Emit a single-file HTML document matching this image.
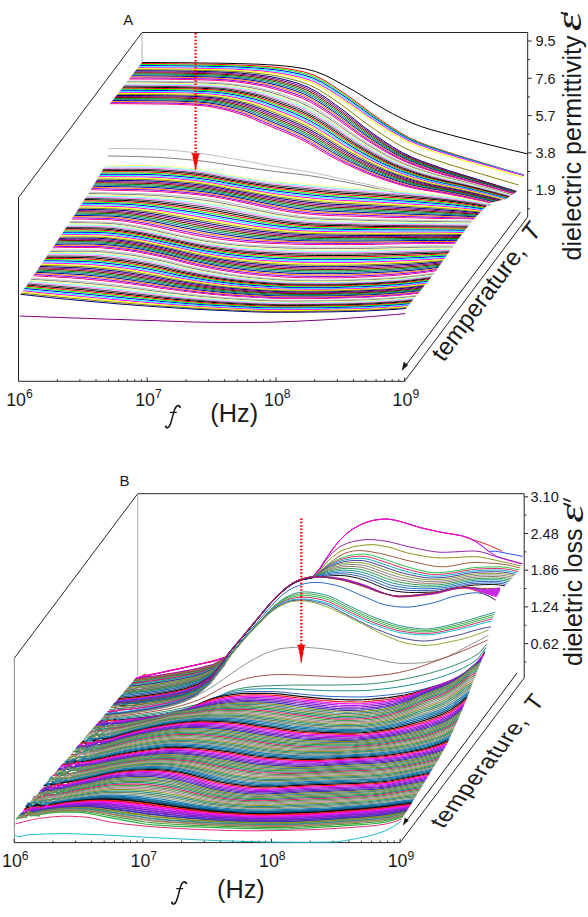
<!DOCTYPE html>
<html><head><meta charset="utf-8"><title>fig</title>
<style>
html,body{margin:0;padding:0;background:#fff;}
body{width:588px;height:917px;overflow:hidden;font-family:"Liberation Sans", sans-serif;}
svg{display:block;}
text{font-family:"Liberation Sans", sans-serif;fill:#1a1a1a;}
.se{font-family:"Liberation Serif", serif;font-style:italic;}
</style></head><body>
<svg width="588" height="917" viewBox="0 0 588 917">
<rect width="588" height="917" fill="#fff"/>
<path d="M142,32.5 L527.7,32.5" stroke="#262626" stroke-width="1" fill="none"/>
<path d="M142,32.5 L18.5,197.5" stroke="#262626" stroke-width="1" fill="none"/>
<path d="M18.5,197.5 L18.5,381.3" stroke="#222" stroke-width="1" fill="none"/>
<path d="M18.5,381.3 L404.5,381.3" stroke="#262626" stroke-width="1" fill="none"/>
<path d="M404.5,381.3 L527.7,217" stroke="#262626" stroke-width="1" fill="none"/>
<path d="M527.7,32.5 L527.7,217" stroke="#262626" stroke-width="1" fill="none"/>
<path d="M527.7,41h4M527.7,78.3h4M527.7,115.6h4M527.7,152.9h4M527.7,190.2h4M527.7,59.6h2.2M527.7,96.9h2.2M527.7,134.2h2.2M527.7,171.5h2.2M527.7,208.8h2.2" stroke="#262626" stroke-width="1" fill="none"/>
<path d="M18.5,381.3v-3.8M57.3,381.3v-2M79.9,381.3v-2M96,381.3v-2M108.5,381.3v-2M118.7,381.3v-2M127.3,381.3v-2M134.8,381.3v-2M141.3,381.3v-2M147.2,381.3v-3.8M186,381.3v-2M208.6,381.3v-2M224.7,381.3v-2M237.2,381.3v-2M247.4,381.3v-2M256,381.3v-2M263.5,381.3v-2M270.1,381.3v-2M276,381.3v-3.8M314.7,381.3v-2M337.4,381.3v-2M353.5,381.3v-2M365.9,381.3v-2M376.1,381.3v-2M384.7,381.3v-2M392.2,381.3v-2M398.8,381.3v-2M404.7,381.3v-3.8" stroke="#262626" stroke-width="1" fill="none"/>
<path d="M142,32.5V62" stroke="#999" stroke-width="0.8"/>
<path d="M137.7,493.7 L524.2,493.7" stroke="#262626" stroke-width="1" fill="none"/>
<path d="M137.7,493.7 L14.3,658.2" stroke="#262626" stroke-width="1" fill="none"/>
<path d="M14.3,658.2 L14.3,842.6" stroke="#888" stroke-width="1" fill="none"/>
<path d="M14.3,842.6 L400,842.6" stroke="#262626" stroke-width="1" fill="none"/>
<path d="M400,842.6 L524.2,678" stroke="#262626" stroke-width="1" fill="none"/>
<path d="M524.2,493.7 L524.2,678" stroke="#262626" stroke-width="1" fill="none"/>
<path d="M524.2,496.8h4M524.2,533.5h4M524.2,570.2h4M524.2,606.9h4M524.2,643.6h4M524.2,515.1h2.2M524.2,551.9h2.2M524.2,588.5h2.2M524.2,625.2h2.2M524.2,662h2.2" stroke="#262626" stroke-width="1" fill="none"/>
<path d="M14.3,842.6v-3.8M53,842.6v-2M75.7,842.6v-2M91.7,842.6v-2M104.2,842.6v-2M114.4,842.6v-2M123,842.6v-2M130.4,842.6v-2M137,842.6v-2M142.9,842.6v-3.8M181.6,842.6v-2M204.3,842.6v-2M220.3,842.6v-2M232.8,842.6v-2M243,842.6v-2M251.6,842.6v-2M259,842.6v-2M265.6,842.6v-2M271.5,842.6v-3.8M310.2,842.6v-2M332.9,842.6v-2M348.9,842.6v-2M361.4,842.6v-2M371.6,842.6v-2M380.2,842.6v-2M387.6,842.6v-2M394.2,842.6v-2M400.1,842.6v-3.8" stroke="#262626" stroke-width="1" fill="none"/>
<path d="M137.7,493.7V676" stroke="#999" stroke-width="0.8"/>
<g fill="none" stroke-width="1" stroke-linejoin="round">
<path d="M142,62.5l9.6,0 9.7,0.1 9.6,0.1 9.7,0 9.6,0.1 9.6,0.2 9.7,0.1 9.6,0.1 9.7,0.2 9.6,0.2 9.6,0.3 9.7,0.3 9.6,0.5 9.7,0.6 9.6,0.9 9.6,1.2 9.7,1.6 9.6,2.5 9.7,3.8 9.6,4.9 9.6,5.3 9.7,5.3 9.6,6 9.7,6 9.6,5.6 9.6,5.3 9.7,5 9.6,4.4 9.7,3.6 9.6,3 9.6,2.6 9.7,2.6 9.6,2.6 9.7,2.4 9.6,2.4 9.6,2.4 9.7,2.3 9.6,2.4 9.7,2.2 9.6,2.3" stroke="#000000"/>
<path d="M141.2,63.5l9.6,0.1 9.5,0 9.6,0.1 9.6,0.1 9.6,0.2 9.5,0.1 9.6,0.1 9.6,0.2 9.5,0.3 9.6,0.3 9.6,0.3 9.5,0.5 9.6,0.6 9.6,0.8 9.6,1.1 9.5,1.6 9.6,2 9.6,3 9.5,4.7 9.6,5.9 9.6,6.5 9.5,6.5 9.6,7.2 9.6,7.3 9.6,6.8 9.5,6.4 9.6,6.1 9.6,5.4 9.5,4.3 9.6,3.6 9.6,3.3 9.5,3.1 9.6,3.1 9.6,2.9 9.6,2.9 9.5,2.9 9.6,2.8 9.6,2.9 9.5,2.8 9.6,2.7" stroke="#ff0000"/>
<path d="M140.4,64.6l9.6,0 9.6,0.1 9.6,0 9.6,0.2 9.5,0.1 9.6,0.1 9.6,0.2 9.6,0.2 9.6,0.2 9.6,0.3 9.6,0.4 9.6,0.5 9.5,0.7 9.6,0.8 9.6,1.2 9.6,1.6 9.6,2.1 9.6,3.1 9.6,4.5 9.6,5.9 9.6,6.4 9.5,6.5 9.6,7.1 9.6,7.2 9.6,6.7 9.6,6.3 9.6,6 9.6,5.3 9.6,4.3 9.5,3.5 9.6,3.2 9.6,3.2 9.6,3 9.6,2.9 9.6,2.8 9.6,2.8 9.6,2.8 9.5,2.8 9.6,2.8 9.6,2.7" stroke="#00ff00"/>
<path d="M139.6,65.6l9.6,0 9.6,0.1 9.6,0.1 9.6,0.1 9.6,0.1 9.6,0.1 9.6,0.2 9.7,0.2 9.6,0.2 9.6,0.3 9.6,0.5 9.6,0.5 9.6,0.7 9.6,0.9 9.6,1.3 9.6,1.7 9.6,2.1 9.6,3.1 9.6,4.5 9.6,5.8 9.6,6.3 9.6,6.4 9.6,7 9.7,7.2 9.6,6.5 9.6,6.2 9.6,6 9.6,5.2 9.6,4.2 9.6,3.6 9.6,3.1 9.6,3.1 9.6,3 9.6,2.8 9.6,2.8 9.6,2.8 9.6,2.7 9.6,2.8 9.6,2.7 9.6,2.7" stroke="#0000ff"/>
<path d="M138.8,66.6l9.6,0.1 9.7,0 9.6,0.1 9.6,0.1 9.6,0.1 9.7,0.2 9.6,0.1 9.6,0.2 9.6,0.3 9.6,0.3 9.7,0.4 9.6,0.6 9.6,0.8 9.6,1 9.7,1.3 9.6,1.7 9.6,2.2 9.6,3 9.7,4.5 9.6,5.8 9.6,6.2 9.6,6.3 9.7,7 9.6,7 9.6,6.5 9.6,6.1 9.7,5.8 9.6,5.2 9.6,4.2 9.6,3.5 9.7,3.1 9.6,3.1 9.6,2.9 9.6,2.7 9.7,2.8 9.6,2.7 9.6,2.7 9.6,2.7 9.7,2.7 9.6,2.7" stroke="#00ffff"/>
<path d="M138,67.7l9.7,0.1 9.6,0 9.6,0.1 9.7,0.1 9.6,0.1 9.7,0.2 9.6,0.1 9.6,0.2 9.7,0.3 9.6,0.3 9.7,0.5 9.6,0.6 9.7,0.8 9.6,1.1 9.6,1.3 9.7,1.9 9.6,2.2 9.7,3 9.6,4.5 9.7,5.6 9.6,6.2 9.6,6.3 9.7,6.8 9.6,7 9.7,6.3 9.6,6.1 9.7,5.7 9.6,5.1 9.6,4.1 9.7,3.5 9.6,3.1 9.7,3 9.6,2.9 9.6,2.7 9.7,2.7 9.6,2.6 9.7,2.7 9.6,2.7 9.7,2.7 9.6,2.6" stroke="#ff00ff"/>
<path d="M137.2,68.7l9.6,0 9.7,0.1 9.6,0.1 9.6,0.1 9.7,0.1 9.6,0.1 9.6,0.2 9.7,0.2 9.6,0.3 9.6,0.3 9.7,0.5 9.6,0.7 9.6,0.8 9.7,1.1 9.6,1.5 9.6,1.9 9.7,2.3 9.6,3.1 9.6,4.5 9.7,5.6 9.6,6.1 9.6,6.3 9.7,6.9 9.6,6.9 9.6,6.4 9.6,6 9.7,5.8 9.6,5 9.6,4.2 9.7,3.4 9.6,3.2 9.6,3 9.7,2.8 9.6,2.7 9.6,2.7 9.7,2.6 9.6,2.7 9.6,2.7 9.7,2.7 9.6,2.6" stroke="#ffff00"/>
<path d="M136.4,69.7l9.6,0 9.5,0.1 9.6,0.1 9.5,0.1 9.6,0.1 9.5,0.2 9.6,0.1 9.6,0.3 9.5,0.3 9.6,0.4 9.5,0.5 9.6,0.8 9.5,1 9.6,1.2 9.5,1.6 9.6,2.2 9.5,2.5 9.6,3.3 9.6,4.7 9.5,6 9.6,6.5 9.5,6.8 9.6,7.3 9.5,7.3 9.6,6.7 9.5,6.4 9.6,6.1 9.5,5.3 9.6,4.4 9.6,3.7 9.5,3.4 9.6,3.1 9.5,3 9.6,2.9 9.5,2.8 9.6,2.8 9.5,2.8 9.6,2.9 9.5,2.8 9.6,2.8" stroke="#808000"/>
<path d="M135.6,70.7l9.5,0.1 9.6,0 9.5,0.1 9.5,0.1 9.5,0.2 9.5,0.1 9.6,0.2 9.5,0.2 9.5,0.4 9.5,0.4 9.6,0.6 9.5,0.9 9.5,1.1 9.5,1.3 9.5,1.8 9.6,2.3 9.5,2.7 9.5,3.5 9.5,5 9.6,6.2 9.5,6.8 9.5,7 9.5,7.7 9.5,7.6 9.6,7 9.5,6.6 9.5,6.3 9.5,5.6 9.6,4.6 9.5,3.9 9.5,3.4 9.5,3.3 9.5,3.2 9.6,2.9 9.5,2.9 9.5,2.9 9.5,3 9.6,2.9 9.5,3 9.5,2.9" stroke="#000080"/>
<path d="M134.8,71.8l9.5,0 9.6,0.1 9.5,0.1 9.5,0.1 9.6,0.1 9.5,0.1 9.5,0.2 9.6,0.3 9.5,0.3 9.5,0.4 9.6,0.7 9.5,0.9 9.5,1.1 9.6,1.5 9.5,1.8 9.5,2.4 9.6,2.8 9.5,3.5 9.5,4.9 9.5,6.1 9.6,6.8 9.5,7 9.5,7.5 9.6,7.5 9.5,6.9 9.5,6.6 9.6,6.3 9.5,5.5 9.5,4.5 9.6,3.8 9.5,3.5 9.5,3.3 9.6,3 9.5,2.9 9.5,2.8 9.6,2.9 9.5,2.9 9.5,3 9.5,2.9 9.6,2.9" stroke="#800080"/>
<path d="M134,72.8l9.6,0 9.5,0.1 9.5,0.1 9.6,0.1 9.5,0.1 9.6,0.2 9.5,0.1 9.5,0.3 9.6,0.4 9.5,0.4 9.6,0.7 9.5,0.9 9.6,1.2 9.5,1.5 9.5,1.9 9.6,2.5 9.5,2.8 9.6,3.5 9.5,4.9 9.5,6.1 9.6,6.7 9.5,6.9 9.6,7.5 9.5,7.4 9.5,6.8 9.6,6.5 9.5,6.2 9.6,5.4 9.5,4.5 9.5,3.8 9.6,3.4 9.5,3.3 9.6,3 9.5,2.8 9.6,2.8 9.5,2.8 9.5,2.9 9.6,2.9 9.5,2.9 9.6,2.9" stroke="#800000"/>
<path d="M133.2,73.8l9.6,0.1 9.5,0 9.6,0.1 9.5,0.1 9.6,0.1 9.5,0.2 9.6,0.2 9.5,0.2 9.6,0.4 9.5,0.4 9.6,0.7 9.5,1.1 9.6,1.2 9.5,1.5 9.6,2 9.5,2.6 9.6,2.8 9.5,3.6 9.6,4.8 9.5,6 9.6,6.6 9.5,6.9 9.6,7.4 9.5,7.3 9.6,6.8 9.5,6.4 9.6,6.1 9.5,5.4 9.6,4.4 9.5,3.8 9.6,3.4 9.5,3.2 9.6,3 9.5,2.7 9.6,2.8 9.5,2.8 9.6,2.8 9.5,2.9 9.6,2.8 9.5,2.9" stroke="#008000"/>
<path d="M132.4,74.9l9.6,0 9.5,0 9.6,0.1 9.6,0.1 9.5,0.2 9.6,0.1 9.5,0.2 9.6,0.3 9.6,0.3 9.5,0.5 9.6,0.7 9.5,1.1 9.6,1.3 9.6,1.5 9.5,2.1 9.6,2.6 9.5,2.9 9.6,3.6 9.6,4.8 9.5,5.9 9.6,6.6 9.5,6.8 9.6,7.3 9.6,7.3 9.5,6.7 9.6,6.3 9.5,6 9.6,5.3 9.6,4.4 9.5,3.8 9.6,3.3 9.5,3.2 9.6,2.9 9.6,2.8 9.5,2.6 9.6,2.8 9.5,2.8 9.6,2.8 9.6,2.9 9.5,2.8" stroke="#008080"/>
<path d="M131.6,75.9l9.6,0 9.6,0.1 9.5,0.1 9.6,0.1 9.6,0.1 9.5,0.1 9.6,0.2 9.6,0.3 9.6,0.4 9.5,0.4 9.6,0.8 9.6,1.1 9.5,1.3 9.6,1.7 9.6,2.1 9.5,2.7 9.6,2.9 9.6,3.6 9.5,4.8 9.6,5.8 9.6,6.5 9.6,6.8 9.5,7.3 9.6,7.1 9.6,6.6 9.5,6.3 9.6,5.9 9.6,5.2 9.5,4.4 9.6,3.7 9.6,3.4 9.5,3.1 9.6,2.9 9.6,2.7 9.6,2.6 9.5,2.7 9.6,2.8 9.6,2.8 9.5,2.8 9.6,2.8" stroke="#0000a0"/>
<path d="M130.8,76.9l9.6,0 9.6,0.1 9.6,0.1 9.5,0.1 9.6,0.1 9.6,0.2 9.6,0.1 9.6,0.3 9.5,0.4 9.6,0.5 9.6,0.8 9.6,1.1 9.6,1.4 9.5,1.7 9.6,2.2 9.6,2.7 9.6,3 9.5,3.6 9.6,4.8 9.6,5.8 9.6,6.4 9.6,6.7 9.5,7.2 9.6,7.1 9.6,6.5 9.6,6.2 9.6,5.8 9.5,5.2 9.6,4.3 9.6,3.7 9.6,3.3 9.5,3.1 9.6,2.9 9.6,2.6 9.6,2.6 9.6,2.6 9.5,2.7 9.6,2.8 9.6,2.8 9.6,2.8" stroke="#ff8000"/>
<path d="M130,78l9.6,0 9.6,0 9.6,0.1 9.6,0.1 9.6,0.1 9.6,0.2 9.5,0.2 9.6,0.2 9.6,0.4 9.6,0.5 9.6,0.9 9.6,1.1 9.6,1.5 9.6,1.7 9.6,2.3 9.5,2.8 9.6,3 9.6,3.6 9.6,4.7 9.6,5.8 9.6,6.3 9.6,6.7 9.6,7.1 9.5,7 9.6,6.4 9.6,6.1 9.6,5.8 9.6,5.1 9.6,4.3 9.6,3.7 9.6,3.3 9.6,3 9.5,2.8 9.6,2.6 9.6,2.5 9.6,2.6 9.6,2.7 9.6,2.8 9.6,2.7 9.6,2.8" stroke="#8000ff"/>
<path d="M129.2,79l9.6,0 9.6,0.1 9.6,0 9.6,0.1 9.6,0.2 9.6,0.1 9.6,0.2 9.6,0.3 9.6,0.4 9.6,0.5 9.6,0.8 9.6,1.2 9.6,1.5 9.6,1.8 9.6,2.4 9.6,2.8 9.6,3.1 9.6,3.6 9.6,4.7 9.6,5.7 9.6,6.3 9.6,6.6 9.6,7 9.6,7 9.6,6.3 9.6,6 9.6,5.7 9.6,5 9.6,4.3 9.6,3.6 9.6,3.3 9.6,3 9.6,2.8 9.6,2.5 9.6,2.5 9.5,2.5 9.6,2.7 9.6,2.7 9.6,2.7 9.6,2.8" stroke="#ff0080"/>
<path d="M127.6,81l9.7,0.1 9.6,0 9.6,0.1 9.6,0.1 9.6,0.1 9.6,0.1 9.7,0.2 9.6,0.3 9.6,0.4 9.6,0.6 9.6,0.9 9.6,1.3 9.7,1.6 9.6,1.9 9.6,2.5 9.6,2.9 9.6,3.2 9.6,3.6 9.7,4.6 9.6,5.6 9.6,6.1 9.6,6.5 9.6,7 9.6,6.7 9.7,6.2 9.6,5.8 9.6,5.6 9.6,4.9 9.6,4.1 9.6,3.7 9.7,3.2 9.6,2.9 9.6,2.7 9.6,2.4 9.6,2.4 9.6,2.5 9.7,2.6 9.6,2.6 9.6,2.7 9.6,2.7" stroke="#c0c0c0"/>
<path d="M126.8,82.1l9.7,0 9.6,0 9.6,0.1 9.6,0.1 9.6,0.1 9.7,0.2 9.6,0.2 9.6,0.3 9.6,0.4 9.7,0.5 9.6,1 9.6,1.3 9.6,1.6 9.6,2 9.7,2.5 9.6,3.1 9.6,3.2 9.6,3.6 9.6,4.6 9.7,5.5 9.6,6.1 9.6,6.5 9.6,6.8 9.7,6.7 9.6,6.1 9.6,5.8 9.6,5.5 9.6,4.8 9.7,4.1 9.6,3.6 9.6,3.2 9.6,2.9 9.6,2.6 9.7,2.4 9.6,2.4 9.6,2.4 9.6,2.6 9.7,2.6 9.6,2.6 9.6,2.7" stroke="#808080"/>
<path d="M126,83.1l9.7,0 9.6,0.1 9.6,0.1 9.6,0.1 9.7,0.1 9.6,0.1 9.6,0.2 9.7,0.3 9.6,0.4 9.6,0.6 9.6,0.9 9.7,1.4 9.6,1.7 9.6,2 9.6,2.6 9.7,3.1 9.6,3.3 9.6,3.6 9.6,4.6 9.7,5.4 9.6,6.1 9.6,6.4 9.6,6.8 9.7,6.6 9.6,6 9.6,5.7 9.7,5.4 9.6,4.8 9.6,4.1 9.6,3.6 9.7,3.1 9.6,2.9 9.6,2.6 9.6,2.3 9.7,2.3 9.6,2.4 9.6,2.6 9.6,2.6 9.7,2.6 9.6,2.7" stroke="#ffff80"/>
<path d="M125.2,84.1l9.7,0.1 9.6,0 9.6,0.1 9.7,0.1 9.6,0.1 9.6,0.1 9.7,0.2 9.6,0.3 9.6,0.5 9.7,0.5 9.6,1 9.6,1.4 9.7,1.8 9.6,2 9.6,2.7 9.6,3.2 9.7,3.3 9.6,3.6 9.6,4.6 9.7,5.3 9.6,6 9.6,6.4 9.7,6.7 9.6,6.6 9.6,5.9 9.7,5.7 9.6,5.3 9.6,4.7 9.7,4.1 9.6,3.5 9.6,3.2 9.6,2.8 9.7,2.6 9.6,2.2 9.6,2.3 9.7,2.4 9.6,2.5 9.6,2.5 9.7,2.6 9.6,2.7" stroke="#80ffff"/>
<path d="M124.4,85.2l9.7,0 9.6,0 9.7,0.1 9.6,0.1 9.6,0.1 9.7,0.1 9.6,0.2 9.6,0.4 9.7,0.4 9.6,0.6 9.6,1 9.7,1.4 9.6,1.8 9.7,2.1 9.6,2.8 9.6,3.2 9.7,3.4 9.6,3.6 9.6,4.5 9.7,5.3 9.6,6 9.6,6.3 9.7,6.7 9.6,6.4 9.7,5.9 9.6,5.6 9.6,5.3 9.7,4.6 9.6,4 9.6,3.6 9.7,3.1 9.6,2.8 9.6,2.5 9.7,2.3 9.6,2.2 9.7,2.3 9.6,2.5 9.6,2.5 9.7,2.6 9.6,2.6" stroke="#ff80ff"/>
<path d="M123.6,86.2l9.7,0 9.6,0.1 9.7,0 9.6,0.1 9.7,0.1 9.6,0.2 9.6,0.2 9.7,0.3 9.6,0.4 9.7,0.6 9.6,1 9.6,1.6 9.7,1.8 9.6,2.1 9.7,2.8 9.6,3.3 9.6,3.4 9.7,3.7 9.6,4.5 9.7,5.2 9.6,5.9 9.7,6.3 9.6,6.6 9.6,6.4 9.7,5.8 9.6,5.5 9.7,5.2 9.6,4.6 9.6,4 9.7,3.5 9.6,3.1 9.7,2.8 9.6,2.5 9.7,2.2 9.6,2.1 9.6,2.3 9.7,2.5 9.6,2.5 9.7,2.5 9.6,2.7" stroke="#404040"/>
<path d="M122.8,87.2l9.7,0 9.6,0.1 9.7,0.1 9.6,0.1 9.7,0.1 9.6,0.1 9.7,0.2 9.6,0.3 9.7,0.5 9.6,0.5 9.7,1.1 9.6,1.6 9.6,1.8 9.7,2.2 9.6,2.9 9.7,3.4 9.6,3.4 9.7,3.7 9.6,4.4 9.7,5.2 9.6,5.8 9.7,6.3 9.6,6.6 9.7,6.3 9.6,5.7 9.7,5.5 9.6,5.1 9.6,4.5 9.7,4 9.6,3.5 9.7,3.1 9.6,2.7 9.7,2.4 9.6,2.2 9.7,2.1 9.6,2.3 9.7,2.4 9.6,2.4 9.7,2.6 9.6,2.6" stroke="#000000"/>
<path d="M122,88.2l9.7,0.1 9.7,0 9.6,0.1 9.7,0.1 9.6,0.1 9.7,0.1 9.6,0.2 9.7,0.3 9.6,0.5 9.7,0.6 9.6,1.1 9.7,1.6 9.6,1.9 9.7,2.2 9.6,3 9.7,3.4 9.6,3.5 9.7,3.7 9.6,4.4 9.7,5.1 9.6,5.8 9.7,6.2 9.6,6.5 9.7,6.2 9.6,5.7 9.7,5.4 9.6,5 9.7,4.6 9.6,3.8 9.7,3.5 9.6,3.1 9.7,2.7 9.6,2.4 9.7,2.1 9.6,2.1 9.7,2.2 9.6,2.4 9.7,2.4 9.6,2.5 9.7,2.6" stroke="#ff0000"/>
<path d="M121.3,89.3l9.6,0 9.7,0 9.6,0.1 9.7,0.1 9.6,0.1 9.7,0.1 9.6,0.2 9.7,0.4 9.7,0.4 9.6,0.6 9.7,1.2 9.6,1.6 9.7,1.9 9.6,2.3 9.7,3 9.7,3.5 9.6,3.5 9.7,3.8 9.6,4.3 9.7,5.1 9.6,5.7 9.7,6.2 9.6,6.4 9.7,6.2 9.7,5.6 9.6,5.3 9.7,5 9.6,4.5 9.7,3.8 9.6,3.4 9.7,3.1 9.7,2.7 9.6,2.3 9.7,2.1 9.6,2 9.7,2.2 9.6,2.4 9.7,2.4 9.6,2.5 9.7,2.5" stroke="#00ff00"/>
<path d="M120.5,90.3l9.6,0 9.7,0.1 9.6,0 9.7,0.1 9.7,0.1 9.6,0.2 9.7,0.2 9.6,0.3 9.7,0.5 9.7,0.6 9.6,1.1 9.7,1.7 9.6,2 9.7,2.3 9.7,3.1 9.6,3.5 9.7,3.6 9.7,3.7 9.6,4.4 9.7,5 9.6,5.6 9.7,6.2 9.7,6.4 9.6,6 9.7,5.6 9.6,5.2 9.7,5 9.7,4.3 9.6,3.9 9.7,3.4 9.6,3 9.7,2.7 9.7,2.3 9.6,2 9.7,2 9.7,2.1 9.6,2.4 9.7,2.4 9.6,2.4 9.7,2.6" stroke="#0000ff"/>
<path d="M119.7,91.3l9.6,0.1 9.7,0 9.7,0.1 9.6,0.1 9.7,0.1 9.7,0.1 9.6,0.2 9.7,0.3 9.7,0.5 9.6,0.6 9.7,1.2 9.6,1.7 9.7,2 9.7,2.4 9.6,3.1 9.7,3.6 9.7,3.7 9.6,3.7 9.7,4.3 9.7,4.9 9.6,5.7 9.7,6.1 9.7,6.3 9.6,6 9.7,5.4 9.7,5.2 9.6,4.9 9.7,4.3 9.7,3.8 9.6,3.4 9.7,3 9.7,2.7 9.6,2.2 9.7,2 9.7,2 9.6,2.1 9.7,2.3 9.7,2.3 9.6,2.5 9.7,2.5" stroke="#00ffff"/>
<path d="M118.9,92.4l9.6,0 9.7,0 9.6,0.1 9.7,0.1 9.6,0.1 9.7,0.1 9.6,0.2 9.7,0.4 9.6,0.4 9.7,0.7 9.6,1.2 9.7,1.7 9.6,2.1 9.7,2.4 9.6,3.2 9.7,3.6 9.6,3.7 9.7,3.7 9.6,4.3 9.7,4.9 9.6,5.6 9.7,6 9.6,6.3 9.7,5.9 9.6,5.4 9.7,5.1 9.6,4.8 9.7,4.3 9.6,3.7 9.7,3.4 9.6,3 9.7,2.6 9.6,2.2 9.7,2 9.6,1.9 9.7,2 9.6,2.3 9.7,2.3 9.6,2.5 9.7,2.5" stroke="#ff00ff"/>
<path d="M118.1,93.4l9.6,0 9.6,0.1 9.7,0 9.6,0.1 9.6,0.1 9.7,0.1 9.6,0.2 9.6,0.4 9.7,0.5 9.6,0.6 9.6,1.2 9.7,1.8 9.6,2.1 9.7,2.5 9.6,3.2 9.6,3.7 9.7,3.7 9.6,3.8 9.6,4.2 9.7,4.8 9.6,5.5 9.6,6 9.7,6.2 9.6,5.9 9.6,5.3 9.7,5.1 9.6,4.7 9.6,4.2 9.7,3.7 9.6,3.4 9.7,2.9 9.6,2.6 9.6,2.2 9.7,1.9 9.6,1.9 9.6,2 9.7,2.2 9.6,2.3 9.6,2.4 9.7,2.5" stroke="#ffff00"/>
<path d="M117.3,94.4l9.6,0 9.6,0.1 9.6,0.1 9.6,0 9.7,0.1 9.6,0.2 9.6,0.2 9.6,0.3 9.6,0.5 9.7,0.7 9.6,1.2 9.6,1.8 9.6,2.2 9.6,2.5 9.7,3.3 9.6,3.7 9.6,3.7 9.6,3.8 9.6,4.2 9.7,4.8 9.6,5.4 9.6,6 9.6,6.1 9.6,5.8 9.7,5.2 9.6,5 9.6,4.7 9.6,4.2 9.6,3.6 9.7,3.3 9.6,3 9.6,2.5 9.6,2.2 9.6,1.8 9.7,1.9 9.6,2 9.6,2.1 9.6,2.3 9.6,2.4 9.6,2.5" stroke="#808000"/>
<path d="M116.5,95.5l9.6,0 9.6,0 9.6,0.1 9.6,0.1 9.6,0.1 9.6,0.1 9.6,0.2 9.6,0.3 9.6,0.5 9.6,0.7 9.6,1.3 9.6,1.8 9.6,2.2 9.6,2.6 9.6,3.3 9.6,3.8 9.6,3.8 9.6,3.7 9.6,4.2 9.6,4.7 9.7,5.4 9.6,5.9 9.6,6.1 9.6,5.7 9.6,5.2 9.6,4.9 9.6,4.6 9.6,4.1 9.6,3.6 9.6,3.3 9.6,2.9 9.6,2.6 9.6,2.1 9.6,1.8 9.6,1.8 9.6,1.9 9.6,2.2 9.6,2.2 9.6,2.4 9.6,2.4" stroke="#000080"/>
<path d="M115.7,96.5l9.6,0 9.5,0 9.6,0.1 9.6,0.1 9.6,0.1 9.6,0.1 9.6,0.2 9.6,0.4 9.6,0.5 9.6,0.6 9.5,1.3 9.6,1.9 9.6,2.2 9.6,2.6 9.6,3.4 9.6,3.9 9.6,3.8 9.6,3.8 9.6,4.1 9.5,4.6 9.6,5.4 9.6,5.8 9.6,6.1 9.6,5.6 9.6,5.1 9.6,4.8 9.6,4.6 9.6,4 9.5,3.6 9.6,3.3 9.6,2.9 9.6,2.5 9.6,2 9.6,1.8 9.6,1.8 9.6,1.9 9.6,2.1 9.5,2.2 9.6,2.4 9.6,2.4" stroke="#800080"/>
<path d="M114.9,97.5l9.5,0 9.6,0.1 9.6,0 9.6,0.1 9.5,0.1 9.6,0.1 9.6,0.2 9.6,0.4 9.5,0.5 9.6,0.7 9.6,1.3 9.5,1.9 9.6,2.3 9.6,2.6 9.6,3.5 9.5,3.8 9.6,3.9 9.6,3.8 9.6,4.1 9.5,4.5 9.6,5.3 9.6,5.9 9.6,5.9 9.5,5.6 9.6,5 9.6,4.8 9.5,4.5 9.6,4 9.6,3.5 9.6,3.3 9.5,2.8 9.6,2.5 9.6,2 9.6,1.7 9.5,1.7 9.6,1.9 9.6,2.1 9.6,2.2 9.5,2.3 9.6,2.4" stroke="#800000"/>
<path d="M114.1,98.6l9.5,0 9.6,0 9.5,0.1 9.6,0 9.6,0.1 9.5,0.2 9.6,0.2 9.5,0.3 9.6,0.5 9.5,0.7 9.6,1.4 9.6,1.9 9.5,2.3 9.6,2.7 9.5,3.5 9.6,3.9 9.6,3.9 9.5,3.8 9.6,4 9.5,4.6 9.6,5.2 9.5,5.8 9.6,5.9 9.6,5.5 9.5,4.9 9.6,4.7 9.5,4.4 9.6,4 9.5,3.5 9.6,3.2 9.6,2.9 9.5,2.4 9.6,2 9.5,1.7 9.6,1.6 9.6,1.9 9.5,2.1 9.6,2.1 9.5,2.3 9.6,2.4" stroke="#008000"/>
<path d="M113.3,99.6l9.5,0 9.6,0 9.5,0.1 9.5,0.1 9.6,0.1 9.5,0.1 9.6,0.2 9.5,0.3 9.6,0.6 9.5,0.7 9.5,1.3 9.6,2 9.5,2.3 9.6,2.7 9.5,3.6 9.5,4 9.6,3.9 9.5,3.8 9.6,4 9.5,4.5 9.6,5.2 9.5,5.7 9.5,5.8 9.6,5.4 9.5,4.9 9.6,4.7 9.5,4.3 9.6,3.9 9.5,3.5 9.5,3.2 9.6,2.8 9.5,2.4 9.6,2 9.5,1.6 9.6,1.6 9.5,1.9 9.5,2 9.6,2.1 9.5,2.3 9.6,2.4" stroke="#008080"/>
<path d="M112.5,100.6l9.5,0 9.5,0.1 9.6,0 9.5,0.1 9.5,0.1 9.5,0.1 9.6,0.2 9.5,0.4 9.5,0.5 9.5,0.7 9.6,1.4 9.5,2 9.5,2.3 9.6,2.8 9.5,3.6 9.5,4 9.5,4 9.6,3.8 9.5,4 9.5,4.4 9.5,5.1 9.6,5.7 9.5,5.8 9.5,5.3 9.5,4.8 9.6,4.6 9.5,4.3 9.5,3.8 9.6,3.5 9.5,3.2 9.5,2.8 9.5,2.3 9.6,1.9 9.5,1.6 9.5,1.6 9.5,1.8 9.6,2 9.5,2.1 9.5,2.3 9.6,2.3" stroke="#0000a0"/>
<path d="M111.7,101.6l9.5,0.1 9.5,0 9.5,0 9.5,0.1 9.5,0.1 9.5,0.1 9.6,0.2 9.5,0.4 9.5,0.5 9.5,0.7 9.5,1.4 9.5,2.1 9.5,2.4 9.5,2.8 9.5,3.6 9.6,4.1 9.5,4 9.5,3.8 9.5,3.9 9.5,4.4 9.5,5.1 9.5,5.6 9.5,5.7 9.6,5.3 9.5,4.7 9.5,4.6 9.5,4.2 9.5,3.8 9.5,3.4 9.5,3.1 9.5,2.8 9.5,2.3 9.6,1.9 9.5,1.6 9.5,1.5 9.5,1.8 9.5,1.9 9.5,2.1 9.5,2.3 9.5,2.3" stroke="#ff8000"/>
<path d="M110.9,102.7l9.5,0 9.5,0 9.5,0.1 9.5,0.1 9.5,0 9.5,0.2 9.4,0.2 9.5,0.3 9.5,0.6 9.5,0.7 9.5,1.4 9.5,2.1 9.5,2.4 9.5,2.8 9.5,3.7 9.5,4.1 9.5,4 9.5,3.8 9.5,4 9.5,4.3 9.5,5 9.5,5.6 9.5,5.7 9.5,5.1 9.5,4.7 9.5,4.5 9.5,4.1 9.5,3.8 9.5,3.3 9.5,3.2 9.5,2.7 9.4,2.3 9.5,1.9 9.5,1.5 9.5,1.5 9.5,1.7 9.5,2 9.5,2 9.5,2.2 9.5,2.3" stroke="#8000ff"/>
<path d="M110.1,103.7l9.5,0 9.4,0 9.5,0.1 9.5,0.1 9.5,0.1 9.5,0.1 9.4,0.2 9.5,0.4 9.5,0.5 9.5,0.7 9.5,1.5 9.4,2 9.5,2.5 9.5,2.9 9.5,3.7 9.5,4.2 9.4,4 9.5,3.8 9.5,3.9 9.5,4.3 9.5,4.9 9.5,5.6 9.4,5.6 9.5,5.1 9.5,4.6 9.5,4.4 9.5,4.1 9.4,3.7 9.5,3.3 9.5,3.1 9.5,2.8 9.5,2.3 9.4,1.7 9.5,1.5 9.5,1.5 9.5,1.7 9.5,1.9 9.4,2 9.5,2.2 9.5,2.3" stroke="#ff0080"/>
<path d="M108.5,148.5l9.6,0 9.5,0.1 9.6,0.2 9.6,0.1 9.5,0.3 9.6,0.6 9.5,0.8 9.6,1 9.6,1.1 9.5,1.2 9.6,1.4 9.5,1.7 9.6,1.7 9.6,1.7 9.5,1.8 9.6,1.8 9.6,1.8 9.5,1.6 9.6,1.5 9.6,1.4 9.5,1.6 9.6,1.9 9.5,2.1 9.6,2.2 9.6,2 9.5,2.1 9.6,2 9.5,2.1 9.6,2.1 9.6,2.2 9.5,2.1 9.6,1.7 9.6,1.5 9.5,1.4 9.6,1.3 9.6,1.3 9.5,1.2 9.6,1.2 9.5,1.1 9.6,1.1" stroke="#c0c0c0"/>
<path d="M107.7,156l9.6,0.1 9.5,0.2 9.6,0.2 9.6,0.4 9.5,0.3 9.6,0.6 9.5,0.7 9.6,0.8 9.6,0.9 9.5,1 9.6,1.3 9.5,1.5 9.6,1.5 9.6,1.4 9.5,1.4 9.6,1.3 9.6,1.3 9.5,1.2 9.6,1.1 9.6,1.1 9.5,1.2 9.6,1.5 9.5,1.7 9.6,1.8 9.6,1.8 9.5,1.9 9.6,1.9 9.5,2 9.6,2 9.6,2.1 9.5,1.9 9.6,1.7 9.6,1.4 9.5,1.2 9.6,1.2 9.6,1.1 9.5,1.2 9.6,1.1 9.5,1.1 9.6,1.1" stroke="#808080"/>
<path d="M105,166l9.6,-0.2 9.6,-0.1 9.6,-0.1 9.6,0 9.6,0.1 9.6,0.4 9.6,0.7 9.6,0.8 9.6,1 9.6,1 9.6,1.5 9.6,1.9 9.6,2 9.6,1.7 9.6,1.5 9.6,1.4 9.6,1.2 9.6,1.1 9.6,0.8 9.6,0.8 9.6,0.7 9.6,0.9 9.6,0.9 9.6,0.8 9.6,0.7 9.6,0.7 9.6,0.6 9.6,0.6 9.6,0.7 9.6,0.7 9.6,0.7 9.6,0.8 9.6,0.9 9.6,1 9.6,1.2 9.6,1.2 9.6,1.4 9.6,1.6 9.6,1.8 9.6,2.1" stroke="#ffff80"/>
<path d="M104.3,167.2l9.6,-0.2 9.6,-0.1 9.6,0 9.6,0 9.6,0.1 9.6,0.4 9.6,0.6 9.6,0.8 9.6,1 9.6,1 9.6,1.4 9.6,1.9 9.6,2 9.6,1.7 9.6,1.5 9.6,1.4 9.6,1.3 9.6,1.1 9.6,0.9 9.6,0.8 9.6,0.8 9.6,0.9 9.6,0.9 9.6,0.8 9.5,0.7 9.6,0.7 9.6,0.5 9.6,0.7 9.6,0.6 9.6,0.7 9.6,0.7 9.6,0.8 9.6,0.9 9.6,0.9 9.6,1.1 9.6,1.2 9.6,1.3 9.6,1.6 9.6,1.7 9.6,2" stroke="#80ffff"/>
<path d="M103.6,168.4l9.6,-0.2 9.6,-0.1 9.6,0 9.6,0 9.6,0.1 9.6,0.4 9.6,0.6 9.6,0.9 9.6,0.9 9.5,1 9.6,1.4 9.6,1.9 9.6,1.9 9.6,1.7 9.6,1.5 9.6,1.5 9.6,1.3 9.6,1.2 9.6,0.9 9.6,0.9 9.6,0.8 9.6,0.9 9.6,0.9 9.6,0.9 9.6,0.6 9.6,0.6 9.6,0.6 9.6,0.6 9.6,0.7 9.6,0.6 9.6,0.7 9.6,0.7 9.6,0.9 9.6,0.9 9.6,1 9.6,1.2 9.6,1.3 9.6,1.4 9.6,1.7 9.5,1.9" stroke="#ff80ff"/>
<path d="M102.9,169.6l9.6,-0.2 9.6,0 9.6,-0.1 9.6,0.1 9.5,0.1 9.6,0.4 9.6,0.6 9.6,0.8 9.6,0.9 9.6,1 9.6,1.4 9.6,1.8 9.6,1.9 9.6,1.7 9.6,1.5 9.6,1.5 9.6,1.4 9.6,1.2 9.6,1 9.6,0.9 9.6,0.9 9.6,0.9 9.6,0.9 9.6,0.9 9.5,0.7 9.6,0.5 9.6,0.6 9.6,0.6 9.6,0.6 9.6,0.6 9.6,0.7 9.6,0.7 9.6,0.8 9.6,0.9 9.6,1 9.6,1.1 9.6,1.2 9.6,1.4 9.6,1.6 9.6,1.8" stroke="#404040"/>
<path d="M102.2,170.8l9.6,-0.2 9.5,0 9.6,0 9.6,0 9.6,0.1 9.6,0.4 9.6,0.6 9.6,0.8 9.6,0.9 9.6,1 9.6,1.4 9.6,1.7 9.6,1.9 9.6,1.7 9.6,1.6 9.6,1.5 9.5,1.4 9.6,1.3 9.6,1 9.6,1 9.6,0.9 9.6,0.9 9.6,1 9.6,0.8 9.6,0.7 9.6,0.5 9.6,0.5 9.6,0.6 9.6,0.6 9.6,0.6 9.6,0.7 9.5,0.7 9.6,0.7 9.6,0.9 9.6,0.9 9.6,1.1 9.6,1.1 9.6,1.4 9.6,1.4 9.6,1.7" stroke="#000000"/>
<path d="M101.5,172l9.5,-0.2 9.6,0 9.6,0 9.6,0.1 9.6,0.1 9.6,0.4 9.6,0.6 9.6,0.8 9.6,0.8 9.6,1 9.6,1.4 9.6,1.7 9.5,1.8 9.6,1.7 9.6,1.6 9.6,1.5 9.6,1.5 9.6,1.3 9.6,1.1 9.6,1 9.6,1 9.6,1 9.6,0.9 9.6,0.8 9.5,0.7 9.6,0.5 9.6,0.5 9.6,0.6 9.6,0.6 9.6,0.6 9.6,0.6 9.6,0.6 9.6,0.8 9.6,0.8 9.6,0.9 9.6,0.9 9.5,1.2 9.6,1.2 9.6,1.4 9.6,1.6" stroke="#ff0000"/>
<path d="M100.7,173.1l9.6,0 9.6,-0.1 9.6,0.1 9.6,0 9.6,0.2 9.6,0.3 9.6,0.6 9.6,0.8 9.6,0.9 9.5,0.9 9.6,1.3 9.6,1.7 9.6,1.8 9.6,1.7 9.6,1.6 9.6,1.6 9.6,1.5 9.6,1.4 9.6,1.1 9.5,1.1 9.6,1 9.6,1 9.6,0.9 9.6,0.8 9.6,0.7 9.6,0.5 9.6,0.5 9.6,0.5 9.6,0.6 9.5,0.6 9.6,0.6 9.6,0.6 9.6,0.7 9.6,0.8 9.6,0.8 9.6,0.9 9.6,1.1 9.6,1.2 9.6,1.3 9.5,1.5" stroke="#00ff00"/>
<path d="M100,174.3l9.6,0 9.6,0 9.6,0 9.6,0.1 9.6,0.1 9.6,0.4 9.6,0.6 9.5,0.7 9.6,0.9 9.6,0.9 9.6,1.3 9.6,1.6 9.6,1.8 9.6,1.7 9.6,1.7 9.5,1.6 9.6,1.5 9.6,1.4 9.6,1.2 9.6,1.2 9.6,1 9.6,1 9.6,0.9 9.6,0.8 9.5,0.7 9.6,0.5 9.6,0.4 9.6,0.6 9.6,0.5 9.6,0.6 9.6,0.6 9.6,0.6 9.5,0.6 9.6,0.8 9.6,0.8 9.6,0.8 9.6,1 9.6,1.1 9.6,1.3 9.6,1.4" stroke="#0000ff"/>
<path d="M99.3,175.5l9.6,0 9.6,0 9.6,0.1 9.6,0 9.6,0.2 9.5,0.3 9.6,0.6 9.6,0.8 9.6,0.8 9.6,0.9 9.6,1.3 9.6,1.6 9.6,1.7 9.5,1.7 9.6,1.7 9.6,1.6 9.6,1.6 9.6,1.4 9.6,1.3 9.6,1.2 9.5,1.1 9.6,1 9.6,1 9.6,0.7 9.6,0.7 9.6,0.4 9.6,0.5 9.6,0.5 9.5,0.6 9.6,0.5 9.6,0.6 9.6,0.5 9.6,0.7 9.6,0.7 9.6,0.7 9.5,0.8 9.6,0.9 9.6,1.1 9.6,1.2 9.6,1.3" stroke="#00ffff"/>
<path d="M98.6,176.7l9.6,0 9.6,0 9.6,0.1 9.6,0.1 9.5,0.1 9.6,0.4 9.6,0.5 9.6,0.8 9.6,0.8 9.6,0.9 9.5,1.3 9.6,1.5 9.6,1.7 9.6,1.8 9.6,1.6 9.6,1.7 9.6,1.6 9.5,1.5 9.6,1.4 9.6,1.2 9.6,1.1 9.6,1 9.6,1 9.6,0.8 9.5,0.6 9.6,0.4 9.6,0.5 9.6,0.5 9.6,0.5 9.6,0.5 9.5,0.5 9.6,0.6 9.6,0.6 9.6,0.6 9.6,0.8 9.6,0.7 9.6,0.9 9.5,1 9.6,1 9.6,1.3" stroke="#ff00ff"/>
<path d="M97.9,177.9l9.6,0 9.6,0.1 9.6,0.1 9.5,0.1 9.6,0.1 9.6,0.3 9.6,0.6 9.6,0.7 9.6,0.8 9.5,0.9 9.6,1.3 9.6,1.5 9.6,1.6 9.6,1.8 9.6,1.6 9.5,1.7 9.6,1.7 9.6,1.5 9.6,1.5 9.6,1.2 9.6,1.2 9.5,1 9.6,1 9.6,0.8 9.6,0.6 9.6,0.4 9.6,0.4 9.5,0.5 9.6,0.5 9.6,0.5 9.6,0.5 9.6,0.6 9.6,0.5 9.5,0.6 9.6,0.7 9.6,0.7 9.6,0.8 9.6,0.9 9.6,1 9.5,1.2" stroke="#ffff00"/>
<path d="M97.2,179.1l9.6,0 9.6,0.1 9.5,0.1 9.6,0.1 9.6,0.2 9.6,0.3 9.6,0.5 9.5,0.7 9.6,0.9 9.6,0.8 9.6,1.2 9.6,1.5 9.6,1.6 9.5,1.8 9.6,1.7 9.6,1.7 9.6,1.7 9.6,1.6 9.5,1.5 9.6,1.3 9.6,1.2 9.6,1.1 9.6,0.9 9.6,0.8 9.5,0.6 9.6,0.4 9.6,0.4 9.6,0.5 9.6,0.5 9.5,0.5 9.6,0.4 9.6,0.5 9.6,0.6 9.6,0.5 9.6,0.6 9.5,0.7 9.6,0.7 9.6,0.9 9.6,0.9 9.6,1" stroke="#808000"/>
<path d="M96.5,180.3l9.6,0 9.5,0.1 9.6,0.1 9.6,0.2 9.6,0.1 9.6,0.3 9.5,0.6 9.6,0.7 9.6,0.8 9.6,0.9 9.6,1.1 9.5,1.4 9.6,1.6 9.6,1.8 9.6,1.7 9.6,1.7 9.5,1.8 9.6,1.6 9.6,1.6 9.6,1.3 9.6,1.3 9.5,1.1 9.6,0.9 9.6,0.8 9.6,0.6 9.6,0.4 9.5,0.4 9.6,0.4 9.6,0.5 9.6,0.5 9.6,0.4 9.5,0.5 9.6,0.5 9.6,0.5 9.6,0.6 9.6,0.6 9.5,0.7 9.6,0.7 9.6,0.9 9.6,0.9" stroke="#000080"/>
<path d="M95.8,181.5l9.6,0 9.5,0.2 9.6,0.1 9.6,0.1 9.6,0.2 9.5,0.3 9.6,0.5 9.6,0.7 9.6,0.8 9.6,0.9 9.5,1.1 9.6,1.4 9.6,1.6 9.6,1.7 9.6,1.7 9.5,1.8 9.6,1.8 9.6,1.7 9.6,1.6 9.5,1.4 9.6,1.3 9.6,1.1 9.6,1 9.6,0.7 9.5,0.6 9.6,0.4 9.6,0.3 9.6,0.5 9.5,0.4 9.6,0.5 9.6,0.4 9.6,0.5 9.6,0.4 9.5,0.5 9.6,0.5 9.6,0.6 9.6,0.6 9.6,0.7 9.5,0.8 9.6,0.8" stroke="#800080"/>
<path d="M95.1,182.7l9.5,0.1 9.6,0.1 9.6,0.1 9.6,0.2 9.6,0.1 9.5,0.3 9.6,0.5 9.6,0.7 9.6,0.8 9.5,0.9 9.6,1.1 9.6,1.3 9.6,1.6 9.5,1.7 9.6,1.7 9.6,1.8 9.6,1.9 9.5,1.7 9.6,1.7 9.6,1.4 9.6,1.4 9.6,1.1 9.5,1 9.6,0.7 9.6,0.6 9.6,0.4 9.5,0.3 9.6,0.4 9.6,0.5 9.6,0.4 9.5,0.4 9.6,0.4 9.6,0.4 9.6,0.5 9.5,0.5 9.6,0.5 9.6,0.5 9.6,0.7 9.6,0.6 9.5,0.8" stroke="#800000"/>
<path d="M94.4,183.9l9.5,0.1 9.6,0.1 9.6,0.2 9.6,0.1 9.5,0.2 9.6,0.3 9.6,0.5 9.6,0.7 9.5,0.7 9.6,0.9 9.6,1.1 9.6,1.3 9.5,1.5 9.6,1.7 9.6,1.8 9.6,1.8 9.5,1.9 9.6,1.8 9.6,1.7 9.6,1.5 9.5,1.4 9.6,1.1 9.6,1 9.6,0.7 9.5,0.6 9.6,0.3 9.6,0.4 9.6,0.4 9.5,0.4 9.6,0.4 9.6,0.4 9.6,0.4 9.5,0.4 9.6,0.4 9.6,0.4 9.6,0.5 9.5,0.5 9.6,0.5 9.6,0.6 9.6,0.7" stroke="#008000"/>
<path d="M93.6,185l9.6,0.2 9.6,0.1 9.6,0.2 9.5,0.2 9.6,0.2 9.6,0.3 9.6,0.4 9.5,0.7 9.6,0.7 9.6,0.9 9.6,1 9.5,1.3 9.6,1.5 9.6,1.7 9.5,1.8 9.6,1.9 9.6,1.9 9.6,1.8 9.5,1.8 9.6,1.5 9.6,1.5 9.6,1.2 9.5,0.9 9.6,0.7 9.6,0.6 9.6,0.3 9.5,0.3 9.6,0.4 9.6,0.4 9.5,0.4 9.6,0.4 9.6,0.3 9.6,0.4 9.5,0.4 9.6,0.4 9.6,0.4 9.6,0.4 9.5,0.5 9.6,0.5 9.6,0.6" stroke="#008080"/>
<path d="M92.9,186.2l9.6,0.2 9.6,0.2 9.6,0.2 9.5,0.1 9.6,0.2 9.6,0.3 9.5,0.5 9.6,0.6 9.6,0.8 9.6,0.8 9.5,1 9.6,1.2 9.6,1.5 9.5,1.7 9.6,1.8 9.6,1.9 9.6,2 9.5,1.9 9.6,1.8 9.6,1.6 9.5,1.5 9.6,1.2 9.6,1 9.6,0.7 9.5,0.5 9.6,0.3 9.6,0.3 9.5,0.4 9.6,0.4 9.6,0.4 9.6,0.3 9.5,0.3 9.6,0.3 9.6,0.4 9.5,0.3 9.6,0.4 9.6,0.3 9.6,0.4 9.5,0.5 9.6,0.5" stroke="#0000a0"/>
<path d="M92.2,187.4l9.6,0.2 9.6,0.2 9.5,0.2 9.6,0.2 9.6,0.2 9.5,0.3 9.6,0.4 9.6,0.7 9.6,0.7 9.5,0.8 9.6,1 9.6,1.2 9.5,1.4 9.6,1.7 9.6,1.8 9.5,2 9.6,1.9 9.6,2 9.6,1.9 9.5,1.7 9.6,1.5 9.6,1.2 9.5,1 9.6,0.7 9.6,0.5 9.5,0.3 9.6,0.3 9.6,0.3 9.6,0.4 9.5,0.4 9.6,0.3 9.6,0.3 9.5,0.3 9.6,0.3 9.6,0.2 9.5,0.3 9.6,0.4 9.6,0.3 9.6,0.4 9.5,0.3" stroke="#ff8000"/>
<path d="M91.5,188.6l9.6,0.2 9.6,0.2 9.5,0.3 9.6,0.2 9.6,0.1 9.5,0.3 9.6,0.4 9.6,0.7 9.5,0.7 9.6,0.8 9.6,1 9.5,1.1 9.6,1.4 9.6,1.7 9.5,1.9 9.6,1.9 9.6,2 9.5,2 9.6,2 9.6,1.7 9.6,1.6 9.5,1.2 9.6,1 9.6,0.7 9.5,0.5 9.6,0.3 9.6,0.2 9.5,0.4 9.6,0.3 9.6,0.4 9.5,0.3 9.6,0.2 9.6,0.3 9.5,0.2 9.6,0.3 9.6,0.2 9.5,0.3 9.6,0.3 9.6,0.2 9.6,0.3" stroke="#8000ff"/>
<path d="M90.8,189.8l9.6,0.2 9.5,0.3 9.6,0.2 9.6,0.2 9.5,0.2 9.6,0.3 9.6,0.4 9.5,0.6 9.6,0.7 9.6,0.8 9.5,0.9 9.6,1.2 9.6,1.3 9.5,1.7 9.6,1.9 9.6,2 9.5,2 9.6,2.1 9.6,2 9.5,1.8 9.6,1.6 9.6,1.2 9.5,1 9.6,0.7 9.6,0.5 9.5,0.3 9.6,0.2 9.6,0.3 9.5,0.4 9.6,0.3 9.6,0.3 9.5,0.2 9.6,0.2 9.6,0.2 9.5,0.2 9.6,0.2 9.6,0.2 9.5,0.2 9.6,0.2 9.6,0.2" stroke="#ff0080"/>
<path d="M90.1,191l9.6,0.3 9.5,0.2 9.6,0.2 9.6,0.3 9.5,0.2 9.6,0.2 9.6,0.4 9.5,0.7 9.6,0.6 9.6,0.8 9.5,0.9 9.6,1.1 9.5,1.3 9.6,1.7 9.6,1.9 9.5,2 9.6,2.1 9.6,2.1 9.5,2.1 9.6,1.8 9.6,1.7 9.5,1.2 9.6,1 9.6,0.7 9.5,0.5 9.6,0.2 9.6,0.3 9.5,0.3 9.6,0.3 9.6,0.3 9.5,0.3 9.6,0.2 9.5,0.2 9.6,0.1 9.6,0.2 9.5,0.1 9.6,0.2 9.6,0.1 9.5,0.1 9.6,0.1" stroke="#ffffff"/>
<path d="M89.3,192.2l9.6,0.3 9.5,0.2 9.6,0.3 9.6,0.2 9.5,0.2 9.6,0.3 9.6,0.5 9.5,0.6 9.6,0.8 9.6,0.8 9.5,1 9.6,1.1 9.6,1.3 9.5,1.7 9.6,1.9 9.6,2 9.5,2.1 9.6,2 9.5,2 9.6,1.8 9.6,1.6 9.5,1.2 9.6,1 9.6,0.6 9.5,0.5 9.6,0.2 9.6,0.2 9.5,0.3 9.6,0.4 9.6,0.3 9.5,0.2 9.6,0.2 9.6,0.1 9.5,0.2 9.6,0.1 9.6,0.2 9.5,0.1 9.6,0.1 9.6,0.1 9.5,0.1" stroke="#c0c0c0"/>
<path d="M88.5,193.4l9.6,0.3 9.5,0.2 9.6,0.3 9.6,0.2 9.5,0.2 9.6,0.4 9.6,0.5 9.5,0.7 9.6,0.8 9.6,0.9 9.5,1 9.6,1.2 9.6,1.3 9.5,1.7 9.6,1.9 9.6,2 9.5,2 9.6,2 9.6,1.9 9.5,1.7 9.6,1.6 9.6,1.2 9.5,0.9 9.6,0.6 9.6,0.5 9.5,0.2 9.6,0.2 9.6,0.3 9.5,0.3 9.6,0.3 9.5,0.2 9.6,0.2 9.6,0.1 9.5,0.2 9.6,0.1 9.6,0.1 9.5,0.1 9.6,0.2 9.6,0.1 9.5,0.1" stroke="#808080"/>
<path d="M87.7,194.7l9.6,0.2 9.5,0.2 9.6,0.3 9.6,0.2 9.5,0.3 9.6,0.4 9.6,0.5 9.5,0.8 9.6,0.8 9.6,1 9.5,1.1 9.6,1.2 9.6,1.4 9.5,1.7 9.6,1.8 9.6,1.9 9.5,2 9.6,1.9 9.6,1.9 9.5,1.7 9.6,1.5 9.6,1.1 9.5,0.9 9.6,0.6 9.6,0.5 9.5,0.2 9.6,0.2 9.6,0.3 9.5,0.3 9.6,0.2 9.6,0.2 9.5,0.2 9.6,0.1 9.6,0.2 9.5,0.1 9.6,0.1 9.6,0.1 9.5,0.1 9.6,0.1 9.6,0.1" stroke="#ffff80"/>
<path d="M86.9,195.9l9.6,0.2 9.5,0.2 9.6,0.3 9.6,0.2 9.6,0.3 9.5,0.5 9.6,0.6 9.5,0.8 9.6,0.9 9.6,1 9.6,1.1 9.5,1.3 9.6,1.4 9.5,1.7 9.6,1.8 9.6,1.9 9.6,1.9 9.5,1.9 9.6,1.8 9.5,1.6 9.6,1.5 9.6,1.1 9.6,0.9 9.5,0.5 9.6,0.5 9.6,0.2 9.5,0.2 9.6,0.2 9.6,0.3 9.5,0.3 9.6,0.1 9.6,0.2 9.5,0.1 9.6,0.1 9.6,0.1 9.5,0.1 9.6,0.1 9.5,0.1 9.6,0.1 9.6,0.1" stroke="#80ffff"/>
<path d="M86.1,197.1l9.6,0.2 9.6,0.2 9.5,0.3 9.6,0.2 9.6,0.4 9.5,0.4 9.6,0.7 9.6,0.8 9.5,1 9.6,1.1 9.6,1.2 9.5,1.3 9.6,1.4 9.6,1.7 9.5,1.8 9.6,1.9 9.6,1.8 9.5,1.9 9.6,1.7 9.6,1.6 9.5,1.4 9.6,1.1 9.6,0.8 9.5,0.6 9.6,0.3 9.6,0.3 9.5,0.2 9.6,0.2 9.6,0.3 9.5,0.2 9.6,0.2 9.6,0.1 9.5,0.1 9.6,0.1 9.6,0.1 9.5,0.1 9.6,0.1 9.6,0.1 9.5,0.1 9.6,0.1" stroke="#ff80ff"/>
<path d="M85.3,198.3l9.6,0.2 9.6,0.3 9.5,0.2 9.6,0.2 9.6,0.4 9.5,0.5 9.6,0.7 9.6,0.9 9.5,1.1 9.6,1.1 9.6,1.2 9.5,1.3 9.6,1.5 9.6,1.7 9.5,1.8 9.6,1.8 9.6,1.9 9.5,1.7 9.6,1.7 9.6,1.5 9.5,1.4 9.6,1 9.6,0.8 9.5,0.6 9.6,0.3 9.6,0.3 9.5,0.1 9.6,0.3 9.6,0.2 9.5,0.2 9.6,0.2 9.6,0.1 9.6,0.1 9.5,0.1 9.6,0.1 9.6,0 9.5,0.1 9.6,0.1 9.6,0.1 9.5,0.1" stroke="#404040"/>
<path d="M84.5,199.5l9.6,0.2 9.6,0.3 9.5,0.2 9.6,0.2 9.6,0.4 9.5,0.6 9.6,0.8 9.6,0.9 9.5,1.1 9.6,1.2 9.6,1.3 9.5,1.3 9.6,1.5 9.6,1.7 9.5,1.8 9.6,1.8 9.6,1.8 9.6,1.7 9.5,1.6 9.6,1.5 9.6,1.3 9.5,1 9.6,0.8 9.6,0.5 9.5,0.3 9.6,0.3 9.6,0.1 9.5,0.2 9.6,0.3 9.6,0.2 9.5,0.1 9.6,0.1 9.6,0.1 9.5,0.1 9.6,0 9.6,0.1 9.5,0 9.6,0.1 9.6,0.1 9.5,0.1" stroke="#000000"/>
<path d="M83.7,200.8l9.6,0.2 9.6,0.2 9.5,0.2 9.6,0.3 9.6,0.4 9.5,0.6 9.6,0.8 9.6,1 9.5,1.1 9.6,1.3 9.6,1.3 9.6,1.4 9.5,1.5 9.6,1.8 9.6,1.7 9.5,1.8 9.6,1.7 9.6,1.7 9.5,1.6 9.6,1.4 9.6,1.2 9.5,0.9 9.6,0.8 9.6,0.5 9.5,0.3 9.6,0.2 9.6,0.2 9.5,0.2 9.6,0.2 9.6,0.2 9.6,0.1 9.5,0.1 9.6,0.1 9.6,0 9.5,0.1 9.6,0 9.6,0.1 9.5,0.1 9.6,0.1 9.6,0.1" stroke="#ff0000"/>
<path d="M82.9,202l9.6,0.2 9.6,0.2 9.5,0.2 9.6,0.3 9.6,0.4 9.6,0.7 9.5,0.8 9.6,1.1 9.6,1.2 9.5,1.3 9.6,1.4 9.6,1.4 9.5,1.6 9.6,1.7 9.6,1.7 9.5,1.7 9.6,1.7 9.6,1.6 9.5,1.6 9.6,1.3 9.6,1.2 9.6,0.9 9.5,0.7 9.6,0.5 9.6,0.3 9.5,0.2 9.6,0.2 9.6,0.2 9.5,0.2 9.6,0.1 9.6,0.2 9.5,0 9.6,0.1 9.6,0 9.5,0 9.6,0.1 9.6,0 9.6,0.1 9.5,0.1 9.6,0.1" stroke="#00ff00"/>
<path d="M82.1,203.2l9.6,0.2 9.6,0.2 9.5,0.2 9.6,0.3 9.6,0.4 9.6,0.8 9.5,0.9 9.6,1 9.6,1.3 9.5,1.4 9.6,1.4 9.6,1.5 9.5,1.6 9.6,1.7 9.6,1.7 9.5,1.7 9.6,1.6 9.6,1.6 9.6,1.5 9.5,1.3 9.6,1.1 9.6,0.9 9.5,0.7 9.6,0.4 9.6,0.3 9.5,0.2 9.6,0.2 9.6,0.1 9.5,0.2 9.6,0.2 9.6,0.1 9.6,0 9.5,0.1 9.6,0 9.6,0 9.5,0 9.6,0.1 9.6,0 9.5,0.1 9.6,0.1" stroke="#0000ff"/>
<path d="M81.3,204.4l9.6,0.2 9.6,0.2 9.6,0.2 9.5,0.3 9.6,0.5 9.6,0.7 9.5,1 9.6,1.1 9.6,1.4 9.5,1.4 9.6,1.5 9.6,1.5 9.6,1.6 9.5,1.7 9.6,1.7 9.6,1.7 9.5,1.6 9.6,1.5 9.6,1.4 9.5,1.2 9.6,1.1 9.6,0.8 9.5,0.7 9.6,0.4 9.6,0.3 9.6,0.2 9.5,0.1 9.6,0.2 9.6,0.2 9.5,0.1 9.6,0.1 9.6,0 9.5,0.1 9.6,0 9.6,0 9.6,0 9.5,0 9.6,0.1 9.6,0.1 9.5,0.1" stroke="#00ffff"/>
<path d="M80.5,205.7l9.5,0.2 9.6,0.2 9.6,0.2 9.5,0.3 9.6,0.5 9.6,0.8 9.5,1 9.6,1.2 9.6,1.4 9.5,1.5 9.6,1.5 9.6,1.6 9.6,1.6 9.5,1.7 9.6,1.7 9.6,1.6 9.5,1.6 9.6,1.5 9.6,1.3 9.6,1.2 9.5,1 9.6,0.8 9.6,0.6 9.5,0.4 9.6,0.3 9.6,0.2 9.5,0.1 9.6,0.2 9.6,0.1 9.6,0.1 9.5,0.1 9.6,0.1 9.6,-0.1 9.5,0 9.6,0 9.6,0 9.5,0 9.6,0.1 9.6,0.1 9.6,0.1" stroke="#ff00ff"/>
<path d="M79.8,206.9l9.5,0.1 9.6,0.2 9.6,0.3 9.5,0.2 9.6,0.6 9.6,0.8 9.5,1.1 9.6,1.2 9.6,1.4 9.6,1.6 9.5,1.6 9.6,1.6 9.6,1.6 9.5,1.7 9.6,1.7 9.6,1.6 9.6,1.5 9.5,1.4 9.6,1.3 9.6,1.1 9.5,1 9.6,0.8 9.6,0.5 9.5,0.4 9.6,0.3 9.6,0.2 9.6,0.1 9.5,0.1 9.6,0.2 9.6,0.1 9.5,0 9.6,0.1 9.6,-0.1 9.5,0 9.6,0 9.6,0 9.6,0 9.5,0 9.6,0.1 9.6,0.1" stroke="#ffff00"/>
<path d="M79,208.1l9.5,0.1 9.6,0.2 9.6,0.3 9.5,0.2 9.6,0.6 9.6,0.9 9.6,1.1 9.5,1.2 9.6,1.6 9.6,1.6 9.5,1.6 9.6,1.7 9.6,1.6 9.6,1.8 9.5,1.6 9.6,1.5 9.6,1.5 9.5,1.4 9.6,1.2 9.6,1.1 9.5,0.9 9.6,0.7 9.6,0.6 9.6,0.3 9.5,0.3 9.6,0.2 9.6,0.1 9.5,0.1 9.6,0.1 9.6,0.1 9.6,0.1 9.5,0 9.6,-0.1 9.6,0 9.5,0 9.6,-0.1 9.6,0 9.6,0.1 9.5,0 9.6,0.2" stroke="#808000"/>
<path d="M78.2,209.3l9.5,0.1 9.6,0.2 9.6,0.3 9.5,0.2 9.6,0.6 9.6,1 9.6,1.1 9.5,1.3 9.6,1.6 9.6,1.7 9.5,1.7 9.6,1.6 9.6,1.7 9.6,1.8 9.5,1.6 9.6,1.5 9.6,1.5 9.5,1.3 9.6,1.1 9.6,1 9.6,0.9 9.5,0.7 9.6,0.5 9.6,0.4 9.5,0.2 9.6,0.2 9.6,0.1 9.6,0.1 9.5,0.1 9.6,0 9.6,0.1 9.5,0 9.6,-0.1 9.6,0 9.6,-0.1 9.5,0 9.6,0 9.6,0 9.5,0.1 9.6,0.1" stroke="#000080"/>
<path d="M77.4,210.5l9.5,0.2 9.6,0.1 9.6,0.3 9.6,0.3 9.5,0.6 9.6,1 9.6,1.2 9.5,1.3 9.6,1.6 9.6,1.8 9.6,1.8 9.5,1.6 9.6,1.8 9.6,1.7 9.5,1.6 9.6,1.5 9.6,1.4 9.6,1.2 9.5,1.1 9.6,1 9.6,0.8 9.5,0.6 9.6,0.5 9.6,0.4 9.6,0.2 9.5,0.1 9.6,0.2 9.6,0 9.5,0.1 9.6,0.1 9.6,0 9.6,0 9.5,-0.1 9.6,-0.1 9.6,0 9.5,-0.1 9.6,0 9.6,0 9.6,0.1 9.5,0.1" stroke="#800080"/>
<path d="M76.6,211.8l9.5,0.1 9.6,0.1 9.6,0.3 9.6,0.3 9.5,0.6 9.6,1 9.6,1.3 9.5,1.4 9.6,1.7 9.6,1.8 9.6,1.8 9.5,1.7 9.6,1.8 9.6,1.7 9.6,1.6 9.5,1.4 9.6,1.4 9.6,1.2 9.5,1.1 9.6,0.9 9.6,0.7 9.6,0.6 9.5,0.5 9.6,0.3 9.6,0.2 9.5,0.1 9.6,0.1 9.6,0.1 9.6,0.1 9.5,0 9.6,0 9.6,0 9.5,-0.1 9.6,-0.1 9.6,0 9.6,-0.1 9.5,-0.1 9.6,0.1 9.6,0 9.6,0.2" stroke="#800000"/>
<path d="M75.8,213l9.5,0.1 9.6,0.2 9.6,0.2 9.6,0.3 9.5,0.6 9.6,1.1 9.6,1.3 9.6,1.5 9.5,1.7 9.6,1.9 9.6,1.9 9.5,1.7 9.6,1.8 9.6,1.7 9.6,1.6 9.5,1.4 9.6,1.3 9.6,1.2 9.6,1 9.5,0.8 9.6,0.7 9.6,0.6 9.5,0.4 9.6,0.3 9.6,0.2 9.6,0.1 9.5,0.1 9.6,0.1 9.6,0 9.5,0.1 9.6,0 9.6,-0.1 9.6,-0.1 9.5,-0.1 9.6,-0.1 9.6,-0.1 9.6,0 9.5,0 9.6,0.1 9.6,0.1" stroke="#008000"/>
<path d="M75,214.2l9.6,0.1 9.5,0.2 9.6,0.2 9.6,0.3 9.5,0.7 9.6,1.1 9.6,1.4 9.6,1.4 9.5,1.9 9.6,1.9 9.6,1.9 9.6,1.8 9.5,1.8 9.6,1.7 9.6,1.6 9.5,1.4 9.6,1.2 9.6,1.1 9.6,1 9.5,0.8 9.6,0.6 9.6,0.5 9.6,0.4 9.5,0.3 9.6,0.2 9.6,0.1 9.5,0.1 9.6,0 9.6,0.1 9.6,0 9.5,0 9.6,-0.1 9.6,-0.1 9.6,-0.1 9.5,-0.1 9.6,-0.1 9.6,-0.1 9.6,0 9.5,0.1 9.6,0.1" stroke="#008080"/>
<path d="M74.2,215.4l9.6,0.1 9.5,0.2 9.6,0.2 9.6,0.3 9.5,0.7 9.6,1.2 9.6,1.4 9.6,1.5 9.5,1.9 9.6,2 9.6,2 9.6,1.8 9.5,1.8 9.6,1.8 9.6,1.5 9.6,1.3 9.5,1.3 9.6,1 9.6,0.9 9.5,0.7 9.6,0.6 9.6,0.5 9.6,0.4 9.5,0.2 9.6,0.2 9.6,0.1 9.6,0.1 9.5,0 9.6,0 9.6,0 9.6,0 9.5,-0.1 9.6,-0.1 9.6,-0.1 9.5,-0.2 9.6,-0.1 9.6,0 9.6,0 9.5,0 9.6,0.2" stroke="#0000a0"/>
<path d="M73.4,216.6l9.6,0.1 9.5,0.2 9.6,0.2 9.6,0.3 9.6,0.8 9.5,1.2 9.6,1.4 9.6,1.6 9.6,1.9 9.5,2.1 9.6,2 9.6,1.9 9.5,1.8 9.6,1.8 9.6,1.5 9.6,1.3 9.5,1.2 9.6,1 9.6,0.8 9.6,0.7 9.5,0.5 9.6,0.4 9.6,0.4 9.6,0.2 9.5,0.2 9.6,0.1 9.6,0.1 9.6,0 9.5,0 9.6,0 9.6,-0.1 9.5,-0.1 9.6,-0.1 9.6,-0.2 9.6,-0.1 9.5,-0.1 9.6,-0.1 9.6,0 9.6,0.1 9.5,0.1" stroke="#ff8000"/>
<path d="M72.6,217.9l9.6,0 9.5,0.2 9.6,0.2 9.6,0.3 9.6,0.8 9.5,1.3 9.6,1.5 9.6,1.6 9.6,2 9.5,2.1 9.6,2.1 9.6,1.9 9.6,1.9 9.5,1.7 9.6,1.5 9.6,1.3 9.6,1.1 9.5,0.9 9.6,0.8 9.6,0.6 9.5,0.5 9.6,0.4 9.6,0.3 9.6,0.2 9.5,0.2 9.6,0.1 9.6,0 9.6,0.1 9.5,-0.1 9.6,0 9.6,-0.1 9.6,-0.1 9.5,-0.1 9.6,-0.2 9.6,-0.1 9.6,-0.2 9.5,-0.1 9.6,0 9.6,0.1 9.6,0.1" stroke="#8000ff"/>
<path d="M71.8,219.1l9.6,0 9.5,0.2 9.6,0.2 9.6,0.3 9.6,0.8 9.5,1.3 9.6,1.6 9.6,1.7 9.6,2 9.5,2.2 9.6,2.1 9.6,2 9.6,1.9 9.5,1.7 9.6,1.5 9.6,1.2 9.6,1.1 9.5,0.9 9.6,0.7 9.6,0.6 9.6,0.4 9.5,0.4 9.6,0.3 9.6,0.1 9.6,0.2 9.5,0.1 9.6,0 9.6,0 9.6,0 9.5,-0.1 9.6,0 9.6,-0.2 9.6,-0.1 9.5,-0.2 9.6,-0.2 9.6,-0.1 9.6,-0.1 9.5,0 9.6,0 9.6,0.2" stroke="#ff0080"/>
<path d="M71,220.3l9.6,0.1 9.6,0.1 9.5,0.2 9.6,0.4 9.6,0.8 9.6,1.3 9.5,1.6 9.6,1.7 9.6,2.1 9.6,2.3 9.5,2.2 9.6,2 9.6,1.9 9.5,1.7 9.6,1.5 9.6,1.2 9.6,1 9.6,0.9 9.5,0.6 9.6,0.5 9.6,0.4 9.5,0.3 9.6,0.3 9.6,0.1 9.6,0.2 9.6,0.1 9.5,0 9.6,0 9.6,-0.1 9.5,0 9.6,-0.1 9.6,-0.2 9.6,-0.2 9.6,-0.1 9.5,-0.2 9.6,-0.2 9.6,-0.1 9.5,0 9.6,0.1 9.6,0.1" stroke="#ffffff"/>
<path d="M70.2,221.5l9.6,0 9.6,0.2 9.5,0.2 9.6,0.3 9.6,0.8 9.6,1.3 9.5,1.6 9.6,1.7 9.6,2.1 9.6,2.2 9.5,2.2 9.6,2 9.6,1.9 9.6,1.8 9.5,1.5 9.6,1.2 9.6,1.1 9.6,0.9 9.5,0.7 9.6,0.5 9.6,0.4 9.6,0.4 9.5,0.2 9.6,0.2 9.6,0.1 9.6,0.1 9.5,0.1 9.6,0 9.6,-0.1 9.6,0 9.5,-0.1 9.6,-0.2 9.6,-0.2 9.6,-0.2 9.5,-0.2 9.6,-0.1 9.6,-0.2 9.6,0 9.5,0 9.6,0" stroke="#c0c0c0"/>
<path d="M69.4,222.7l9.6,0 9.6,0.2 9.5,0.2 9.6,0.3 9.6,0.7 9.6,1.3 9.5,1.6 9.6,1.6 9.6,2.1 9.6,2.3 9.5,2.1 9.6,2 9.6,2 9.6,1.8 9.5,1.5 9.6,1.3 9.6,1.1 9.6,0.9 9.5,0.7 9.6,0.6 9.6,0.4 9.6,0.4 9.5,0.3 9.6,0.2 9.6,0.1 9.6,0.1 9.6,0.1 9.5,0 9.6,-0.1 9.6,0 9.6,-0.1 9.5,-0.2 9.6,-0.2 9.6,-0.2 9.6,-0.2 9.5,-0.2 9.6,-0.2 9.6,-0.1 9.6,0 9.5,0" stroke="#808080"/>
<path d="M68.6,223.9l9.6,0 9.6,0.1 9.5,0.2 9.6,0.3 9.6,0.8 9.6,1.2 9.5,1.6 9.6,1.6 9.6,2 9.6,2.3 9.5,2.1 9.6,2 9.6,2 9.6,1.8 9.5,1.6 9.6,1.3 9.6,1.1 9.6,1 9.6,0.7 9.5,0.6 9.6,0.5 9.6,0.4 9.6,0.3 9.5,0.2 9.6,0.2 9.6,0.1 9.6,0.1 9.5,0 9.6,-0.1 9.6,0 9.6,-0.1 9.5,-0.2 9.6,-0.2 9.6,-0.3 9.6,-0.2 9.6,-0.2 9.5,-0.2 9.6,-0.1 9.6,-0.1 9.6,-0.1" stroke="#ffff80"/>
<path d="M67.8,225.1l9.6,0 9.6,0.1 9.5,0.2 9.6,0.3 9.6,0.7 9.6,1.2 9.5,1.6 9.6,1.6 9.6,2 9.6,2.2 9.5,2.1 9.6,2 9.6,2 9.6,1.9 9.6,1.6 9.5,1.3 9.6,1.2 9.6,1 9.6,0.8 9.5,0.6 9.6,0.5 9.6,0.4 9.6,0.4 9.6,0.2 9.5,0.2 9.6,0.1 9.6,0.1 9.6,0 9.5,-0.1 9.6,0 9.6,-0.2 9.6,-0.1 9.5,-0.3 9.6,-0.2 9.6,-0.2 9.6,-0.3 9.6,-0.2 9.5,-0.2 9.6,-0.1 9.6,-0.2" stroke="#80ffff"/>
<path d="M67,226.3l9.6,0 9.6,0.1 9.5,0.2 9.6,0.2 9.6,0.7 9.6,1.3 9.5,1.4 9.6,1.6 9.6,2 9.6,2.2 9.6,2.1 9.5,2 9.6,2.1 9.6,1.9 9.6,1.6 9.5,1.3 9.6,1.3 9.6,1 9.6,0.8 9.6,0.7 9.5,0.5 9.6,0.5 9.6,0.3 9.6,0.3 9.5,0.2 9.6,0.1 9.6,0.1 9.6,0 9.6,-0.1 9.5,0 9.6,-0.2 9.6,-0.2 9.6,-0.2 9.5,-0.2 9.6,-0.3 9.6,-0.2 9.6,-0.3 9.5,-0.2 9.6,-0.2 9.6,-0.2" stroke="#ff80ff"/>
<path d="M66.2,227.5l9.6,0 9.6,0.1 9.5,0.1 9.6,0.3 9.6,0.6 9.6,1.3 9.5,1.4 9.6,1.6 9.6,1.9 9.6,2.2 9.6,2.1 9.5,2 9.6,2.1 9.6,1.9 9.6,1.7 9.5,1.4 9.6,1.2 9.6,1.1 9.6,0.9 9.6,0.7 9.5,0.5 9.6,0.5 9.6,0.3 9.6,0.3 9.6,0.2 9.5,0.2 9.6,0 9.6,0.1 9.6,-0.1 9.5,0 9.6,-0.2 9.6,-0.2 9.6,-0.2 9.6,-0.3 9.5,-0.2 9.6,-0.3 9.6,-0.3 9.6,-0.3 9.5,-0.2 9.6,-0.3" stroke="#404040"/>
<path d="M65.4,228.7l9.6,0 9.6,0.1 9.5,0.1 9.6,0.2 9.6,0.7 9.6,1.2 9.6,1.4 9.5,1.5 9.6,2 9.6,2.1 9.6,2.1 9.5,2 9.6,2.1 9.6,2 9.6,1.7 9.6,1.4 9.5,1.3 9.6,1.1 9.6,0.9 9.6,0.7 9.6,0.6 9.5,0.5 9.6,0.4 9.6,0.3 9.6,0.2 9.5,0.2 9.6,0 9.6,0 9.6,0 9.6,0 9.5,-0.2 9.6,-0.2 9.6,-0.2 9.6,-0.3 9.6,-0.3 9.5,-0.3 9.6,-0.3 9.6,-0.3 9.6,-0.3 9.5,-0.4" stroke="#000000"/>
<path d="M64.6,229.9l9.6,0 9.6,0 9.5,0.2 9.6,0.2 9.6,0.6 9.6,1.2 9.6,1.4 9.5,1.5 9.6,1.9 9.6,2.1 9.6,2.1 9.6,2 9.5,2.2 9.6,2 9.6,1.7 9.6,1.4 9.5,1.4 9.6,1.1 9.6,0.9 9.6,0.8 9.6,0.6 9.5,0.5 9.6,0.4 9.6,0.4 9.6,0.2 9.6,0.1 9.5,0.1 9.6,0 9.6,0 9.6,0 9.6,-0.2 9.5,-0.2 9.6,-0.3 9.6,-0.2 9.6,-0.3 9.5,-0.4 9.6,-0.3 9.6,-0.4 9.6,-0.4 9.6,-0.3" stroke="#ff0000"/>
<path d="M63.8,231.1l9.6,0 9.6,0 9.5,0.1 9.6,0.2 9.6,0.6 9.6,1.2 9.6,1.4 9.5,1.5 9.6,1.8 9.6,2.1 9.6,2.1 9.6,2.1 9.5,2.1 9.6,2 9.6,1.8 9.6,1.5 9.6,1.3 9.5,1.2 9.6,1 9.6,0.8 9.6,0.6 9.6,0.5 9.5,0.5 9.6,0.3 9.6,0.3 9.6,0.1 9.6,0.1 9.5,0 9.6,0 9.6,0 9.6,-0.2 9.6,-0.2 9.5,-0.3 9.6,-0.3 9.6,-0.3 9.6,-0.3 9.5,-0.4 9.6,-0.4 9.6,-0.5 9.6,-0.4" stroke="#00ff00"/>
<path d="M63,232.3l9.6,0 9.6,0 9.5,0.1 9.6,0.2 9.6,0.6 9.6,1.1 9.6,1.4 9.5,1.4 9.6,1.9 9.6,2 9.6,2.1 9.6,2.1 9.5,2.2 9.6,2 9.6,1.8 9.6,1.5 9.6,1.4 9.5,1.2 9.6,1 9.6,0.8 9.6,0.7 9.6,0.6 9.5,0.4 9.6,0.4 9.6,0.3 9.6,0.1 9.6,0.1 9.5,0 9.6,0 9.6,0 9.6,-0.2 9.6,-0.2 9.5,-0.3 9.6,-0.3 9.6,-0.3 9.6,-0.4 9.6,-0.4 9.5,-0.5 9.6,-0.5 9.6,-0.5" stroke="#0000ff"/>
<path d="M62.2,233.5l9.6,-0.1 9.6,0.1 9.5,0.1 9.6,0.1 9.6,0.6 9.6,1.1 9.6,1.3 9.5,1.5 9.6,1.8 9.6,2.1 9.6,2 9.6,2.1 9.5,2.2 9.6,2.1 9.6,1.8 9.6,1.5 9.6,1.5 9.6,1.2 9.5,1.1 9.6,0.8 9.6,0.7 9.6,0.6 9.6,0.5 9.5,0.4 9.6,0.3 9.6,0.1 9.6,0.1 9.6,0 9.5,0 9.6,-0.1 9.6,-0.1 9.6,-0.3 9.6,-0.2 9.5,-0.4 9.6,-0.3 9.6,-0.4 9.6,-0.4 9.6,-0.5 9.5,-0.6 9.6,-0.5" stroke="#00ffff"/>
<path d="M61.4,234.8l9.6,-0.2 9.6,0 9.5,0.1 9.6,0.2 9.6,0.5 9.6,1.1 9.6,1.3 9.5,1.4 9.6,1.8 9.6,2.1 9.6,2 9.6,2.1 9.6,2.2 9.5,2.2 9.6,1.8 9.6,1.6 9.6,1.4 9.6,1.3 9.5,1.1 9.6,0.9 9.6,0.7 9.6,0.6 9.6,0.5 9.6,0.4 9.5,0.3 9.6,0.2 9.6,0.1 9.6,0 9.6,0 9.5,-0.1 9.6,-0.1 9.6,-0.3 9.6,-0.3 9.6,-0.3 9.5,-0.3 9.6,-0.5 9.6,-0.4 9.6,-0.6 9.6,-0.6 9.5,-0.6" stroke="#ff00ff"/>
<path d="M60.6,236l9.6,-0.2 9.6,0 9.5,0.1 9.6,0.1 9.6,0.5 9.6,1.1 9.6,1.3 9.6,1.4 9.5,1.8 9.6,2 9.6,2 9.6,2.1 9.6,2.3 9.5,2.1 9.6,1.9 9.6,1.6 9.6,1.5 9.6,1.3 9.6,1.1 9.5,1 9.6,0.7 9.6,0.6 9.6,0.6 9.6,0.4 9.5,0.3 9.6,0.2 9.6,0.1 9.6,0 9.6,0 9.6,-0.1 9.5,-0.1 9.6,-0.3 9.6,-0.3 9.6,-0.3 9.6,-0.4 9.5,-0.4 9.6,-0.5 9.6,-0.6 9.6,-0.7 9.6,-0.7" stroke="#ffff00"/>
<path d="M59.8,237.2l9.6,-0.2 9.6,0 9.5,0.1 9.6,0.1 9.6,0.5 9.6,1 9.6,1.3 9.6,1.3 9.5,1.8 9.6,2 9.6,2 9.6,2.1 9.6,2.3 9.6,2.2 9.5,1.9 9.6,1.6 9.6,1.6 9.6,1.3 9.6,1.2 9.5,0.9 9.6,0.8 9.6,0.7 9.6,0.5 9.6,0.5 9.6,0.3 9.5,0.2 9.6,0.1 9.6,0 9.6,0 9.6,-0.1 9.6,-0.1 9.5,-0.3 9.6,-0.3 9.6,-0.4 9.6,-0.4 9.6,-0.4 9.5,-0.5 9.6,-0.7 9.6,-0.7 9.6,-0.7" stroke="#808000"/>
<path d="M59,238.4l9.6,-0.2 9.6,0 9.5,0 9.6,0.1 9.6,0.5 9.6,1 9.6,1.3 9.6,1.3 9.5,1.7 9.6,2 9.6,2 9.6,2.1 9.6,2.3 9.6,2.3 9.5,1.9 9.6,1.7 9.6,1.5 9.6,1.4 9.6,1.2 9.6,1 9.5,0.8 9.6,0.7 9.6,0.5 9.6,0.5 9.6,0.4 9.6,0.2 9.5,0.1 9.6,0 9.6,0 9.6,-0.1 9.6,-0.2 9.6,-0.2 9.5,-0.4 9.6,-0.3 9.6,-0.4 9.6,-0.5 9.6,-0.5 9.5,-0.7 9.6,-0.8 9.6,-0.8" stroke="#000080"/>
<path d="M58.2,239.6l9.6,-0.2 9.6,-0.1 9.6,0.1 9.5,0.1 9.6,0.4 9.6,1 9.6,1.2 9.6,1.4 9.5,1.6 9.6,2 9.6,2 9.6,2.1 9.6,2.4 9.6,2.2 9.6,2 9.5,1.7 9.6,1.6 9.6,1.4 9.6,1.3 9.6,1 9.5,0.8 9.6,0.7 9.6,0.6 9.6,0.5 9.6,0.4 9.6,0.1 9.6,0.1 9.5,0.1 9.6,0 9.6,-0.1 9.6,-0.2 9.6,-0.3 9.5,-0.3 9.6,-0.3 9.6,-0.5 9.6,-0.5 9.6,-0.5 9.6,-0.8 9.6,-0.8 9.5,-0.9" stroke="#800080"/>
<path d="M57.4,240.8l9.6,-0.2 9.6,-0.1 9.6,0.1 9.5,0 9.6,0.5 9.6,0.9 9.6,1.2 9.6,1.3 9.6,1.7 9.5,1.9 9.6,2 9.6,2.1 9.6,2.4 9.6,2.3 9.6,2 9.5,1.7 9.6,1.7 9.6,1.4 9.6,1.3 9.6,1 9.6,0.9 9.5,0.7 9.6,0.6 9.6,0.6 9.6,0.3 9.6,0.2 9.6,0.1 9.5,0.1 9.6,0 9.6,-0.1 9.6,-0.2 9.6,-0.3 9.6,-0.3 9.6,-0.4 9.5,-0.4 9.6,-0.5 9.6,-0.7 9.6,-0.7 9.6,-0.9 9.6,-0.9" stroke="#800000"/>
<path d="M56.6,242l9.6,-0.2 9.6,-0.1 9.6,0 9.5,0.1 9.6,0.4 9.6,0.9 9.6,1.2 9.6,1.3 9.6,1.6 9.5,1.9 9.6,2 9.6,2.2 9.6,2.3 9.6,2.4 9.6,2 9.6,1.7 9.5,1.7 9.6,1.5 9.6,1.3 9.6,1.1 9.6,0.9 9.6,0.8 9.5,0.6 9.6,0.5 9.6,0.4 9.6,0.2 9.6,0.1 9.6,0.1 9.5,0 9.6,-0.1 9.6,-0.2 9.6,-0.3 9.6,-0.3 9.6,-0.4 9.6,-0.5 9.5,-0.5 9.6,-0.7 9.6,-0.7 9.6,-1 9.6,-1" stroke="#008000"/>
<path d="M55.8,243.2l9.6,-0.2 9.6,-0.1 9.6,0 9.5,0 9.6,0.4 9.6,0.9 9.6,1.2 9.6,1.2 9.6,1.6 9.5,1.9 9.6,2 9.6,2.2 9.6,2.4 9.6,2.3 9.6,2.1 9.6,1.8 9.5,1.7 9.6,1.5 9.6,1.4 9.6,1.1 9.6,0.9 9.6,0.8 9.6,0.6 9.5,0.6 9.6,0.4 9.6,0.2 9.6,0.1 9.6,0.1 9.6,0 9.5,-0.1 9.6,-0.2 9.6,-0.3 9.6,-0.4 9.6,-0.4 9.6,-0.4 9.6,-0.6 9.5,-0.7 9.6,-0.8 9.6,-1 9.6,-1.1" stroke="#008080"/>
<path d="M55,244.4l9.6,-0.2 9.6,-0.1 9.6,-0.1 9.5,0.1 9.6,0.4 9.6,0.8 9.6,1.2 9.6,1.2 9.6,1.6 9.6,1.8 9.5,2 9.6,2.2 9.6,2.4 9.6,2.4 9.6,2.1 9.6,1.8 9.6,1.8 9.5,1.5 9.6,1.4 9.6,1.2 9.6,0.9 9.6,0.8 9.6,0.7 9.5,0.6 9.6,0.4 9.6,0.2 9.6,0.1 9.6,0.1 9.6,0 9.6,-0.1 9.5,-0.2 9.6,-0.3 9.6,-0.4 9.6,-0.4 9.6,-0.5 9.6,-0.6 9.6,-0.7 9.5,-0.8 9.6,-1.1 9.6,-1.1" stroke="#0000a0"/>
<path d="M54.2,245.6l9.6,-0.3 9.6,-0.1 9.6,0 9.5,0 9.6,0.4 9.6,0.8 9.6,1.2 9.6,1.2 9.6,1.5 9.6,1.9 9.5,1.9 9.6,2.2 9.6,2.4 9.6,2.5 9.6,2.1 9.6,1.8 9.6,1.8 9.5,1.6 9.6,1.5 9.6,1.1 9.6,1 9.6,0.8 9.6,0.7 9.6,0.6 9.5,0.5 9.6,0.2 9.6,0.1 9.6,0.1 9.6,0 9.6,-0.1 9.6,-0.2 9.6,-0.3 9.5,-0.4 9.6,-0.4 9.6,-0.5 9.6,-0.6 9.6,-0.8 9.6,-0.9 9.6,-1.1 9.5,-1.2" stroke="#ff8000"/>
<path d="M53.4,246.8l9.6,-0.3 9.6,-0.1 9.6,0 9.5,0 9.6,0.3 9.6,0.8 9.6,1.1 9.6,1.2 9.6,1.5 9.6,1.9 9.6,1.9 9.5,2.2 9.6,2.5 9.6,2.4 9.6,2.2 9.6,1.9 9.6,1.8 9.6,1.6 9.5,1.5 9.6,1.2 9.6,1 9.6,0.9 9.6,0.7 9.6,0.6 9.6,0.5 9.5,0.2 9.6,0.1 9.6,0.1 9.6,0 9.6,-0.1 9.6,-0.2 9.6,-0.4 9.6,-0.3 9.5,-0.5 9.6,-0.5 9.6,-0.6 9.6,-0.8 9.6,-0.9 9.6,-1.2 9.6,-1.3" stroke="#8000ff"/>
<path d="M52.6,248l9.6,-0.3 9.6,-0.1 9.6,-0.1 9.5,0 9.6,0.3 9.6,0.8 9.6,1.1 9.6,1.2 9.6,1.5 9.6,1.8 9.6,1.9 9.5,2.2 9.6,2.5 9.6,2.5 9.6,2.2 9.6,1.9 9.6,1.9 9.6,1.6 9.6,1.5 9.5,1.3 9.6,1 9.6,0.9 9.6,0.7 9.6,0.7 9.6,0.4 9.6,0.3 9.5,0.1 9.6,0.1 9.6,0 9.6,-0.1 9.6,-0.2 9.6,-0.4 9.6,-0.4 9.6,-0.4 9.5,-0.5 9.6,-0.7 9.6,-0.8 9.6,-1 9.6,-1.2 9.6,-1.3" stroke="#ff0080"/>
<path d="M51.8,249.2l9.6,-0.3 9.6,-0.1 9.6,-0.1 9.6,0 9.5,0.3 9.6,0.8 9.6,1 9.6,1.1 9.6,1.5 9.6,1.8 9.6,1.9 9.6,2.2 9.5,2.5 9.6,2.6 9.6,2.2 9.6,1.9 9.6,1.9 9.6,1.7 9.6,1.6 9.6,1.2 9.5,1.1 9.6,0.9 9.6,0.7 9.6,0.7 9.6,0.5 9.6,0.2 9.6,0.2 9.6,0.1 9.5,0 9.6,-0.1 9.6,-0.2 9.6,-0.4 9.6,-0.4 9.6,-0.4 9.6,-0.6 9.6,-0.7 9.5,-0.8 9.6,-1 9.6,-1.3 9.6,-1.4" stroke="#ffffff"/>
<path d="M51,250.4l9.6,-0.3 9.6,-0.1 9.6,0 9.6,0 9.5,0.3 9.6,0.7 9.6,1.1 9.6,1.1 9.6,1.5 9.6,1.7 9.6,2 9.6,2.1 9.6,2.5 9.5,2.5 9.6,2.1 9.6,1.9 9.6,1.9 9.6,1.7 9.6,1.5 9.6,1.2 9.6,1.1 9.6,0.9 9.5,0.7 9.6,0.7 9.6,0.5 9.6,0.2 9.6,0.1 9.6,0.1 9.6,0 9.6,0 9.6,-0.3 9.5,-0.3 9.6,-0.4 9.6,-0.5 9.6,-0.5 9.6,-0.7 9.6,-0.8 9.6,-1 9.6,-1.3 9.5,-1.4" stroke="#c0c0c0"/>
<path d="M50.2,251.5l9.6,-0.2 9.6,-0.1 9.6,0 9.6,0.1 9.5,0.3 9.6,0.7 9.6,1.1 9.6,1.1 9.6,1.4 9.6,1.8 9.6,1.9 9.6,2.1 9.6,2.4 9.6,2.4 9.5,2.1 9.6,2 9.6,1.8 9.6,1.6 9.6,1.5 9.6,1.2 9.6,1.1 9.6,0.8 9.6,0.8 9.6,0.6 9.5,0.5 9.6,0.3 9.6,0.1 9.6,0.1 9.6,0 9.6,-0.1 9.6,-0.2 9.6,-0.4 9.6,-0.4 9.6,-0.4 9.5,-0.5 9.6,-0.7 9.6,-0.8 9.6,-1 9.6,-1.2 9.6,-1.4" stroke="#808080"/>
<path d="M49.4,252.7l9.6,-0.2 9.6,-0.1 9.6,0.1 9.6,0 9.6,0.4 9.5,0.7 9.6,1.1 9.6,1.1 9.6,1.4 9.6,1.7 9.6,1.9 9.6,2.1 9.6,2.3 9.6,2.4 9.6,2.1 9.6,1.9 9.5,1.8 9.6,1.6 9.6,1.4 9.6,1.2 9.6,1.1 9.6,0.8 9.6,0.7 9.6,0.7 9.6,0.5 9.6,0.2 9.6,0.1 9.6,0.1 9.5,0 9.6,0 9.6,-0.3 9.6,-0.3 9.6,-0.4 9.6,-0.4 9.6,-0.6 9.6,-0.6 9.6,-0.8 9.6,-1 9.6,-1.2 9.5,-1.4" stroke="#ffff80"/>
<path d="M48.6,253.8l9.6,-0.1 9.6,0 9.6,0 9.6,0.1 9.6,0.3 9.6,0.8 9.5,1.1 9.6,1.1 9.6,1.4 9.6,1.7 9.6,1.8 9.6,2 9.6,2.4 9.6,2.3 9.6,2 9.6,1.9 9.6,1.7 9.6,1.6 9.6,1.5 9.5,1.2 9.6,1 9.6,0.8 9.6,0.7 9.6,0.7 9.6,0.4 9.6,0.3 9.6,0.1 9.6,0 9.6,0.1 9.6,-0.1 9.6,-0.2 9.6,-0.4 9.5,-0.4 9.6,-0.4 9.6,-0.5 9.6,-0.6 9.6,-0.8 9.6,-1 9.6,-1.2 9.6,-1.4" stroke="#80ffff"/>
<path d="M47.8,255l9.6,-0.1 9.6,0 9.6,0.1 9.6,0.1 9.6,0.3 9.6,0.8 9.6,1.1 9.5,1.1 9.6,1.3 9.6,1.7 9.6,1.8 9.6,2 9.6,2.3 9.6,2.3 9.6,2 9.6,1.8 9.6,1.7 9.6,1.6 9.6,1.4 9.6,1.2 9.6,0.9 9.6,0.9 9.6,0.7 9.5,0.6 9.6,0.5 9.6,0.2 9.6,0.1 9.6,0.1 9.6,0 9.6,-0.1 9.6,-0.2 9.6,-0.3 9.6,-0.4 9.6,-0.4 9.6,-0.5 9.6,-0.7 9.6,-0.7 9.6,-1 9.6,-1.2 9.5,-1.3" stroke="#ff80ff"/>
<path d="M47,256.1l9.6,0 9.6,0 9.6,0.1 9.6,0.2 9.6,0.3 9.6,0.8 9.6,1.1 9.6,1 9.6,1.4 9.5,1.7 9.6,1.7 9.6,2 9.6,2.2 9.6,2.3 9.6,1.9 9.6,1.8 9.6,1.7 9.6,1.5 9.6,1.4 9.6,1.2 9.6,0.9 9.6,0.8 9.6,0.7 9.6,0.7 9.6,0.4 9.6,0.3 9.6,0.1 9.6,0 9.5,0.1 9.6,-0.1 9.6,-0.3 9.6,-0.3 9.6,-0.3 9.6,-0.4 9.6,-0.6 9.6,-0.6 9.6,-0.7 9.6,-1 9.6,-1.2 9.6,-1.3" stroke="#404040"/>
<path d="M46.2,257.3l9.6,0 9.6,0 9.6,0.2 9.6,0.1 9.6,0.4 9.6,0.8 9.6,1 9.6,1.1 9.6,1.4 9.6,1.6 9.6,1.7 9.6,2 9.5,2.2 9.6,2.2 9.6,1.9 9.6,1.7 9.6,1.7 9.6,1.5 9.6,1.3 9.6,1.2 9.6,0.9 9.6,0.8 9.6,0.7 9.6,0.6 9.6,0.5 9.6,0.2 9.6,0.1 9.6,0.1 9.6,0 9.6,-0.1 9.6,-0.2 9.6,-0.3 9.6,-0.4 9.6,-0.4 9.6,-0.5 9.6,-0.6 9.6,-0.7 9.5,-1 9.6,-1.2 9.6,-1.2" stroke="#000000"/>
<path d="M45.4,258.5l9.6,-0.1 9.6,0.1 9.6,0.2 9.6,0.2 9.6,0.4 9.6,0.8 9.6,1 9.6,1.1 9.6,1.4 9.6,1.6 9.6,1.7 9.6,1.8 9.6,2.2 9.6,2.2 9.6,1.8 9.6,1.7 9.6,1.6 9.6,1.5 9.5,1.3 9.6,1.2 9.6,0.9 9.6,0.8 9.6,0.7 9.6,0.6 9.6,0.5 9.6,0.2 9.6,0.1 9.6,0 9.6,0 9.6,0 9.6,-0.3 9.6,-0.3 9.6,-0.3 9.6,-0.4 9.6,-0.5 9.6,-0.6 9.6,-0.8 9.6,-0.9 9.6,-1.1 9.6,-1.3" stroke="#ff0000"/>
<path d="M44.6,259.6l9.6,0 9.6,0.2 9.6,0.2 9.6,0.2 9.6,0.4 9.6,0.8 9.6,1 9.6,1.1 9.6,1.3 9.6,1.6 9.6,1.7 9.6,1.8 9.6,2.1 9.6,2.1 9.6,1.9 9.6,1.6 9.6,1.6 9.6,1.5 9.6,1.3 9.6,1.1 9.6,0.9 9.6,0.8 9.6,0.6 9.6,0.6 9.6,0.5 9.6,0.2 9.6,0.1 9.6,0.1 9.6,0 9.6,-0.1 9.6,-0.2 9.6,-0.3 9.5,-0.4 9.6,-0.3 9.6,-0.5 9.6,-0.6 9.6,-0.8 9.6,-0.9 9.6,-1.1 9.6,-1.3" stroke="#00ff00"/>
<path d="M43.8,260.8l9.6,0 9.6,0.2 9.6,0.2 9.6,0.3 9.6,0.4 9.6,0.8 9.6,1 9.6,1.1 9.6,1.3 9.6,1.5 9.6,1.7 9.6,1.8 9.6,2.1 9.6,2 9.6,1.8 9.6,1.6 9.6,1.6 9.6,1.4 9.6,1.3 9.6,1.1 9.6,0.9 9.6,0.7 9.6,0.7 9.6,0.6 9.6,0.5 9.6,0.2 9.6,0.1 9.6,0 9.6,0 9.6,0 9.6,-0.3 9.6,-0.3 9.6,-0.3 9.6,-0.4 9.6,-0.5 9.6,-0.5 9.6,-0.8 9.6,-0.9 9.6,-1.1 9.6,-1.2" stroke="#0000ff"/>
<path d="M43,261.9l9.6,0.1 9.6,0.2 9.6,0.3 9.6,0.2 9.6,0.5 9.6,0.8 9.6,1 9.6,1.1 9.6,1.3 9.6,1.5 9.6,1.6 9.6,1.8 9.6,2 9.6,2 9.6,1.8 9.6,1.6 9.6,1.5 9.6,1.4 9.6,1.2 9.6,1.1 9.6,0.9 9.6,0.7 9.6,0.7 9.6,0.6 9.6,0.4 9.6,0.2 9.6,0.1 9.6,0.1 9.6,0 9.6,-0.1 9.6,-0.2 9.6,-0.3 9.6,-0.3 9.6,-0.4 9.6,-0.5 9.6,-0.6 9.6,-0.7 9.6,-0.9 9.6,-1.1 9.6,-1.2" stroke="#00ffff"/>
<path d="M42.2,263.1l9.6,0.1 9.6,0.2 9.6,0.3 9.6,0.3 9.6,0.5 9.6,0.8 9.6,1 9.6,1.1 9.6,1.2 9.6,1.5 9.6,1.6 9.6,1.8 9.6,1.9 9.6,2 9.6,1.7 9.6,1.6 9.6,1.4 9.6,1.4 9.6,1.2 9.6,1.1 9.6,0.8 9.6,0.8 9.6,0.6 9.7,0.6 9.6,0.5 9.6,0.2 9.6,0.1 9.6,0 9.6,0 9.6,-0.1 9.6,-0.2 9.6,-0.3 9.6,-0.3 9.6,-0.3 9.6,-0.5 9.6,-0.6 9.6,-0.7 9.6,-0.9 9.6,-1.1 9.6,-1.2" stroke="#ff00ff"/>
<path d="M41.4,264.2l9.6,0.2 9.6,0.3 9.6,0.3 9.6,0.3 9.6,0.5 9.6,0.8 9.6,1 9.6,1 9.6,1.3 9.6,1.5 9.6,1.5 9.6,1.7 9.6,2 9.6,1.9 9.7,1.6 9.6,1.6 9.6,1.4 9.6,1.4 9.6,1.2 9.6,1 9.6,0.8 9.6,0.8 9.6,0.6 9.6,0.6 9.6,0.4 9.6,0.2 9.6,0.1 9.6,0.1 9.6,0 9.6,-0.1 9.6,-0.2 9.6,-0.3 9.6,-0.3 9.6,-0.4 9.6,-0.4 9.6,-0.6 9.6,-0.7 9.6,-0.9 9.6,-1 9.6,-1.2" stroke="#ffff00"/>
<path d="M40.6,265.4l9.6,0.2 9.6,0.3 9.6,0.3 9.6,0.4 9.6,0.5 9.6,0.8 9.6,1 9.6,1 9.6,1.3 9.6,1.4 9.7,1.6 9.6,1.6 9.6,1.9 9.6,1.9 9.6,1.6 9.6,1.5 9.6,1.4 9.6,1.3 9.6,1.2 9.6,1 9.6,0.8 9.6,0.7 9.6,0.7 9.6,0.5 9.6,0.5 9.6,0.2 9.6,0.1 9.6,0 9.6,0 9.6,-0.1 9.6,-0.2 9.6,-0.3 9.7,-0.3 9.6,-0.3 9.6,-0.5 9.6,-0.5 9.6,-0.7 9.6,-0.9 9.6,-1 9.6,-1.2" stroke="#808000"/>
<path d="M39.8,266.5l9.6,0.3 9.6,0.3 9.6,0.4 9.6,0.3 9.6,0.6 9.6,0.8 9.6,1 9.6,1 9.7,1.3 9.6,1.4 9.6,1.5 9.6,1.6 9.6,1.8 9.6,1.8 9.6,1.6 9.6,1.5 9.6,1.4 9.6,1.3 9.6,1.1 9.6,1 9.6,0.8 9.6,0.7 9.6,0.6 9.6,0.6 9.6,0.4 9.7,0.2 9.6,0.1 9.6,0.1 9.6,0 9.6,-0.1 9.6,-0.2 9.6,-0.3 9.6,-0.3 9.6,-0.4 9.6,-0.4 9.6,-0.5 9.6,-0.7 9.6,-0.9 9.6,-1 9.6,-1.2" stroke="#000080"/>
<path d="M39,267.7l9.6,0.3 9.6,0.3 9.6,0.4 9.6,0.4 9.6,0.6 9.6,0.8 9.6,1 9.7,1 9.6,1.2 9.6,1.4 9.6,1.5 9.6,1.6 9.6,1.8 9.6,1.7 9.6,1.6 9.6,1.4 9.6,1.4 9.6,1.2 9.6,1.1 9.6,1 9.6,0.8 9.7,0.7 9.6,0.6 9.6,0.6 9.6,0.4 9.6,0.2 9.6,0.1 9.6,0 9.6,0 9.6,-0.1 9.6,-0.2 9.6,-0.3 9.6,-0.2 9.6,-0.4 9.6,-0.4 9.7,-0.6 9.6,-0.6 9.6,-0.9 9.6,-1 9.6,-1.1" stroke="#800080"/>
<path d="M38.2,268.9l9.6,0.3 9.6,0.3 9.6,0.5 9.6,0.4 9.6,0.6 9.6,0.8 9.7,1 9.6,1 9.6,1.2 9.6,1.4 9.6,1.4 9.6,1.6 9.6,1.7 9.6,1.7 9.6,1.5 9.6,1.4 9.6,1.3 9.6,1.3 9.7,1 9.6,1 9.6,0.8 9.6,0.7 9.6,0.6 9.6,0.5 9.6,0.4 9.6,0.2 9.6,0.1 9.6,0 9.6,0 9.6,0 9.7,-0.2 9.6,-0.3 9.6,-0.3 9.6,-0.3 9.6,-0.4 9.6,-0.6 9.6,-0.6 9.6,-0.9 9.6,-1 9.6,-1.1" stroke="#800000"/>
<path d="M37.4,270l9.6,0.4 9.6,0.4 9.6,0.4 9.6,0.5 9.6,0.5 9.7,0.9 9.6,1 9.6,1 9.6,1.2 9.6,1.3 9.6,1.4 9.6,1.5 9.6,1.7 9.6,1.7 9.6,1.5 9.7,1.3 9.6,1.3 9.6,1.2 9.6,1.1 9.6,0.9 9.6,0.7 9.6,0.7 9.6,0.6 9.6,0.6 9.6,0.4 9.6,0.2 9.7,0.1 9.6,0 9.6,0 9.6,-0.1 9.6,-0.2 9.6,-0.3 9.6,-0.2 9.6,-0.4 9.6,-0.4 9.6,-0.5 9.6,-0.7 9.7,-0.8 9.6,-0.9 9.6,-1.2" stroke="#008000"/>
<path d="M36.6,271.2l9.6,0.4 9.6,0.4 9.6,0.5 9.6,0.4 9.7,0.6 9.6,0.9 9.6,1 9.6,1 9.6,1.1 9.6,1.4 9.6,1.3 9.6,1.5 9.6,1.7 9.6,1.6 9.7,1.4 9.6,1.3 9.6,1.3 9.6,1.1 9.6,1.1 9.6,0.9 9.6,0.7 9.6,0.7 9.6,0.6 9.7,0.5 9.6,0.4 9.6,0.2 9.6,0.1 9.6,0 9.6,0 9.6,-0.1 9.6,-0.1 9.6,-0.3 9.7,-0.3 9.6,-0.3 9.6,-0.4 9.6,-0.5 9.6,-0.7 9.6,-0.8 9.6,-0.9 9.6,-1.1" stroke="#008080"/>
<path d="M35.8,272.3l9.6,0.4 9.6,0.5 9.6,0.5 9.6,0.5 9.7,0.6 9.6,0.9 9.6,1 9.6,0.9 9.6,1.2 9.6,1.3 9.6,1.4 9.6,1.4 9.7,1.6 9.6,1.6 9.6,1.4 9.6,1.2 9.6,1.3 9.6,1.1 9.6,1 9.6,0.9 9.6,0.7 9.7,0.7 9.6,0.6 9.6,0.5 9.6,0.4 9.6,0.2 9.6,0.1 9.6,0 9.6,0 9.7,-0.1 9.6,-0.2 9.6,-0.2 9.6,-0.3 9.6,-0.3 9.6,-0.4 9.6,-0.5 9.6,-0.7 9.7,-0.8 9.6,-0.9 9.6,-1.1" stroke="#0000a0"/>
<path d="M35,273.5l9.6,0.4 9.6,0.5 9.6,0.6 9.7,0.5 9.6,0.6 9.6,0.9 9.6,0.9 9.6,1 9.6,1.2 9.6,1.2 9.6,1.4 9.7,1.4 9.6,1.5 9.6,1.6 9.6,1.3 9.6,1.3 9.6,1.1 9.6,1.1 9.6,1 9.7,0.9 9.6,0.7 9.6,0.6 9.6,0.6 9.6,0.6 9.6,0.4 9.6,0.1 9.7,0.1 9.6,0 9.6,0 9.6,-0.1 9.6,-0.2 9.6,-0.2 9.6,-0.3 9.6,-0.3 9.7,-0.3 9.6,-0.6 9.6,-0.6 9.6,-0.8 9.6,-0.9 9.6,-1" stroke="#ff8000"/>
<path d="M34.2,274.6l9.6,0.5 9.6,0.6 9.6,0.5 9.7,0.6 9.6,0.6 9.6,0.9 9.6,0.9 9.6,1 9.6,1.1 9.6,1.3 9.7,1.3 9.6,1.4 9.6,1.5 9.6,1.4 9.6,1.3 9.6,1.3 9.6,1.1 9.7,1.1 9.6,1 9.6,0.8 9.6,0.7 9.6,0.6 9.6,0.6 9.6,0.5 9.7,0.4 9.6,0.2 9.6,0.1 9.6,0 9.6,0 9.6,-0.1 9.6,-0.2 9.7,-0.2 9.6,-0.3 9.6,-0.3 9.6,-0.4 9.6,-0.5 9.6,-0.6 9.6,-0.7 9.7,-1 9.6,-1" stroke="#8000ff"/>
<path d="M33.4,275.8l9.6,0.5 9.6,0.6 9.6,0.6 9.7,0.5 9.6,0.7 9.6,0.9 9.6,0.9 9.6,1 9.6,1.1 9.7,1.2 9.6,1.3 9.6,1.3 9.6,1.5 9.6,1.4 9.6,1.3 9.6,1.2 9.7,1.1 9.6,1 9.6,1 9.6,0.8 9.6,0.7 9.6,0.6 9.7,0.6 9.6,0.5 9.6,0.4 9.6,0.1 9.6,0.1 9.6,0 9.6,0 9.7,-0.1 9.6,-0.2 9.6,-0.2 9.6,-0.2 9.6,-0.3 9.6,-0.4 9.7,-0.5 9.6,-0.6 9.6,-0.7 9.6,-0.9 9.6,-1.1" stroke="#ff0080"/>
<path d="M32.6,277l9.6,0.5 9.6,0.6 9.7,0.6 9.6,0.6 9.6,0.7 9.6,0.9 9.6,0.9 9.6,1 9.7,1.1 9.6,1.2 9.6,1.2 9.6,1.3 9.6,1.4 9.6,1.4 9.7,1.2 9.6,1.2 9.6,1.1 9.6,1 9.6,0.9 9.6,0.8 9.7,0.7 9.6,0.6 9.6,0.5 9.6,0.5 9.6,0.4 9.6,0.2 9.7,0.1 9.6,0 9.6,-0.1 9.6,0 9.6,-0.2 9.6,-0.2 9.7,-0.3 9.6,-0.3 9.6,-0.3 9.6,-0.5 9.6,-0.6 9.6,-0.7 9.7,-0.9 9.6,-1" stroke="#ffffff"/>
<path d="M31.8,278.1l9.6,0.6 9.6,0.6 9.7,0.7 9.6,0.6 9.6,0.7 9.6,0.9 9.6,0.9 9.6,1 9.7,1.1 9.6,1.1 9.6,1.2 9.6,1.3 9.6,1.4 9.7,1.3 9.6,1.2 9.6,1.1 9.6,1.1 9.6,0.9 9.6,0.9 9.7,0.8 9.6,0.6 9.6,0.6 9.6,0.6 9.6,0.5 9.6,0.4 9.7,0.2 9.6,0 9.6,0 9.6,0 9.6,-0.1 9.7,-0.2 9.6,-0.2 9.6,-0.2 9.6,-0.3 9.6,-0.3 9.6,-0.5 9.7,-0.6 9.6,-0.7 9.6,-0.9 9.6,-1" stroke="#c0c0c0"/>
<path d="M31,279.3l9.6,0.6 9.6,0.6 9.7,0.7 9.6,0.7 9.6,0.7 9.6,0.9 9.6,0.9 9.7,1 9.6,1 9.6,1.2 9.6,1.1 9.6,1.3 9.6,1.3 9.7,1.3 9.6,1.1 9.6,1.1 9.6,1 9.6,1 9.7,0.8 9.6,0.8 9.6,0.6 9.6,0.6 9.6,0.6 9.7,0.4 9.6,0.4 9.6,0.2 9.6,0.1 9.6,0 9.7,-0.1 9.6,-0.1 9.6,-0.1 9.6,-0.2 9.6,-0.3 9.7,-0.2 9.6,-0.4 9.6,-0.4 9.6,-0.6 9.6,-0.7 9.6,-0.9 9.7,-1" stroke="#808080"/>
<path d="M30.2,280.4l9.6,0.7 9.6,0.7 9.7,0.7 9.6,0.6 9.6,0.8 9.6,0.9 9.6,0.9 9.7,1 9.6,1 9.6,1.1 9.6,1.2 9.6,1.2 9.7,1.2 9.6,1.3 9.6,1.1 9.6,1 9.6,1 9.7,0.9 9.6,0.9 9.6,0.7 9.6,0.6 9.6,0.6 9.7,0.5 9.6,0.5 9.6,0.4 9.6,0.2 9.7,0 9.6,0 9.6,0 9.6,-0.1 9.6,-0.2 9.7,-0.2 9.6,-0.2 9.6,-0.3 9.6,-0.3 9.6,-0.5 9.7,-0.5 9.6,-0.7 9.6,-0.9 9.6,-0.9" stroke="#ffff80"/>
<path d="M29.4,281.6l9.6,0.7 9.6,0.7 9.7,0.7 9.6,0.7 9.6,0.8 9.6,0.9 9.7,0.9 9.6,0.9 9.6,1.1 9.6,1.1 9.6,1.1 9.7,1.1 9.6,1.3 9.6,1.1 9.6,1.1 9.6,1 9.7,1 9.6,0.9 9.6,0.8 9.6,0.7 9.7,0.6 9.6,0.6 9.6,0.5 9.6,0.5 9.6,0.3 9.7,0.2 9.6,0.1 9.6,0 9.6,-0.1 9.6,-0.1 9.7,-0.1 9.6,-0.2 9.6,-0.2 9.6,-0.3 9.7,-0.3 9.6,-0.5 9.6,-0.5 9.6,-0.7 9.6,-0.9 9.7,-0.9" stroke="#80ffff"/>
<path d="M28.6,282.7l9.6,0.8 9.6,0.7 9.7,0.8 9.6,0.7 9.6,0.8 9.6,0.9 9.7,0.9 9.6,0.9 9.6,1 9.6,1.1 9.7,1.1 9.6,1.1 9.6,1.2 9.6,1.1 9.6,1.1 9.7,0.9 9.6,1 9.6,0.8 9.6,0.8 9.7,0.7 9.6,0.6 9.6,0.5 9.6,0.6 9.6,0.4 9.7,0.4 9.6,0.2 9.6,0 9.6,0 9.7,0 9.6,-0.1 9.6,-0.2 9.6,-0.2 9.7,-0.2 9.6,-0.2 9.6,-0.3 9.6,-0.5 9.6,-0.6 9.7,-0.6 9.6,-0.8 9.6,-1" stroke="#ff80ff"/>
<path d="M27.8,283.9l9.6,0.8 9.6,0.7 9.7,0.8 9.6,0.8 9.6,0.8 9.6,0.8 9.7,1 9.6,0.9 9.6,1 9.6,1.1 9.7,1 9.6,1.1 9.6,1.1 9.6,1.1 9.7,1 9.6,1 9.6,0.8 9.6,0.9 9.7,0.7 9.6,0.7 9.6,0.6 9.6,0.5 9.7,0.5 9.6,0.5 9.6,0.3 9.6,0.2 9.6,0.1 9.7,-0.1 9.6,0 9.6,-0.1 9.6,-0.1 9.7,-0.2 9.6,-0.2 9.6,-0.3 9.6,-0.3 9.7,-0.4 9.6,-0.6 9.6,-0.6 9.6,-0.8 9.7,-0.9" stroke="#404040"/>
<path d="M27,285l9.6,0.9 9.7,0.8 9.6,0.8 9.6,0.7 9.6,0.9 9.7,0.8 9.6,1 9.6,0.9 9.6,1 9.7,1 9.6,1 9.6,1.1 9.6,1.1 9.7,1 9.6,1 9.6,0.9 9.6,0.8 9.7,0.8 9.6,0.7 9.6,0.7 9.6,0.6 9.7,0.5 9.6,0.5 9.6,0.4 9.6,0.4 9.7,0.2 9.6,0 9.6,0 9.6,-0.1 9.7,0 9.6,-0.2 9.6,-0.2 9.6,-0.2 9.7,-0.2 9.6,-0.3 9.6,-0.4 9.6,-0.6 9.7,-0.6 9.6,-0.8 9.6,-0.9" stroke="#000000"/>
<path d="M26.2,286.2l9.6,0.8 9.7,0.9 9.6,0.8 9.6,0.8 9.6,0.9 9.7,0.8 9.6,1 9.6,0.9 9.6,0.9 9.7,1 9.6,1 9.6,1 9.6,1.1 9.7,1 9.6,0.9 9.6,0.9 9.7,0.8 9.6,0.8 9.6,0.7 9.6,0.6 9.7,0.5 9.6,0.6 9.6,0.5 9.6,0.4 9.7,0.3 9.6,0.2 9.6,0 9.6,0 9.7,0 9.6,-0.1 9.6,-0.1 9.6,-0.2 9.7,-0.2 9.6,-0.2 9.6,-0.3 9.7,-0.5 9.6,-0.5 9.6,-0.6 9.6,-0.8 9.7,-0.9" stroke="#ff0000"/>
<path d="M25.4,287.4l9.6,0.8 9.7,0.9 9.6,0.9 9.6,0.8 9.6,0.8 9.7,0.9 9.6,1 9.6,0.9 9.6,0.9 9.7,1 9.6,1 9.6,0.9 9.7,1 9.6,1 9.6,0.8 9.6,0.9 9.7,0.8 9.6,0.7 9.6,0.7 9.7,0.6 9.6,0.5 9.6,0.5 9.6,0.5 9.7,0.5 9.6,0.3 9.6,0.2 9.6,0 9.7,0 9.6,-0.1 9.6,-0.1 9.7,-0.1 9.6,-0.2 9.6,-0.2 9.6,-0.2 9.7,-0.2 9.6,-0.5 9.6,-0.5 9.7,-0.6 9.6,-0.8 9.6,-0.8" stroke="#00ff00"/>
<path d="M24.6,288.5l9.6,0.9 9.7,0.9 9.6,0.9 9.6,0.9 9.6,0.8 9.7,0.9 9.6,0.9 9.6,1 9.7,0.9 9.6,0.9 9.6,1 9.6,0.9 9.7,0.9 9.6,1 9.6,0.8 9.7,0.8 9.6,0.8 9.6,0.7 9.6,0.6 9.7,0.6 9.6,0.5 9.6,0.5 9.7,0.5 9.6,0.4 9.6,0.4 9.7,0.1 9.6,0 9.6,0 9.6,0 9.7,-0.1 9.6,-0.1 9.6,-0.2 9.7,-0.2 9.6,-0.2 9.6,-0.3 9.6,-0.4 9.7,-0.5 9.6,-0.6 9.6,-0.7 9.7,-0.9" stroke="#0000ff"/>
<path d="M23.8,289.7l9.6,0.9 9.7,0.9 9.6,1 9.6,0.9 9.7,0.8 9.6,0.9 9.6,0.9 9.6,0.9 9.7,1 9.6,0.9 9.6,0.9 9.7,0.9 9.6,0.9 9.6,0.8 9.7,0.8 9.6,0.8 9.6,0.7 9.6,0.7 9.7,0.6 9.6,0.6 9.6,0.5 9.7,0.5 9.6,0.5 9.6,0.4 9.7,0.3 9.6,0.2 9.6,0 9.6,0 9.7,-0.1 9.6,-0.1 9.6,-0.1 9.7,-0.2 9.6,-0.1 9.6,-0.2 9.7,-0.3 9.6,-0.4 9.6,-0.5 9.6,-0.6 9.7,-0.7 9.6,-0.8" stroke="#00ffff"/>
<path d="M23,290.8l9.6,1 9.7,1 9.6,0.9 9.6,0.9 9.7,0.9 9.6,0.9 9.6,0.9 9.7,0.9 9.6,0.9 9.6,0.9 9.6,0.9 9.7,0.9 9.6,0.8 9.6,0.8 9.7,0.8 9.6,0.7 9.6,0.7 9.7,0.7 9.6,0.6 9.6,0.5 9.7,0.5 9.6,0.5 9.6,0.4 9.7,0.4 9.6,0.4 9.6,0.1 9.6,0 9.7,0 9.6,0 9.6,-0.1 9.7,-0.2 9.6,-0.1 9.6,-0.2 9.7,-0.2 9.6,-0.2 9.6,-0.4 9.7,-0.5 9.6,-0.6 9.6,-0.7 9.7,-0.8" stroke="#ff00ff"/>
<path d="M22.2,292l9.6,1 9.7,1 9.6,1 9.6,0.9 9.7,0.9 9.6,0.9 9.6,0.9 9.7,0.9 9.6,0.9 9.6,0.9 9.7,0.8 9.6,0.8 9.6,0.8 9.7,0.8 9.6,0.7 9.6,0.7 9.7,0.7 9.6,0.6 9.6,0.6 9.7,0.5 9.6,0.5 9.6,0.4 9.6,0.5 9.7,0.4 9.6,0.3 9.6,0.2 9.7,0 9.6,0 9.6,-0.1 9.7,-0.1 9.6,-0.1 9.6,-0.2 9.7,-0.1 9.6,-0.2 9.6,-0.3 9.7,-0.3 9.6,-0.5 9.6,-0.6 9.7,-0.7 9.6,-0.8" stroke="#ffff00"/>
<path d="M21.4,293.1l9.6,1.1 9.7,1 9.6,1 9.6,1 9.7,0.9 9.6,0.9 9.6,0.9 9.7,0.9 9.6,0.9 9.6,0.8 9.7,0.8 9.6,0.8 9.6,0.8 9.7,0.7 9.6,0.7 9.6,0.6 9.7,0.7 9.6,0.6 9.6,0.5 9.7,0.5 9.6,0.4 9.6,0.5 9.7,0.5 9.6,0.4 9.6,0.3 9.7,0.1 9.6,0 9.6,0 9.7,0 9.6,-0.1 9.6,-0.2 9.7,-0.1 9.6,-0.2 9.6,-0.1 9.7,-0.3 9.6,-0.4 9.6,-0.4 9.7,-0.6 9.6,-0.7 9.7,-0.7" stroke="#808000"/>
<path d="M20.6,294.3l9.6,1.1 9.7,1 9.6,1.1 9.6,1 9.7,0.9 9.6,0.9 9.6,0.9 9.7,0.9 9.6,0.8 9.7,0.9 9.6,0.7 9.6,0.8 9.7,0.7 9.6,0.7 9.6,0.6 9.7,0.6 9.6,0.6 9.6,0.6 9.7,0.5 9.6,0.5 9.6,0.4 9.7,0.5 9.6,0.4 9.6,0.4 9.7,0.3 9.6,0.2 9.6,0 9.7,0 9.6,-0.1 9.6,-0.1 9.7,-0.1 9.6,-0.1 9.7,-0.2 9.6,-0.2 9.6,-0.2 9.7,-0.4 9.6,-0.5 9.6,-0.5 9.7,-0.6 9.6,-0.8" stroke="#000080"/>
<path d="M19.8,316l9.6,0.4 9.7,0.3 9.6,0.4 9.7,0.3 9.6,0.4 9.6,0.3 9.7,0.3 9.6,0.4 9.6,0.3 9.7,0.3 9.6,0.3 9.7,0.4 9.6,0.3 9.6,0.2 9.7,0.4 9.6,0.3 9.6,0.4 9.7,0.3 9.6,0.2 9.7,0.2 9.6,0 9.6,0 9.7,0 9.6,0 9.6,0 9.7,-0.2 9.6,-0.3 9.7,-0.4 9.6,-0.4 9.6,-0.5 9.7,-0.4 9.6,-0.6 9.6,-0.6 9.7,-0.7 9.6,-0.7 9.7,-0.7 9.6,-0.8 9.6,-0.8 9.7,-0.8 9.6,-0.9" stroke="#800080"/>
</g>
<path d="M195.6,33V154" stroke="#ff0000" stroke-width="2.4" stroke-dasharray="1.5 1.87" fill="none"/>
<path d="M191.2,153.3H200L198.2,156.2L198.7,157.2L197.4,160.3L197.8,161.3L196.8,164.8L196.2,170H195L194.4,164.8L193.4,161.3L193.8,160.3L192.5,157.2L193,156.2Z" fill="#ff0000" stroke="none"/>
<g fill="none" stroke-width="1.35" stroke-linejoin="round">
<path d="M136.1,678.6l2.8,-0.8 2.8,-1 2.7,-2.2 2.8,0.7 2.8,-0.6 2.8,-0.5 2.7,-0.6 2.8,-0.5 11.1,-2.4 11.2,-2.4 11.1,-2.5 11.1,-2.4 11.1,-2.4 11.1,-3.7" stroke="#f01818"/>
<path d="M135.3,678.6l2.8,-0.8 2.8,-1.3 2.8,2 2.8,-1.9 2.8,-0.3 2.8,0.1 2.8,-0.1 2.8,-0.7 11.2,-1.7 11.3,-1.9 11.2,-2.1 11.2,-2.5 11.2,-3.1 11.2,-6.7" stroke="#ff10f0"/>
<path d="M134.5,680.1l2.8,1.6 2.9,-3.8 2.8,0.3 2.8,-0.4 2.8,-1 2.9,0.4 2.8,-0.2 2.8,-0.3 11.3,-1.7 11.4,-2 11.3,-2.1 11.3,-2.5 11.3,-3.4 11.3,-7.1" stroke="#b020e0"/>
<path d="M133.7,680.5l2.9,-1.1 2.8,0.7 2.9,-2.2 2.8,1.3 2.9,0.3 2.8,-0.7 2.9,-0.4 2.8,-0.6 11.4,-1.7 11.5,-2 11.4,-2.1 11.4,-2.5 11.4,-3.7 11.4,-7.6" stroke="#8a20d0"/>
<path d="M132.9,682.1l2.9,0.8 2.9,-2 2.8,1.3 2.9,-2.2 2.9,0.1 2.9,-0.4 2.8,-0.6 2.9,-0.2 11.5,-1.7 11.6,-2 11.5,-2.1 11.5,-2.6 11.5,-3.8 11.5,-8.2" stroke="#7028c0"/>
<path d="M131.6,683.5l2.9,0.1 2.9,-0.8 2.9,-1.7 3,1.7 2.9,-1.9 2.9,0.3 2.9,-0.3 2.9,-0.5 11.7,-1.7 11.7,-2 11.7,-2.2 11.6,-2.8 11.7,-4.2 11.7,-8.9" stroke="#3838b0"/>
<path d="M130.3,684.6l2.9,-0.7 3,-0.7 2.9,0.9 3,-1 3,-0.1 2.9,-0.1 3,-0.7 2.9,-0.3 11.9,-1.7 11.8,-2 11.9,-2.3 11.8,-2.9 11.9,-4.6 11.8,-9.8" stroke="#8a8a20"/>
<path d="M128.9,686.4l3,-1 3,-0.4 3.1,0.9 3,-0.7 3,-0.8 3,-0.2 3,-0.4 3,-0.3 12,-1.8 12,-2 12,-2.4 12,-3.1 12,-4.9 12,-10.6" stroke="#3a9090"/>
<path d="M127.6,687.6l3.1,0.4 3,-1.5 3.1,-1 3,1.2 3,-0.4 3.1,-0.6 3,-0.3 3.1,-0.4 12.1,-1.8 12.2,-2 12.2,-2.4 12.2,-3.3 12.1,-5.4 12.2,-11.3" stroke="#a08060"/>
<path d="M126.3,689.2l3.1,-0.6 3.1,1 3.1,-1.6 3,-1 3.1,0.2 3.1,0.1 3.1,-0.4 3.1,-0.4 12.3,-1.8 12.4,-2 12.3,-2.5 12.3,-3.5 12.4,-5.7 12.3,-12.1" stroke="#40a040"/>
<path d="M125,690.6l3.1,1.3 3.1,-2.8 3.2,0.9 3.1,-0.4 3.1,-0.2 3.1,-0.8 3.2,-0.2 3.1,-0.4 12.5,-1.7 12.5,-2.1 12.5,-2.6 12.5,-3.7 12.5,-6 12.5,-13" stroke="#2a8888"/>
<path d="M123.7,692.5l3.1,-2 3.2,2.7 3.2,-2.6 3.1,0.8 3.2,-0.2 3.2,-1.1 3.1,-0.2 3.2,-0.3 12.7,-1.8 12.6,-2.1 12.7,-2.7 12.7,-3.8 12.6,-6.5 12.7,-13.7" stroke="#e02868"/>
<path d="M122.4,694.7l3.2,-0.2 3.2,-1.6 3.2,0 3.2,-1.5 3.2,0.4 3.2,-0.2 3.2,-0.1 3.2,-0.4 12.8,-1.8 12.9,-2.1 12.8,-2.8 12.8,-4 12.9,-6.8 12.8,-14.5" stroke="#50a050"/>
<path d="M121,695.3l3.3,2.2 3.2,-1.4 3.3,-1.6 3.2,-0.6 3.3,-0.2 3.2,-0.2 3.3,-0.5 3.2,-0.4 13,-1.8 13,-2.1 13,-2.9 13,-4.1 13,-7.3 13,-15.2" stroke="#989090"/>
<path d="M119.7,696.9l3.3,2.1 3.3,-3 3.3,1.7 3.3,-2.2 3.3,0 3.3,-0.2 3.2,-0.8 3.3,-0.4 13.2,-1.8 13.2,-2.1 13.1,-3 13.2,-4.3 13.1,-7.6 13.2,-16.1" stroke="#b09498"/>
<path d="M118.4,699.4l3.3,-4.1 3.4,2.7 3.3,0.1 3.3,-1 3.4,0.3 3.3,-0.7 3.3,-0.7 3.3,-0.3 13.4,-1.9 13.3,-2.2 13.3,-2.9 13.4,-4.5 13.3,-8 13.3,-16.9" stroke="#8a9a28"/>
<path d="M117.6,699.5l3.4,2.6 3.3,-2.1 3.4,-0.9 3.3,-0.1 3.4,-0.2 3.3,-1.1 3.4,-0.2 3.3,-0.8 13.5,-1.8 13.4,-2.2 13.4,-2.9 13.5,-4.6 13.4,-8.5 13.4,-17.9" stroke="#2a9098"/>
<path d="M116.8,700.5l3.4,-1 3.4,-0.2 3.3,2.5 3.4,-2.1 3.4,-0.9 3.4,0.1 3.4,-0.9 3.3,-0.3 13.6,-1.8 13.5,-2.2 13.5,-3 13.6,-4.7 13.5,-8.7 13.5,-18.7" stroke="#608858"/>
<path d="M116,702l3.4,-1.8 3.4,2.3 3.4,-1.5 3.4,-0.3 3.4,-0.8 3.4,-0.2 3.4,-1 3.4,-0.1 13.7,-1.8 13.6,-2.2 13.6,-3 13.7,-4.8 13.6,-9 13.6,-19.5" stroke="#909888"/>
<path d="M115.2,703.4l3.4,-1.4 3.5,-0.2 3.4,0 3.4,0.2 3.5,-0.3 3.4,-1.7 3.4,-0.1 3.4,-0.3 13.8,-1.8 13.7,-2.2 13.7,-3.1 13.8,-4.9 13.7,-9.2 13.7,-20.4" stroke="#2080b0"/>
<path d="M114.4,703.1l3.5,-1.1 3.4,0.2 3.5,1.4 3.4,-2 3.5,-0.6 3.4,0.3 3.5,-0.3 3.4,-0.5 13.9,-1.8 13.8,-2.2 13.8,-3.1 13.9,-5 13.8,-9.5 13.8,-21.1" stroke="#1878a8"/>
<path d="M113.6,703.5l3.5,0.9 3.5,-2.4 3.4,1.4 3.5,-1.2 3.5,1.5 3.5,-1.2 3.5,-0.4 3.4,-0.5 14,-1.8 13.9,-2.2 13.9,-3.1 14,-4.9 13.9,-9 13.9,-19.6" stroke="#105888"/>
<path d="M112.7,705.8l3.5,-2.4 3.5,1.7 3.5,1 3.5,-2.3 3.5,-1 3.6,0.5 3.5,-0.3 3.5,-0.4 14,-1.7 14,-2.2 14.1,-3.1 14,-4.9 14.1,-9 14,-19.7" stroke="#101010"/>
<path d="M110.9,706.9l3.6,0.7 3.5,-3.6 3.6,2.8 3.6,-0.6 3.5,-0.9 3.6,0.2 3.6,-0.5 3.5,-0.5 14.3,-1.9 14.3,-2.4 14.2,-3.3 14.3,-5.3 14.2,-9.8 14.3,-19.6" stroke="#f01818"/>
<path d="M109.1,709.6l3.6,1.4 3.6,-2.9 3.7,0.3 3.6,0 3.6,-0.7 3.6,-0.2 3.7,-0.7 3.6,-0.4 14.5,-2.1 14.4,-2.6 14.5,-3.6 14.5,-5.5 14.5,-10.7 14.5,-19.4" stroke="#ff10f0"/>
<path d="M107.3,711.6l3.7,0.1 3.7,0.5 3.6,-2.5 3.7,-0.3 3.7,-0.1 3.7,0.1 3.6,-0.9 3.7,-0.2 14.7,-2.2 14.8,-2.8 14.7,-3.9 14.7,-5.9 14.7,-11.5 14.7,-19.2" stroke="#b020e0"/>
<path d="M105.5,713.9l3.7,-0.7 3.8,-2.7 3.7,1.8 3.7,0 3.8,0 3.7,-0.4 3.7,-1.1 3.8,-0.6 14.9,-2.4 14.9,-3 15,-4.1 14.9,-6.3 15,-12.2 14.9,-19.2" stroke="#8a20d0"/>
<path d="M104.7,715.1l3.8,1.4 3.7,-2.2 3.8,-1.1 3.7,-0.4 3.8,-0.2 3.8,-0.5 3.7,-0.2 3.8,-0.6 15,-2.4 15,-3 15.1,-4.1 15,-6.4 15.1,-12.6 15,-19.3" stroke="#7028c0"/>
<path d="M103.9,716.3l3.8,-0.9 3.8,-2.2 3.8,1.3 3.7,-0.7 3.8,-0.7 3.8,0 3.8,-0.1 3.8,-0.7 15.1,-2.3 15.1,-3 15.2,-4.1 15.1,-6.5 15.2,-13 15.1,-19.4" stroke="#3838b0"/>
</g>
<g fill="none" stroke-width="0.95" stroke-linejoin="round">
<path d="M137.7,677.9l10.9,-2.4 10.9,-2.4 10.9,-2.4 11,-2.4 10.9,-2.5 10.9,-2.4 10.9,-2.4 10.9,-3.7 6.8,-7.8 6.7,-8.1 6.8,-8.1 6.8,-8.2 6.7,-8.2 6.8,-8.2 6.7,-7.8 6.8,-6.9 6.8,-6 6.7,-4.8 6.8,-3.3 6.8,-1.7 6.7,-1.6 6.8,-8 6.8,-10.6 6.7,-9.6 6.8,-8.4 6.7,-6.5 6.8,-4.9 6.8,-3.7 6.7,-2.8 6.8,-1.9 6.8,-0.9 6.7,-0.3 6.8,1 6.8,1.7 6.7,2 6.8,2.2 6.7,1.9 6.8,1.6 6.8,1.5 6.7,1.4 6.8,1.2 6.8,1 6.7,1.3 6.8,1.9 6.8,3.6 6.7,4.7 6.8,5.4 6.7,-0.2 6.8,1.3 6.8,1.3 6.7,1.2 6.8,1.5" stroke="#2040ff"/>
<path d="M136.9,677.9l11,-2.4 11,-2.4 11,-2.4 11,-2.4 11.1,-2.5 11,-2.4 11,-2.4 11,-3.7 6.8,-7.8 6.7,-8.1 6.8,-8.1 6.8,-8.2 6.7,-8.2 6.8,-8.2 6.7,-7.8 6.8,-6.9 6.8,-6 6.7,-4.8 6.8,-3.3 6.8,-1.7 6.7,-1.6 6.8,-8 6.8,-10.6 6.7,-9.6 6.8,-8.4 6.7,-6.5 6.8,-4.9 6.8,-3.7 6.7,-2.8 6.8,-1.9 6.8,-0.9 6.7,-0.3 6.8,1 6.8,1.7 6.7,2 6.8,2.2 6.7,1.9 6.8,1.6 6.8,1.5 6.7,1.4 6.8,1.2 6.8,1 6.7,1.3 6.8,2.6 6.8,2.1 6.7,2.1 6.8,2.6 6.7,3 6.8,3.1" stroke="#f01010"/>
<path d="M136.1,677.9l11.1,-2.4 11.1,-2.4 11.1,-2.4 11.2,-2.4 11.1,-2.5 11.1,-2.4 11.1,-2.4 11.1,-3.7 6.8,-7.8 6.7,-8.1 6.8,-8.1 6.8,-8.2 6.7,-8.2 6.8,-8.2 6.7,-7.8 6.8,-6.9 6.8,-6 6.7,-4.8 6.8,-3.3 6.8,-1.7 6.7,-1.6 6.8,-8 6.8,-10.6 6.7,-9.6 6.8,-8.4 6.7,-6.5 6.8,-4.9 6.8,-3.7 6.7,-2.8 6.8,-1.9 6.8,-0.9 6.7,-0.3 6.8,1 6.8,1.7 6.7,2 6.8,2.2 6.7,1.9 6.8,1.6 6.8,1.5 6.7,1.4 6.8,1.2 6.8,1 6.7,1.3 6.8,1.9 6.8,3.6 6.7,4.7 6.8,5.4 6.7,4.4 6.8,2.7 6.8,2.1 6.7,1.9 6.8,1.5" stroke="#ff00ff"/>
<path d="M135.3,678.8l11.2,-1.5 11.2,-1.7 11.2,-1.7 11.3,-1.9 11.2,-2.1 11.2,-2.5 11.2,-3.1 11.2,-6.7 6.7,-8 6.8,-8.1 6.7,-8.1 6.8,-8.1 6.7,-8.2 6.8,-8.2 6.7,-7.8 6.8,-6.9 6.7,-6 6.8,-4.8 6.7,-3.3 6.7,-1.7 6.8,-1.3 6.7,-6.8 6.8,-10.6 6.7,-7.3 6.8,-5.6 6.7,-3.3 6.8,-2.1 6.7,-1.2 6.8,-0.6 6.7,0.1 6.7,0.7 6.8,0.9 6.7,1.5 6.8,1.8 6.7,1.8 6.8,1.4 6.7,1.4 6.8,1.4 6.7,1.1 6.8,0.6 6.7,-0.1 6.7,-0.3 6.8,-0.4 6.7,-0.4 6.8,-0.1 6.7,0.9 6.8,2 6.7,2.3 6.8,1.9 6.7,1.8 6.8,1.8 6.7,1.8" stroke="#8b1a9b"/>
<path d="M134.5,679.8l11.3,-1.5 11.3,-1.6 11.3,-1.7 11.4,-2 11.3,-2.1 11.3,-2.5 11.3,-3.4 11.3,-7.1 6.7,-8.2 6.8,-8 6.7,-8.1 6.7,-8.1 6.7,-8.2 6.8,-8.1 6.7,-7.9 6.7,-6.8 6.7,-6 6.8,-4.9 6.7,-3.4 6.7,-1.6 6.8,-1.1 6.7,-5.5 6.7,-8.8 6.7,-6.3 6.8,-5.1 6.7,-2.9 6.7,-2 6.7,-1.2 6.8,-0.8 6.7,-0.3 6.7,0.8 6.8,1.3 6.7,1.6 6.7,2.3 6.7,2.2 6.8,1.4 6.7,1.3 6.7,1.1 6.7,0.9 6.8,0.5 6.7,-0.1 6.7,-0.3 6.8,-0.4 6.7,-0.4 6.7,-0.2 6.7,0.5 6.8,1.3 6.7,1.5 6.7,1.5 6.7,1.4 6.8,1.6 6.7,1.6" stroke="#8a8a10"/>
<path d="M133.7,680.7l11.4,-1.4 11.4,-1.5 11.4,-1.7 11.5,-2 11.4,-2.1 11.4,-2.5 11.4,-3.7 11.4,-7.6 6.7,-8.4 6.7,-8 6.7,-8.1 6.7,-8.1 6.7,-8 6.8,-8.2 6.7,-7.8 6.7,-6.9 6.7,-6 6.7,-4.9 6.7,-3.4 6.7,-1.7 6.7,-1 6.7,-4.2 6.7,-6.9 6.7,-5.6 6.8,-4.9 6.7,-3.3 6.7,-1.7 6.7,-0.6 6.7,0.5 6.7,1.1 6.7,1.2 6.7,1.5 6.7,1.8 6.7,1.8 6.7,1.8 6.8,1.4 6.7,1.6 6.7,1.5 6.7,1.3 6.7,0.7 6.7,0 6.7,-1 6.7,-1.3 6.7,-1.3 6.7,-0.6 6.7,0.1 6.8,0.3 6.7,0.4 6.7,0.6 6.7,1 6.7,1.4 6.7,1.7" stroke="#a0522d"/>
<path d="M132.9,681.7l11.5,-1.3 11.5,-1.5 11.5,-1.7 11.6,-2 11.5,-2.1 11.5,-2.6 11.5,-3.8 11.5,-8.2 6.7,-8.6 6.7,-8 6.7,-8 6.7,-8.1 6.7,-8 6.6,-8.2 6.7,-7.8 6.7,-6.8 6.7,-6.1 6.7,-4.9 6.7,-3.4 6.7,-1.7 6.7,-1 6.7,-4.6 6.7,-6.6 6.7,-4.3 6.6,-3.4 6.7,-2.4 6.7,-1.6 6.7,-0.8 6.7,-0.1 6.7,1.2 6.7,2.2 6.7,2.2 6.7,2.1 6.7,2.4 6.7,2.2 6.6,1.8 6.7,1.8 6.7,1.7 6.7,0.9 6.7,0 6.7,-0.5 6.7,-0.8 6.7,-1 6.7,-1.4 6.7,-1.2 6.7,-0.4 6.6,-0.3 6.7,-0.1 6.7,-0.1 6.7,0.5 6.7,1.2 6.7,1.5" stroke="#20c040"/>
<path d="M131.6,683.2l11.7,-1.3 11.6,-1.5 11.7,-1.7 11.7,-2 11.7,-2.2 11.6,-2.8 11.7,-4.2 11.7,-8.9 6.7,-8.6 6.6,-8 6.7,-8 6.6,-8 6.7,-8 6.7,-8.1 6.6,-7.8 6.7,-6.9 6.6,-6 6.7,-5 6.7,-3.5 6.6,-1.7 6.7,-1 6.7,-4.3 6.6,-6 6.7,-4 6.6,-3.2 6.7,-2.2 6.7,-1.4 6.6,-0.6 6.7,0 6.6,1.3 6.7,2.2 6.7,2.2 6.6,2.2 6.7,2.3 6.6,2.2 6.7,1.7 6.7,1.7 6.6,1.4 6.7,0.9 6.7,0 6.6,-0.5 6.7,-0.8 6.6,-1 6.7,-1.4 6.7,-1.2 6.6,-0.5 6.7,-0.3 6.6,-0.2 6.7,-0.1 6.7,0.5 6.6,1 6.7,1.6" stroke="#e02060"/>
<path d="M130.3,684.8l11.8,-1.3 11.8,-1.6 11.9,-1.7 11.8,-2 11.9,-2.3 11.8,-2.9 11.9,-4.6 11.8,-9.8 6.6,-8.6 6.7,-7.9 6.6,-7.9 6.6,-8 6.7,-8 6.6,-8.1 6.6,-7.8 6.6,-6.8 6.7,-6 6.6,-5 6.6,-3.6 6.7,-1.8 6.6,-1 6.6,-4 6.7,-5.5 6.6,-3.7 6.6,-2.9 6.7,-2 6.6,-1.2 6.6,-0.4 6.7,0.1 6.6,1.4 6.6,2.2 6.6,2.3 6.7,2.2 6.6,2.3 6.6,2 6.7,1.7 6.6,1.5 6.6,1.3 6.7,0.8 6.6,0 6.6,-0.5 6.7,-0.8 6.6,-1 6.6,-1.4 6.6,-1.2 6.7,-0.6 6.6,-0.4 6.6,-0.2 6.7,-0.1 6.6,0.4 6.6,1 6.7,1.5" stroke="#00a8c0"/>
<path d="M128.9,686.3l12.1,-1.3 12,-1.5 12,-1.8 12,-2 12,-2.4 12,-3.1 12,-4.9 12,-10.6 6.6,-8.6 6.6,-7.9 6.6,-7.9 6.6,-7.9 6.6,-8 6.6,-8 6.6,-7.8 6.6,-6.9 6.6,-6 6.6,-5 6.6,-3.6 6.6,-1.9 6.6,-1.1 6.6,-3.6 6.6,-5 6.6,-3.3 6.6,-2.6 6.6,-1.9 6.6,-1 6.6,-0.3 6.6,0.3 6.6,1.5 6.6,2.2 6.6,2.3 6.6,2.3 6.6,2.3 6.6,1.9 6.6,1.5 6.6,1.5 6.6,1.1 6.6,0.7 6.6,-0.1 6.6,-0.4 6.6,-0.7 6.6,-1.1 6.6,-1.4 6.6,-1.2 6.6,-0.7 6.6,-0.4 6.6,-0.2 6.6,-0.1 6.6,0.3 6.6,0.9 6.6,1.5" stroke="#4030a0"/>
<path d="M127.6,687.9l12.2,-1.4 12.2,-1.5 12.1,-1.8 12.2,-2 12.2,-2.4 12.2,-3.3 12.1,-5.4 12.2,-11.3 6.6,-8.7 6.5,-7.8 6.6,-7.8 6.6,-8 6.6,-7.9 6.5,-8 6.6,-7.7 6.6,-6.9 6.5,-6 6.6,-5.1 6.6,-3.6 6.6,-2 6.5,-1.1 6.6,-3.3 6.6,-4.5 6.5,-3 6.6,-2.3 6.6,-1.7 6.6,-0.8 6.5,-0.1 6.6,0.4 6.6,1.6 6.5,2.2 6.6,2.4 6.6,2.3 6.5,2.2 6.6,1.8 6.6,1.5 6.6,1.3 6.5,1 6.6,0.6 6.6,-0.1 6.5,-0.4 6.6,-0.7 6.6,-1.1 6.6,-1.4 6.5,-1.2 6.6,-0.8 6.6,-0.5 6.5,-0.2 6.6,-0.1 6.6,0.3 6.6,0.8 6.5,1.4" stroke="#809820"/>
<path d="M126.3,689.4l12.3,-1.3 12.4,-1.6 12.3,-1.8 12.4,-2 12.3,-2.5 12.3,-3.5 12.4,-5.7 12.3,-12.1 6.5,-8.7 6.6,-7.8 6.5,-7.8 6.6,-7.9 6.5,-7.9 6.5,-7.9 6.6,-7.8 6.5,-6.8 6.6,-6 6.5,-5.2 6.6,-3.6 6.5,-2.1 6.5,-1.2 6.6,-2.9 6.5,-4 6.6,-2.6 6.5,-2.1 6.5,-1.4 6.6,-0.7 6.5,0.1 6.6,0.5 6.5,1.6 6.5,2.3 6.6,2.4 6.5,2.4 6.6,2.2 6.5,1.7 6.6,1.4 6.5,1.1 6.5,0.9 6.6,0.5 6.5,-0.1 6.6,-0.4 6.5,-0.7 6.5,-1.1 6.6,-1.4 6.5,-1.3 6.6,-0.8 6.5,-0.6 6.5,-0.2 6.6,-0.1 6.5,0.2 6.6,0.8 6.5,1.4" stroke="#808080"/>
<path d="M125,691l12.5,-1.4 12.5,-1.6 12.5,-1.7 12.5,-2.1 12.5,-2.6 12.5,-3.7 12.5,-6 12.5,-13 6.5,-8.6 6.5,-7.8 6.5,-7.8 6.5,-7.8 6.6,-7.9 6.5,-7.9 6.5,-7.7 6.5,-6.9 6.5,-6 6.5,-5.1 6.5,-3.7 6.5,-2.2 6.5,-1.2 6.6,-2.6 6.5,-3.5 6.5,-2.3 6.5,-1.8 6.5,-1.2 6.5,-0.5 6.5,0.2 6.5,0.7 6.5,1.7 6.6,2.3 6.5,2.5 6.5,2.4 6.5,2.2 6.5,1.6 6.5,1.2 6.5,1.1 6.5,0.7 6.5,0.4 6.6,-0.1 6.5,-0.4 6.5,-0.7 6.5,-1.1 6.5,-1.4 6.5,-1.3 6.5,-0.9 6.5,-0.6 6.5,-0.3 6.6,-0.1 6.5,0.2 6.5,0.7 6.5,1.3" stroke="#907060"/>
<path d="M123.7,692.5l12.6,-1.3 12.7,-1.6 12.7,-1.8 12.6,-2.1 12.7,-2.7 12.7,-3.8 12.6,-6.5 12.7,-13.7 6.5,-8.7 6.5,-7.7 6.4,-7.7 6.5,-7.9 6.5,-7.8 6.5,-7.8 6.5,-7.8 6.4,-6.8 6.5,-6 6.5,-5.2 6.5,-3.7 6.5,-2.4 6.5,-1.1 6.4,-2.3 6.5,-3 6.5,-1.9 6.5,-1.5 6.5,-1.1 6.4,-0.3 6.5,0.4 6.5,0.8 6.5,1.8 6.5,2.3 6.4,2.6 6.5,2.4 6.5,2.1 6.5,1.5 6.5,1.2 6.5,0.9 6.4,0.6 6.5,0.3 6.5,-0.1 6.5,-0.3 6.5,-0.8 6.4,-1.1 6.5,-1.4 6.5,-1.3 6.5,-1 6.5,-0.7 6.4,-0.2 6.5,-0.2 6.5,0.1 6.5,0.6 6.5,1.4" stroke="#209840"/>
<path d="M122.4,694.1l12.8,-1.4 12.8,-1.6 12.8,-1.8 12.9,-2.1 12.8,-2.8 12.8,-4 12.9,-6.8 12.8,-14.5 6.5,-8.7 6.4,-7.7 6.5,-7.7 6.4,-7.8 6.5,-7.8 6.4,-7.8 6.5,-7.7 6.4,-6.8 6.5,-6 6.4,-5.3 6.5,-3.8 6.4,-2.4 6.5,-1.2 6.4,-1.9 6.5,-2.5 6.4,-1.6 6.5,-1.2 6.4,-0.9 6.5,-0.1 6.4,0.6 6.5,1 6.4,1.8 6.5,2.3 6.4,2.6 6.5,2.5 6.4,2.1 6.5,1.4 6.4,1.1 6.5,0.8 6.4,0.4 6.5,0.2 6.4,-0.1 6.5,-0.3 6.4,-0.7 6.5,-1.2 6.4,-1.4 6.5,-1.3 6.4,-1.1 6.5,-0.8 6.4,-0.2 6.5,-0.1 6.5,0 6.4,0.5 6.5,1.3" stroke="#108888"/>
<path d="M121,695.6l13,-1.4 13,-1.6 13,-1.8 13,-2.1 13,-2.9 13,-4.1 13,-7.3 13,-15.2 6.4,-8.7 6.4,-7.7 6.5,-7.7 6.4,-7.7 6.4,-7.8 6.4,-7.7 6.4,-7.7 6.5,-6.9 6.4,-6 6.4,-5.3 6.4,-3.8 6.5,-2.5 6.4,-1.2 6.4,-1.6 6.4,-2 6.4,-1.2 6.5,-1 6.4,-0.6 6.4,-0.1 6.4,0.8 6.4,1.2 6.5,1.9 6.4,2.3 6.4,2.7 6.4,2.5 6.5,2.1 6.4,1.2 6.4,1.1 6.4,0.6 6.4,0.3 6.5,0.1 6.4,-0.2 6.4,-0.2 6.4,-0.7 6.4,-1.2 6.5,-1.4 6.4,-1.3 6.4,-1.2 6.4,-0.8 6.5,-0.3 6.4,-0.1 6.4,0 6.4,0.4 6.4,1.3" stroke="#2068c0"/>
<path d="M119.7,697.2l13.2,-1.4 13.1,-1.7 13.2,-1.8 13.2,-2.1 13.1,-3 13.2,-4.3 13.1,-7.6 13.2,-16.1 6.4,-8.7 6.4,-7.6 6.4,-7.6 6.4,-7.7 6.4,-7.8 6.3,-7.7 6.4,-7.7 6.4,-6.8 6.4,-6 6.4,-5.3 6.4,-3.9 6.4,-2.6 6.4,-1.3 6.4,-1.2 6.4,-1.5 6.4,-0.9 6.4,-0.7 6.3,-0.4 6.4,0.1 6.4,1 6.4,1.3 6.4,2 6.4,2.3 6.4,2.7 6.4,2.6 6.4,2 6.4,1.2 6.4,0.9 6.3,0.6 6.4,0.1 6.4,0 6.4,-0.2 6.4,-0.2 6.4,-0.7 6.4,-1.3 6.4,-1.3 6.4,-1.3 6.4,-1.3 6.4,-0.9 6.4,-0.2 6.3,-0.2 6.4,-0.1 6.4,0.4 6.4,1.2" stroke="#2050b0"/>
<path d="M118.4,698.7l13.3,-1.4 13.3,-1.6 13.4,-1.9 13.3,-2.2 13.3,-2.9 13.4,-4.5 13.3,-8 13.3,-16.9 6.4,-8.7 6.3,-7.6 6.4,-7.6 6.3,-7.7 6.4,-7.7 6.4,-7.6 6.3,-7.7 6.4,-6.8 6.4,-6.1 6.3,-5.3 6.4,-3.9 6.3,-2.7 6.4,-1.3 6.4,-1 6.3,-0.8 6.4,-0.6 6.3,-0.5 6.4,-0.2 6.4,0.3 6.3,1.1 6.4,1.5 6.4,2.1 6.3,2.3 6.4,2.8 6.3,2.6 6.4,2 6.4,1.1 6.3,0.8 6.4,0.4 6.3,0 6.4,-0.1 6.4,-0.2 6.3,-0.2 6.4,-0.7 6.3,-1.3 6.4,-1.3 6.4,-1.3 6.3,-1.4 6.4,-0.9 6.4,-0.3 6.3,-0.2 6.4,-0.1 6.3,0.3 6.4,1.2" stroke="#000000"/>
<path d="M117.6,699.6l13.4,-1.3 13.4,-1.6 13.5,-1.8 13.4,-2.2 13.4,-2.9 13.5,-4.6 13.4,-8.5 13.4,-17.9 6.2,-8.5 6.1,-7.3 6.2,-7.4 6.1,-7.4 6.2,-7.4 6.2,-7.5 6.1,-7.5 6.2,-6.8 6.1,-6 6.2,-5.4 6.2,-4.3 6.1,-3 6.2,-1.9 6.1,-1.3 6.2,-0.1 6.1,0.2 6.2,0.3 6.2,0.4 6.1,0.7 6.2,1.4 6.1,1.8 6.2,1.9 6.2,2.1 6.1,2.6 6.2,2.8 6.1,2.4 6.2,2 6.2,1.4 6.1,-0.1 6.2,-0.4 6.1,-0.5 6.2,-0.6 6.1,-0.7 6.2,-0.8 6.2,-1.3 6.1,-1.7 6.2,-1.5 6.1,-1.1 6.2,-0.3 6.2,1.2 6.1,2.1 6.2,2.4 6.1,2.9 6.2,3.7" stroke="#f01010"/>
<path d="M116.8,700.6l13.5,-1.3 13.5,-1.6 13.6,-1.8 13.5,-2.2 13.5,-3 13.6,-4.7 13.5,-8.7 13.5,-18.7 6.2,-8.4 6.2,-7.4 6.1,-7.4 6.2,-7.4 6.2,-7.5 6.2,-7.4 6.2,-7.6 6.2,-6.8 6.1,-6 6.2,-5.4 6.2,-4.2 6.2,-3 6.2,-1.9 6.1,-1.2 6.2,-0.1 6.2,0.3 6.2,0.5 6.2,0.5 6.2,0.9 6.1,1.5 6.2,1.8 6.2,1.9 6.2,2.2 6.2,2.5 6.1,2.6 6.2,2.2 6.2,1.8 6.2,1.1 6.2,-0.1 6.2,-0.4 6.1,-0.5 6.2,-0.7 6.2,-0.7 6.2,-0.9 6.2,-1.4 6.1,-1.6 6.2,-1.4 6.2,-1 6.2,-0.2 6.2,1 6.2,1.8 6.1,1.8 6.2,2.2 6.2,2.6" stroke="#ff00ff"/>
<path d="M116,701.5l13.6,-1.4 13.6,-1.6 13.7,-1.8 13.6,-2.2 13.6,-3 13.7,-4.8 13.6,-9 13.6,-19.5 6.2,-8.3 6.2,-7.4 6.2,-7.4 6.2,-7.5 6.2,-7.5 6.2,-7.4 6.2,-7.6 6.2,-6.8 6.2,-6 6.2,-5.4 6.2,-4.2 6.3,-3 6.2,-1.8 6.2,-1.1 6.2,0 6.2,0.3 6.2,0.6 6.2,0.8 6.2,1 6.2,1.6 6.2,1.8 6.2,1.9 6.2,2.2 6.2,2.6 6.2,2.4 6.2,2 6.2,1.5 6.2,0.9 6.2,-0.2 6.2,-0.4 6.2,-0.6 6.2,-0.7 6.3,-0.8 6.2,-0.9 6.2,-1.4 6.2,-1.6 6.2,-1.4 6.2,-0.8 6.2,-0.1 6.2,0.9 6.2,1.3 6.2,1.3 6.2,1.4 6.2,1.7" stroke="#3030e0"/>
<path d="M115.2,702.5l13.7,-1.3 13.7,-1.6 13.8,-1.8 13.7,-2.2 13.7,-3.1 13.8,-4.9 13.7,-9.2 13.7,-20.4 6.2,-8.1 6.3,-7.4 6.2,-7.5 6.2,-7.5 6.2,-7.5 6.3,-7.5 6.2,-7.6 6.2,-6.8 6.2,-6.1 6.3,-5.3 6.2,-4.2 6.2,-2.9 6.3,-1.8 6.2,-1 6.2,0 6.2,0.4 6.3,0.8 6.2,0.9 6.2,1.2 6.2,1.6 6.3,1.9 6.2,2 6.2,2.2 6.3,2.5 6.2,2.3 6.2,1.7 6.2,1.4 6.3,0.5 6.2,-0.2 6.2,-0.5 6.2,-0.6 6.3,-0.7 6.2,-0.8 6.2,-1 6.3,-1.4 6.2,-1.6 6.2,-1.3 6.2,-0.7 6.3,0 6.2,0.7 6.2,1 6.2,0.7 6.3,0.6 6.2,0.7" stroke="#8020c0"/>
<path d="M114.4,703.5l13.8,-1.3 13.8,-1.7 13.9,-1.8 13.8,-2.2 13.8,-3.1 13.9,-5 13.8,-9.5 13.8,-21.1 6.2,-8.1 6.3,-7.4 6.3,-7.5 6.2,-7.5 6.2,-7.6 6.3,-7.5 6.3,-7.6 6.2,-6.8 6.2,-6.1 6.3,-5.3 6.3,-4.1 6.2,-2.9 6.2,-1.8 6.3,-0.9 6.3,0 6.2,0.6 6.2,0.9 6.3,1.1 6.3,1.3 6.2,1.7 6.2,1.9 6.3,2 6.3,2.2 6.2,2.5 6.2,2.1 6.3,1.5 6.3,1.2 6.2,0.3 6.2,-0.3 6.3,-0.5 6.3,-0.7 6.2,-0.8 6.2,-0.7 6.3,-1.1 6.3,-1.5 6.2,-1.5 6.2,-1.2 6.3,-0.7 6.3,0.2 6.2,0.6 6.2,0.6 6.3,0.1 6.3,-0.1 6.2,-0.4" stroke="#a03030"/>
<path d="M113.6,704.4l13.9,-1.3 13.9,-1.5 14,-1.8 13.9,-2.2 13.9,-3.1 14,-4.9 13.9,-9 13.9,-19.6 6.1,-7.9 6.2,-7.5 6.1,-7.4 6.1,-7.2 6.2,-7 6.1,-6.9 6.1,-7.4 6.2,-6.8 6.1,-6.2 6.1,-4.8 6.1,-3.7 6.2,-2.6 6.1,-2 6.1,-1 6.2,-0.2 6.1,0.4 6.1,1.1 6.2,1.3 6.1,1.7 6.1,2.5 6.2,2.7 6.1,2.8 6.1,2.5 6.2,2.7 6.1,2.6 6.1,2 6.2,1.1 6.1,0.9 6.1,0.4 6.2,0 6.1,-0.7 6.1,-1 6.2,-1.3 6.1,-1.3 6.1,-1.8 6.1,-2.2 6.2,-2 6.1,-1.4 6.1,-1.2 6.2,-1 6.1,-0.5 6.1,0.8 6.2,2.5 6.1,3.5" stroke="#2060b8"/>
<path d="M112.7,705.4l14,-1.2 14.1,-1.6 14,-1.7 14,-2.2 14.1,-3.1 14,-4.9 14.1,-9 14,-19.7 6.1,-7.9 6.2,-7.6 6.1,-7.3 6.2,-6.8 6.1,-6.7 6.2,-6.6 6.1,-6.8 6.1,-6.2 6.2,-5.3 6.1,-3.9 6.2,-2.7 6.1,-1.8 6.2,-0.5 6.1,0.3 6.1,0.9 6.2,1.2 6.1,1.8 6.2,2.8 6.1,3.3 6.2,3.1 6.1,2.9 6.2,2.9 6.1,2.9 6.1,2.6 6.2,2.3 6.1,2.2 6.2,2.1 6.1,1.8 6.2,1.4 6.1,1 6.1,0.8 6.2,0.6 6.1,0.1 6.2,-0.6 6.1,-1.1 6.2,-1.4 6.1,-1.5 6.1,-1.5 6.2,-1.6 6.1,-1.8 6.2,-1.9 6.1,-1.8 6.2,-1.7 6.1,-1.7" stroke="#209090"/>
<path d="M110.9,707.5l14.3,-1.3 14.2,-1.7 14.3,-1.9 14.3,-2.4 14.2,-3.3 14.3,-5.3 14.2,-9.8 14.3,-19.6 6.1,-7.9 6.1,-7.6 6.2,-7.2 6.1,-6.9 6.1,-6.6 6.1,-6.5 6.2,-6.7 6.1,-5.9 6.1,-5.2 6.1,-3.7 6.1,-2.4 6.2,-1.5 6.1,-0.4 6.1,0.3 6.1,0.9 6.2,1.3 6.1,1.8 6.1,2.7 6.1,3.2 6.1,3.1 6.2,2.9 6.1,2.9 6.1,2.9 6.1,2.6 6.2,2.2 6.1,2.2 6.1,2.1 6.1,1.8 6.1,1.4 6.2,0.9 6.1,0.8 6.1,0.6 6.1,0.1 6.2,-0.5 6.1,-1 6.1,-1.3 6.1,-1.5 6.1,-1.4 6.2,-1.6 6.1,-1.7 6.1,-1.8 6.1,-1.8 6.2,-1.7 6.1,-1.6" stroke="#40a030"/>
<path d="M109.1,709.6l14.5,-1.4 14.5,-1.8 14.5,-2.1 14.4,-2.6 14.5,-3.6 14.5,-5.5 14.5,-10.7 14.5,-19.4 6.1,-8 6.1,-7.6 6.1,-7.2 6.1,-6.8 6.1,-6.6 6.1,-6.4 6.1,-6.5 6.1,-5.8 6.1,-4.9 6.1,-3.5 6.1,-2.2 6.1,-1.2 6.1,-0.3 6.1,0.3 6.1,0.9 6.1,1.3 6.1,1.8 6.1,2.7 6.1,3.2 6.1,3.1 6.1,2.8 6.1,2.9 6.1,2.8 6.1,2.6 6.1,2.3 6.1,2.2 6.1,2 6.1,1.8 6.1,1.4 6.1,0.9 6.1,0.8 6.1,0.5 6.1,0.1 6.1,-0.4 6.1,-0.9 6.1,-1.3 6.1,-1.4 6.1,-1.4 6.1,-1.4 6.1,-1.7 6.1,-1.8 6.1,-1.7 6.1,-1.6 6.1,-1.7" stroke="#20b848"/>
<path d="M107.3,711.8l14.7,-1.6 14.7,-1.9 14.7,-2.2 14.8,-2.8 14.7,-3.9 14.7,-5.9 14.7,-11.5 14.7,-19.2 6.1,-8.1 6.1,-7.6 6,-7.1 6.1,-6.9 6.1,-6.5 6.1,-6.4 6.1,-6.3 6,-5.5 6.1,-4.8 6.1,-3.2 6.1,-2 6.1,-0.9 6,-0.3 6.1,0.4 6.1,1 6.1,1.3 6.1,1.8 6,2.6 6.1,3.1 6.1,3.1 6.1,2.8 6.1,2.8 6,2.9 6.1,2.6 6.1,2.3 6.1,2.1 6.1,2 6,1.8 6.1,1.4 6.1,0.9 6.1,0.7 6.1,0.5 6,0.2 6.1,-0.4 6.1,-0.8 6.1,-1.2 6.1,-1.4 6,-1.3 6.1,-1.4 6.1,-1.6 6.1,-1.7 6.1,-1.7 6,-1.6 6.1,-1.6" stroke="#e02060"/>
<path d="M105.5,713.9l14.9,-1.6 15,-2.1 14.9,-2.4 14.9,-3 15,-4.1 14.9,-6.3 15,-12.2 14.9,-19.2 6.1,-8.1 6,-7.6 6.1,-7.1 6,-6.8 6.1,-6.5 6.1,-6.3 6,-6.1 6.1,-5.4 6,-4.6 6.1,-3 6,-1.7 6.1,-0.6 6.1,-0.2 6,0.4 6.1,1 6,1.4 6.1,1.7 6.1,2.6 6,3 6.1,3.1 6,2.8 6.1,2.8 6.1,2.9 6,2.6 6.1,2.2 6,2.1 6.1,2 6.1,1.8 6,1.4 6.1,0.8 6,0.7 6.1,0.5 6.1,0.2 6,-0.3 6.1,-0.8 6,-1.1 6.1,-1.3 6,-1.2 6.1,-1.4 6.1,-1.5 6,-1.6 6.1,-1.7 6,-1.5 6.1,-1.6" stroke="#00b8d0"/>
<path d="M104.7,714.8l15,-1.5 15.1,-2 15,-2.4 15,-3 15.1,-4.1 15,-6.4 15.1,-12.6 15,-19.3 6,-8.4 6.1,-7.6 6,-7 6.1,-6.8 6,-6.5 6.1,-6.2 6,-6 6.1,-5.2 6,-4.2 6.1,-3 6,-1.9 6,-0.5 6.1,-0.2 6,0.5 6.1,1.2 6,1.5 6.1,1.9 6,2.8 6.1,3.2 6,3.3 6.1,3 6,3.1 6,3 6.1,2.9 6,2.6 6.1,2.4 6,2.4 6.1,2.1 6,1.8 6.1,1.3 6,1 6.1,0.8 6,0.2 6,-0.4 6.1,-0.9 6,-1.2 6.1,-1.3 6,-1.3 6.1,-1.4 6,-1.8 6.1,-1.8 6,-1.6 6.1,-1.4 6,-1.1" stroke="#404098"/>
<path d="M103.9,715.8l15.1,-1.5 15.2,-2 15.1,-2.3 15.1,-3 15.2,-4.1 15.1,-6.5 15.2,-13 15.1,-19.4 6,-8.8 6,-7.4 6,-7 5.9,-6.8 6,-6.4 6,-6 6,-5.9 6,-5 6,-3.9 6,-3 5.9,-2.2 6,-0.6 6,-0.2 6,0.6 6,1.5 6,1.8 6,2.1 6,2.6 5.9,2.6 6,2.9 6,3.1 6,3.1 6,3 6,3.1 6,3.1 5.9,3.1 6,2.7 6,2.5 6,2.4 6,1.8 6,1.2 6,1 6,0.5 5.9,-0.2 6,-0.6 6,-1 6,-1.2 6,-1.3 6,-1.2 6,-1.5 5.9,-1.8 6,-2 6,-2.2 6,-2.5" stroke="#88a828"/>
<path d="M103,717l2.9,-0.3 2.9,-0.4 2.2,-0.2 0.7,-0.1 2.9,-0.4 2.9,-0.3 1.6,-0.3 1.2,-0.1 2.9,-0.4 2.9,-0.4 1,-0.2 1.9,-0.2 2.9,-0.5 2.9,-0.4 0.3,0 2.6,-0.4 5.4,-0.9 8.1,-1.3 8,-1.5 8,-1.7 8.1,-2.2 8,-2.7 8,-3.6 8.1,-4.2 8,-4.5 8,-5 8,-5.5 8.1,-5.8 8,-5.5 8,-5.1 8.1,-4.6 8,-4.2 8,-3 8,-2.3 8.1,-1 8,-0.5 8,-0.1 8.1,0.5 8,0.8 8,1 8,1.3 8.1,1.4 8,1.5 8,1.6 8.1,1.8 8,2 8,1.7 8,1.6 8.1,1 8,0 8,-0.2 8.1,-0.6 8,-1.4 8,-2 8.1,-2.8 8,-4 8,-4.4 8,-4.2 8.1,-4.2 8,-4.3" stroke="#8c8c8c"/>
<path d="M102.2,718l2.9,-0.3 2.9,-0.3 2.2,-0.2 0.7,-0.1 2.9,-0.3 2.9,-0.3 1.6,-0.2 1.2,-0.1 2.9,-0.4 2.9,-0.3 1,-0.2 1.9,-0.2 2.9,-0.4 2.9,-0.4 0.3,0 2.6,-0.4 5.4,-0.7 8.1,-1.2 8,-1.3 8,-1.5 8.1,-1.7 8,-2.2 8,-2.5 8.1,-3 8,-3.5 8,-4.4 8,-4.6 8.1,-3.5 8,-2.9 8,-2.4 8.1,-1.8 8,-1.1 8,-0.7 8,-0.4 8.1,0.1 8,0.2 8,0.4 8.1,0.4 8,0.4 8,0.3 8,0.4 8.1,0.4 8,0.2 8,-0.1 8.1,-0.6 8,-0.8 8,-0.8 8,-1.1 8.1,-1.4 8,-1.9 8,-2.2 8.1,-2.7 8,-3 8,-2.9 8.1,-3 8,-3 8,-3.2 8,-3.4 8.1,-3.5 8,-3.7" stroke="#9a4a3a"/>
<path d="M101.4,719l2.9,-0.2 2.9,-0.3 2.2,-0.2 0.7,0 2.9,-0.3 2.9,-0.3 1.6,-0.1 1.2,-0.2 2.9,-0.3 2.9,-0.3 1,-0.1 1.9,-0.2 2.9,-0.3 2.9,-0.4 0.3,0 2.6,-0.3 5.4,-0.7 8.1,-1.1 8,-1.1 8,-1.3 8.1,-1.5 8,-1.6 8,-1.9 8.1,-2 8,-2.5 8,-2.9 8,-3.9 8.1,-3.8 8,-2.2 8,-1.5 8.1,-0.9 8,-0.5 8,-0.3 8,-0.3 8.1,-0.3 8,-0.2 8,0 8.1,0 8,0 8,0 8,0 8.1,-0.1 8,-0.2 8,-0.2 8.1,-0.4 8,-0.6 8,-0.9 8,-1.1 8.1,-1.3 8,-1.5 8,-1.7 8.1,-1.9 8,-2.1 8,-2.4 8.1,-2.5 8,-2.9 8,-3.2 8,-3.6 8.1,-5 8,-9.4" stroke="#2e8b57"/>
<path d="M100.6,720l2.9,-0.2 2.9,-0.2 2.2,-0.2 0.7,-0.1 2.9,-0.2 2.9,-0.3 1.6,-0.1 1.2,-0.2 2.9,-0.2 2.9,-0.3 1,-0.1 1.9,-0.2 2.9,-0.3 2.9,-0.3 0.3,-0.1 2.6,-0.2 5.4,-0.6 8.1,-1 8,-1.1 8,-1.1 8.1,-1.4 8,-1.6 8,-2.3 8.1,-2.9 8,-3 8,-3.1 8,-3.3 8.1,-2.9 8,-1.7 8,-1.2 8.1,-0.6 8,-0.2 8,-0.2 8,0 8.1,0.2 8,0.4 8,0.3 8.1,0.4 8,0.4 8,0.3 8,0.2 8.1,0 8,0 8,-0.1 8.1,-0.2 8,-0.6 8,-0.8 8,-0.9 8.1,-1.1 8,-1.3 8,-1.5 8.1,-1.9 8,-2.1 8,-2.3 8.1,-2.7 8,-3 8,-3.6 8,-4.2 8.1,-5.7 8,-11.3" stroke="#108888"/>
<path d="M99.8,721l2.9,-0.2 2.9,-0.2 2.2,-0.2 0.7,0 2.9,-0.3 2.9,-0.2 1.6,-0.1 1.2,-0.1 2.9,-0.3 2.9,-0.2 1,-0.1 1.9,-0.2 2.9,-0.3 2.9,-0.3 0.3,0 2.6,-0.2 5.4,-0.6 8.1,-0.8 8,-1 8,-1.1 8.1,-1.2 8,-1.5 8,-2.8 8,-3.7 8.1,-3.7 8,-3.3 8,-2.6 8.1,-1.9 8,-1.3 8,-0.9 8.1,-0.2 8,0 8,0 8,0.2 8.1,0.7 8,0.9 8,0.7 8.1,0.8 8,0.7 8,0.6 8,0.4 8.1,0.2 8,0.2 8,0.1 8.1,-0.1 8,-0.5 8,-0.7 8,-0.8 8.1,-0.9 8,-1.2 8,-1.3 8.1,-1.7 8,-2.1 8,-2.3 8.1,-2.8 8,-3.2 8,-3.9 8,-4.9 8.1,-6.4 8,-13.2" stroke="#2058c0"/>
<path d="M15.3,824l2.9,-0.8 2.9,-0.7 2.3,-0.6 0.6,-0.2 2.9,-0.7 2.9,-0.7 1.6,-0.4 1.3,-0.3 2.9,-0.6 2.9,-0.5 1,-0.1 1.9,-0.3 2.9,-0.3 2.9,-0.4 0.3,0 2.6,-0.3 5.5,-0.5 8,-0.4 8.1,0.1 8,0.4 8.1,0.6 8,1.5 8.1,2 8,1.5 8.1,1.1 8,1 8.1,0.8 8,0.8 8.1,0.7 8,0.6 8.1,0.5 8,0.5 8.1,0.5 8,0.4 8.1,0.3 8.1,0.3 8,0.3 8.1,0.3 8,0.2 8.1,0.1 8,0.1 8.1,0 8,-0.1 8.1,-0.1 8,-0.2 8.1,-0.1 8,-0.2 8.1,-0.2 8,-0.3 8.1,-0.4 8,-0.4 8.1,-0.5 8,-0.4 8.1,-0.6 8,-0.5 8.1,-0.7 8,-0.8 8.1,-1.3 8,-2 8.1,-3" stroke="#e02070"/>
<path d="M14.5,834.6l2.9,2.1 2.9,-0.1 2.3,-0.7 0.6,-0.3 2.9,-0.5 2.9,-0.3 1.6,-0.1 1.3,-0.1 2.9,-0.2 2.9,-0.1 1,0 1.9,-0.1 2.9,-0.1 2.9,-0.2 0.3,0 2.6,-0.1 5.5,-0.1 8,-0.1 8.1,0.1 8,0.3 8.1,0.3 8,0.3 8.1,0.3 8,0.4 8.1,0.4 8,0.5 8.1,0.4 8,0.5 8.1,0.4 8,0.4 8.1,0.4 8,0.4 8.1,0.4 8,0.4 8.1,0.4 8.1,0.3 8,0.4 8.1,0.2 8,0.2 8.1,0.3 8,0.2 8.1,0.2 8,0.2 8.1,0.1 8,0.2 8.1,0 8,0.1 8.1,0 8,0 8.1,-0.1 8,-0.1 8.1,-0.3 8,-1.1 8.1,-1.4 8,-1.5 8.1,-1.8 8,-2.2 8.1,-2.8 8,-4.2 8.1,-5.3" stroke="#10b8c8"/>
</g>
<g fill="none" stroke-width="1.25" stroke-linejoin="round">
<path d="M99,722.7l2.9,-1.8 2.9,0.6 2.2,0.3 0.7,-1.6 2.9,0.8 2.9,-0.3 1.6,-1.6 1.3,2.2 2.8,-0.7 2.9,-1 1,0.2 1.9,0 2.9,-0.5 2.9,-0.2 0.3,-0.1 2.6,-0.2 5.5,-0.6 8,-1 8,-1 8.1,-1.2 8,-1.4 8,-1.7 8.1,-2.5 8,-3.5 8,-3.8 8.1,-3.2 8,-2.2 8,-1.4 8.1,-1.1 8,-0.8 8,-0.1 8.1,0 8,0.1 8,0.3 8.1,0.7 8,1 8,0.9 8.1,0.8 8,0.8 8,0.7 8.1,0.6 8,0.3 8,0.3 8.1,0.1 8,-0.2 8,-0.5 8.1,-0.8 8,-0.8 8,-1.2 8.1,-1.4 8,-1.7 8.1,-2.2 8,-2.4 8,-2.5 8.1,-2.8 8,-3.4 8,-4.1 8.1,-5 8,-6.6 8,-11.7" stroke="#101010"/>
<path d="M98.2,721.7l2.9,0.6 2.9,2.3 2.2,-3.1 0.7,-0.7 2.9,-0.4 2.9,0 1.6,0.6 1.3,-0.8 2.9,1.6 2.9,-1.4 0.9,0.1 2,0.3 2.8,-0.6 2.9,-0.6 0.4,0 2.5,-0.3 5.5,-0.6 8,-1.1 8.1,-1.2 8,-1.3 8.1,-1.5 8,-1.7 8,-2.4 8.1,-3.1 8,-3.4 8.1,-2.9 8,-2 8,-1.3 8.1,-1 8,-0.8 8.1,-0.2 8,0 8,0.2 8.1,0.3 8,0.8 8.1,1 8,0.9 8,0.8 8.1,0.9 8,0.8 8.1,0.6 8,0.5 8,0.4 8.1,0 8,-0.2 8.1,-0.6 8,-0.8 8,-0.9 8.1,-1.4 8,-1.7 8.1,-2 8,-2.5 8,-2.7 8.1,-2.6 8,-2.9 8.1,-3.3 8,-4.2 8,-5.2 8.1,-6.6 8,-10.7" stroke="#f01818"/>
<path d="M97.4,723.8l2.9,-0.4 2.9,-0.6 2.2,0.9 0.7,-0.4 2.9,-0.5 2.9,0.2 1.6,-0.8 1.3,-0.9 2.9,-0.1 2.9,-0.3 0.9,0.2 2,-0.7 2.9,-0.3 2.9,0 0.3,0 2.6,-0.3 5.4,-0.7 8.1,-1.1 8,-1.3 8.1,-1.4 8,-1.6 8.1,-1.9 8,-2.2 8.1,-2.7 8,-2.8 8.1,-2.5 8,-2 8,-1.4 8.1,-1 8,-0.7 8.1,-0.4 8,0.1 8.1,0.2 8,0.4 8.1,0.7 8,1 8.1,1 8,0.8 8.1,0.8 8,0.9 8.1,0.8 8,0.6 8.1,0.3 8,0.1 8,-0.3 8.1,-0.7 8,-0.7 8.1,-1.1 8,-1.6 8.1,-1.8 8,-2.3 8.1,-2.8 8,-2.8 8.1,-2.8 8,-2.8 8.1,-3.5 8,-4.2 8.1,-5.3 8,-6.6 8,-9.7" stroke="#ff10f0"/>
<path d="M96.6,724.9l2.9,-0.7 2.9,-3.1 2.3,0.6 0.6,2.6 2.9,-1.5 2.9,1.1 1.6,-1 1.3,-1 2.9,0.9 2.9,-1.4 1,-0.6 1.9,1.4 2.9,-1.5 2.9,0.1 0.3,-0.1 2.6,-0.3 5.5,-0.8 8,-1.2 8.1,-1.4 8,-1.5 8.1,-1.7 8,-2 8.1,-2 8,-2.3 8.1,-2.4 8,-2.2 8.1,-1.9 8,-1.4 8.1,-1 8,-0.7 8.1,-0.4 8,0.1 8.1,0.2 8,0.4 8.1,0.7 8,1 8.1,1 8.1,0.9 8,0.8 8.1,0.9 8,0.8 8.1,0.7 8,0.4 8.1,0.1 8,-0.4 8.1,-0.6 8,-0.8 8.1,-1.1 8,-1.7 8.1,-2.1 8,-2.5 8.1,-3 8,-3 8.1,-2.9 8,-2.9 8.1,-3.4 8,-4.4 8.1,-5.4 8,-6.7 8.1,-8.6" stroke="#b020e0"/>
<path d="M95.8,725.5l2.9,-2.4 2.9,3.3 2.3,-2.8 0.6,0.5 2.9,-1.7 2.9,1 1.6,-0.2 1.3,-0.1 2.9,0.1 2.9,-0.6 1,0.3 1.9,-0.9 2.9,-0.4 2.9,-0.2 0.3,0 2.6,-0.4 5.5,-0.8 8,-1.3 8.1,-1.5 8,-1.6 8.1,-1.9 8.1,-2 8,-1.9 8.1,-1.9 8,-2.1 8.1,-2.1 8,-1.7 8.1,-1.4 8,-0.8 8.1,-0.8 8.1,-0.3 8,0.1 8.1,0.3 8,0.4 8.1,0.7 8,1 8.1,1.1 8,0.9 8.1,0.8 8.1,0.9 8,0.9 8.1,0.7 8,0.4 8.1,0.1 8,-0.4 8.1,-0.6 8.1,-0.8 8,-1.2 8.1,-1.7 8,-2.1 8.1,-2.7 8,-3.2 8.1,-3.3 8,-3 8.1,-2.9 8.1,-3.5 8,-4.6 8.1,-5.5 8,-6.8 8.1,-7.4" stroke="#8a20d0"/>
<path d="M95,726l2.9,-0.4 2.9,1.8 2.3,-3.8 0.6,-0.4 2.9,0.9 2.9,-0.8 1.6,2.1 1.3,-1.1 2.9,-1.2 2.9,-0.1 1,1.5 1.9,-1.8 2.9,-0.3 2.9,-0.2 0.3,-0.1 2.6,-0.4 5.5,-0.8 8,-1.4 8.1,-1.6 8.1,-1.7 8,-2 8.1,-2.2 8,-1.7 8.1,-1.6 8.1,-1.9 8,-1.9 8.1,-1.6 8,-1.2 8.1,-0.9 8.1,-0.6 8,-0.4 8.1,0.2 8,0.3 8.1,0.5 8.1,0.7 8,1 8.1,1.1 8,0.9 8.1,0.9 8,0.9 8.1,0.9 8.1,0.7 8,0.5 8.1,0 8,-0.3 8.1,-0.7 8.1,-0.7 8,-1.2 8.1,-1.8 8,-2.2 8.1,-2.8 8.1,-3.4 8,-3.4 8.1,-3.1 8,-2.9 8.1,-3.6 8,-4.7 8.1,-5.6 8.1,-6.9 8,-6.3" stroke="#7028c0"/>
<path d="M94.2,727l2.9,0.4 2.9,-1.9 2.3,-2.3 0.6,3.5 2.9,-2.8 2.9,1.5 1.6,1.2 1.3,-1.7 2.9,-1.2 2.9,-0.3 1,1.1 1.9,-0.8 2.9,-0.3 2.9,-0.5 0.3,-0.1 2.6,-0.4 5.5,-0.9 8.1,-1.4 8,-1.7 8.1,-1.8 8,-2.1 8.1,-2.2 8.1,-1.6 8,-1.3 8.1,-1.7 8.1,-1.8 8,-1.5 8.1,-1.1 8,-0.8 8.1,-0.6 8.1,-0.3 8,0.2 8.1,0.4 8,0.4 8.1,0.8 8.1,1 8,1.1 8.1,1 8.1,0.8 8,1 8.1,0.9 8,0.7 8.1,0.5 8.1,0 8,-0.3 8.1,-0.6 8,-0.8 8.1,-1.2 8.1,-1.8 8,-2.2 8.1,-2.9 8.1,-3.5 8,-3.6 8.1,-3.1 8,-3 8.1,-3.6 8.1,-4.7 8,-5.8 8.1,-6.9 8,-5.5" stroke="#3838b0"/>
<path d="M93.4,727.9l2.9,-1.4 2.9,0.2 2.3,-0.7 0.6,2 2.9,-1.6 2.9,0.2 1.6,-0.3 1.3,-1.2 2.9,0.6 2.9,-0.6 1,-0.2 1.9,-0.5 2.9,-0.4 2.9,-0.3 0.3,0 2.6,-0.5 5.5,-1 8.1,-1.5 8,-1.7 8.1,-1.9 8.1,-2.2 8,-2.3 8.1,-1.4 8.1,-1.1 8,-1.6 8.1,-1.6 8,-1.4 8.1,-1.1 8.1,-0.7 8,-0.5 8.1,-0.3 8.1,0.2 8,0.5 8.1,0.5 8,0.8 8.1,1 8.1,1.1 8,1 8.1,0.8 8.1,1 8,0.9 8.1,0.8 8.1,0.5 8,0 8.1,-0.3 8,-0.6 8.1,-0.8 8.1,-1.2 8,-1.8 8.1,-2.3 8.1,-2.9 8,-3.6 8.1,-3.7 8.1,-3.2 8,-2.9 8.1,-3.6 8,-4.8 8.1,-5.8 8.1,-6.9 8,-4.9" stroke="#8a8a20"/>
<path d="M92.6,728.6l2.9,0.1 2.9,-1.5 2.3,1.6 0.6,0.2 2.9,-2.2 2.9,-1.2 1.6,1.8 1.3,0.1 2.9,-1.4 2.9,-1 1,0.6 1.9,0.2 2.9,-1.4 2.9,-0.1 0.3,0 2.6,-0.5 5.5,-1 8.1,-1.6 8,-1.8 8.1,-1.9 8.1,-2.2 8,-2.3 8.1,-1.4 8.1,-0.9 8,-1.4 8.1,-1.6 8.1,-1.3 8,-1 8.1,-0.6 8.1,-0.5 8,-0.2 8.1,0.2 8,0.6 8.1,0.5 8.1,0.8 8,1 8.1,1.2 8.1,1 8,0.8 8.1,1 8.1,0.9 8,0.8 8.1,0.5 8.1,0 8,-0.3 8.1,-0.6 8.1,-0.7 8,-1.2 8.1,-1.8 8,-2.3 8.1,-3 8.1,-3.6 8,-3.7 8.1,-3.2 8.1,-3 8,-3.6 8.1,-4.8 8.1,-5.8 8,-6.9 8.1,-4.4" stroke="#3a9090"/>
<path d="M91.8,729.6l2.9,1 2.9,-2.8 2.2,1 0.7,-1.2 2.9,-0.6 2.9,1.5 1.6,-0.4 1.3,-2.2 2.9,0.4 2.9,0.5 1,0.2 1.9,-1.1 2.9,-0.2 2.9,-0.5 0.3,0.1 2.6,-0.6 5.5,-1.1 8.1,-1.6 8,-1.9 8.1,-1.9 8.1,-2.3 8,-2.3 8.1,-1.3 8.1,-0.8 8,-1.3 8.1,-1.5 8.1,-1.1 8,-0.9 8.1,-0.6 8.1,-0.4 8,-0.3 8.1,0.4 8.1,0.5 8,0.6 8.1,0.8 8.1,1.1 8,1.1 8.1,1 8.1,0.9 8,1 8.1,0.9 8.1,0.7 8,0.5 8.1,0.1 8.1,-0.3 8,-0.5 8.1,-0.8 8,-1.1 8.1,-1.9 8.1,-2.2 8,-3 8.1,-3.7 8.1,-3.7 8,-3.2 8.1,-2.9 8.1,-3.6 8,-4.8 8.1,-5.7 8.1,-7 8,-4" stroke="#a08060"/>
<path d="M91,730.8l2.9,1.2 2.9,-2.4 2.2,1.3 0.7,-2.5 2.9,1.5 2.9,-1.6 1.6,0.1 1.3,0.5 2.9,-0.9 2.9,-0.5 1,0.2 1.9,-0.4 2.9,-1 2.9,-0.2 0.3,-0.1 2.6,-0.5 5.5,-1.1 8.1,-1.8 8,-1.8 8.1,-2 8.1,-2.3 8,-2.3 8.1,-1.2 8.1,-0.8 8,-1.2 8.1,-1.3 8.1,-1.1 8,-0.8 8.1,-0.5 8.1,-0.4 8,-0.2 8.1,0.4 8.1,0.6 8,0.6 8.1,0.9 8.1,1 8,1.2 8.1,1 8.1,0.9 8,0.9 8.1,0.9 8.1,0.8 8,0.4 8.1,0.1 8.1,-0.3 8,-0.4 8.1,-0.7 8.1,-1.2 8,-1.8 8.1,-2.2 8.1,-3 8,-3.6 8.1,-3.7 8.1,-3.2 8,-2.9 8.1,-3.6 8.1,-4.7 8,-5.7 8.1,-6.9 8.1,-3.9" stroke="#40a040"/>
<path d="M90.2,731.7l2.9,0 2.9,-0.7 2.2,-0.6 0.7,-2.1 2.9,1.9 2.9,-1.5 1.6,0.8 1.3,0.1 2.9,-1.2 2.9,-0.5 1,0.8 1.9,-0.7 2.9,-0.7 2.9,-0.6 0.3,0.1 2.6,-0.5 5.5,-1.2 8.1,-1.8 8,-1.9 8.1,-2 8.1,-2.3 8,-2.3 8.1,-1.1 8.1,-0.7 8,-1.1 8.1,-1.3 8.1,-1 8,-0.8 8.1,-0.4 8.1,-0.3 8,-0.1 8.1,0.4 8.1,0.6 8,0.7 8.1,0.9 8.1,1 8,1.2 8.1,1 8.1,0.9 8,0.9 8.1,0.9 8.1,0.8 8,0.4 8.1,0.1 8.1,-0.2 8,-0.5 8.1,-0.6 8.1,-1.2 8,-1.8 8.1,-2.2 8.1,-2.9 8,-3.6 8.1,-3.6 8.1,-3.1 8,-2.9 8.1,-3.5 8.1,-4.7 8,-5.7 8.1,-6.8 8.1,-3.8" stroke="#2a8888"/>
<path d="M89.4,732.9l2.9,-1.9 2.9,2.3 2.2,-0.7 0.7,-2 2.9,-0.1 2.9,0.9 1.6,-0.9 1.3,-0.1 2.9,-1.7 2.9,1 1,-1 1.9,-0.7 2.9,0.1 2.9,-0.4 0.3,0 2.6,-0.6 5.5,-1.2 8.1,-1.9 8,-1.9 8.1,-2 8.1,-2.3 8,-2.3 8.1,-1.1 8.1,-0.7 8,-1 8.1,-1.2 8.1,-0.9 8,-0.7 8.1,-0.4 8.1,-0.2 8,-0.1 8.1,0.4 8.1,0.7 8,0.8 8.1,0.9 8.1,1 8,1.2 8.1,1 8.1,0.9 8,0.9 8.1,0.9 8.1,0.7 8,0.5 8.1,0.1 8.1,-0.2 8,-0.4 8.1,-0.7 8.1,-1.1 8,-1.7 8.1,-2.2 8,-2.8 8.1,-3.5 8.1,-3.6 8,-3.1 8.1,-2.8 8.1,-3.5 8,-4.6 8.1,-5.6 8.1,-6.7 8,-3.8" stroke="#e02868"/>
<path d="M88.6,733.3l2.9,-0.7 2.9,-0.5 2.2,1.2 0.7,-0.9 2.9,-0.9 2.9,0.9 1.6,-1 1.3,-0.7 2.9,-1 2.9,0.7 1,-0.3 1.9,-0.4 2.9,-0.6 2.9,-0.6 0.3,0 2.6,-0.5 5.5,-1.3 8.1,-1.9 8,-2 8.1,-2 8.1,-2.3 8,-2.2 8.1,-1.1 8.1,-0.7 8,-1 8.1,-1.1 8,-0.9 8.1,-0.6 8.1,-0.3 8,-0.2 8.1,0 8.1,0.5 8,0.8 8.1,0.7 8.1,0.9 8,1.1 8.1,1.2 8.1,1 8,0.9 8.1,0.9 8.1,0.8 8,0.7 8.1,0.5 8.1,0.1 8,-0.2 8.1,-0.3 8.1,-0.6 8,-1.1 8.1,-1.7 8.1,-2.1 8,-2.8 8.1,-3.4 8.1,-3.4 8,-3.1 8.1,-2.8 8.1,-3.4 8,-4.5 8.1,-5.5 8,-6.6 8.1,-3.9" stroke="#50a050"/>
<path d="M87.8,734.7l2.9,-0.7 2.9,-3 2.2,2.9 0.7,-0.8 2.9,0.9 2.9,0.5 1.6,-1.6 1.3,-1.1 2.9,0.1 2.9,-0.7 1,0.2 1.9,-1.3 2.9,-0.3 2.9,-0.4 0.3,0 2.6,-0.6 5.5,-1.3 8.1,-2 8,-1.9 8.1,-2.1 8,-2.2 8.1,-2.2 8.1,-1.1 8,-0.7 8.1,-0.9 8.1,-1.1 8,-0.8 8.1,-0.5 8.1,-0.3 8,-0.1 8.1,0 8.1,0.6 8,0.8 8.1,0.8 8.1,0.9 8,1 8.1,1.2 8,1.1 8.1,0.9 8.1,0.9 8,0.8 8.1,0.7 8.1,0.4 8,0.2 8.1,-0.2 8.1,-0.3 8,-0.6 8.1,-1.1 8.1,-1.6 8,-2 8.1,-2.7 8.1,-3.3 8,-3.3 8.1,-3 8,-2.8 8.1,-3.3 8.1,-4.4 8,-5.3 8.1,-6.6 8.1,-4.1" stroke="#989090"/>
<path d="M87,735.4l2.9,-2.2 2.9,1.1 2.2,0.3 0.7,-0.5 2.9,0.6 2.9,0.5 1.6,-0.8 1.3,-1.6 2.9,-0.7 2.9,-0.4 0.9,-0.3 2,0.1 2.9,-0.5 2.9,-0.6 0.3,-0.1 2.6,-0.6 5.5,-1.4 8,-2 8.1,-2 8.1,-2 8,-2.2 8.1,-2.1 8.1,-1.1 8,-0.7 8.1,-1 8.1,-1 8,-0.7 8.1,-0.5 8,-0.2 8.1,-0.1 8.1,0.1 8,0.6 8.1,0.9 8.1,0.8 8,0.9 8.1,1.1 8.1,1.2 8,1 8.1,1 8,0.8 8.1,0.8 8.1,0.6 8,0.5 8.1,0.1 8.1,-0.1 8,-0.3 8.1,-0.5 8.1,-1 8,-1.6 8.1,-1.9 8,-2.6 8.1,-3.2 8.1,-3.2 8,-2.9 8.1,-2.7 8.1,-3.3 8,-4.2 8.1,-5.2 8.1,-6.5 8,-4.4" stroke="#b09498"/>
<path d="M86.2,735.9l2.9,0.2 2.9,1.1 2.2,-0.5 0.7,-0.2 2.9,-1.8 2.9,-0.6 1.6,-0.3 1.3,0.6 2.9,0.6 2.9,-1.3 0.9,-0.2 2,-0.6 2.9,-1.4 2.9,-0.3 0.3,0 2.6,-0.6 5.5,-1.4 8,-2.1 8.1,-2 8.1,-2 8,-2.2 8.1,-2 8,-1.2 8.1,-0.7 8.1,-0.9 8,-1 8.1,-0.7 8.1,-0.4 8,-0.1 8.1,0 8,0.1 8.1,0.7 8.1,0.9 8,0.9 8.1,0.9 8.1,1 8,1.2 8.1,1.1 8,0.9 8.1,0.8 8.1,0.8 8,0.6 8.1,0.4 8.1,0.2 8,-0.1 8.1,-0.2 8,-0.5 8.1,-1 8.1,-1.5 8,-1.9 8.1,-2.4 8.1,-3.1 8,-3 8.1,-2.8 8,-2.7 8.1,-3.2 8.1,-4.1 8,-5.1 8.1,-6.4 8.1,-4.6" stroke="#8a9a28"/>
<path d="M85.3,736.8l2.9,1.4 3,-2.6 2.2,0.1 0.7,-1.1 2.9,0.6 2.9,0.2 1.6,-1.6 1.3,0.4 2.9,0.2 2.9,-1.1 0.9,-0.1 2,-0.1 2.9,-0.6 2.9,-0.3 0.3,-0.2 2.6,-0.5 5.5,-1.5 8,-2.1 8.1,-2 8,-2 8.1,-2.1 8.1,-2 8,-1.2 8.1,-0.8 8,-0.9 8.1,-0.9 8.1,-0.6 8,-0.4 8.1,0 8.1,0 8,0.2 8.1,0.7 8,0.9 8.1,1 8.1,0.9 8,1.1 8.1,1.1 8,1.1 8.1,0.9 8.1,0.9 8,0.6 8.1,0.6 8.1,0.5 8,0.2 8.1,-0.1 8,-0.2 8.1,-0.5 8.1,-0.9 8,-1.5 8.1,-1.7 8,-2.4 8.1,-2.8 8.1,-3 8,-2.6 8.1,-2.7 8,-3.1 8.1,-4 8.1,-4.9 8,-6.3 8.1,-4.9" stroke="#2a9098"/>
<path d="M84.5,739.1l2.9,1.3 2.9,-0.6 2.3,-5.5 0.6,2.6 2.9,-3.7 2.9,3.8 1.7,-0.9 1.3,-0.2 2.9,-0.6 2.9,0.2 0.9,-1 2,0.1 2.9,-0.8 2.9,-0.7 0.3,-0.1 2.6,-0.7 5.4,-1.4 8.1,-2.2 8.1,-2 8,-2 8.1,-2 8,-2 8.1,-1.1 8.1,-0.9 8,-0.9 8.1,-0.9 8,-0.6 8.1,-0.3 8.1,0.1 8,0 8.1,0.3 8,0.7 8.1,1 8.1,1 8,1 8.1,1 8,1.2 8.1,1 8.1,1 8,0.8 8.1,0.6 8,0.6 8.1,0.4 8.1,0.2 8,0 8.1,-0.2 8,-0.4 8.1,-0.9 8.1,-1.4 8,-1.7 8.1,-2.2 8,-2.7 8.1,-2.8 8.1,-2.6 8,-2.6 8.1,-3 8,-3.9 8.1,-4.7 8.1,-6.1 8,-5.4" stroke="#608858"/>
<path d="M83.7,738.4l2.9,1.4 2.9,-1.1 2.3,-0.8 0.6,-0.6 2.9,0.6 2.9,-0.4 1.7,-0.2 1.2,-1 2.9,0.5 2.9,-1.7 1,1.1 1.9,-2.1 2.9,0.4 2.9,-0.6 0.4,0 2.6,-0.7 5.4,-1.5 8.1,-2.2 8,-2 8.1,-2 8.1,-1.9 8,-1.9 8.1,-1.2 8,-0.9 8.1,-0.9 8.1,-0.9 8,-0.5 8.1,-0.2 8,0 8.1,0.2 8.1,0.3 8,0.8 8.1,1 8,1 8.1,1 8,1 8.1,1.2 8.1,1.1 8,0.9 8.1,0.8 8,0.6 8.1,0.5 8.1,0.4 8,0.2 8.1,0 8,-0.1 8.1,-0.4 8.1,-0.9 8,-1.3 8.1,-1.5 8,-2.2 8.1,-2.5 8,-2.6 8.1,-2.5 8.1,-2.5 8,-3 8.1,-3.7 8,-4.6 8.1,-6 8.1,-5.7" stroke="#909888"/>
<path d="M82.9,740.6l2.9,0.8 2.9,-2.3 2.3,-1.6 0.6,2.1 2.9,-1.1 2.9,0.2 1.6,-0.5 1.3,0.2 2.9,-0.7 2.9,-0.5 1,-0.8 1.9,0.1 2.9,-1.1 2.9,-0.5 0.4,0 2.5,-0.8 5.5,-1.5 8.1,-2.3 8,-2 8.1,-1.9 8,-1.9 8.1,-1.8 8.1,-1.3 8,-1 8.1,-0.8 8,-0.9 8.1,-0.5 8,-0.1 8.1,0.1 8.1,0.2 8,0.4 8.1,0.8 8,1 8.1,1.1 8.1,1 8,1 8.1,1.2 8,1.1 8.1,0.9 8,0.8 8.1,0.5 8.1,0.5 8,0.4 8.1,0.2 8,0.1 8.1,-0.1 8,-0.4 8.1,-0.8 8.1,-1.3 8,-1.4 8.1,-2 8,-2.4 8.1,-2.5 8,-2.4 8.1,-2.4 8.1,-2.9 8,-3.6 8.1,-4.4 8,-5.9 8.1,-6" stroke="#2080b0"/>
<path d="M82.1,741.8l2.9,-0.4 2.9,-0.2 2.3,-3.2 0.6,0.4 2.9,0.2 2.9,0.3 1.6,0.9 1.3,-2.5 2.9,0.7 2.9,-1 1,-0.2 1.9,0.8 2.9,-1.1 2.9,-0.6 0.4,-0.1 2.5,-0.7 5.5,-1.6 8.1,-2.3 8,-2 8.1,-2 8,-1.8 8.1,-1.8 8,-1.2 8.1,-1.1 8.1,-0.8 8,-0.9 8.1,-0.4 8,-0.1 8.1,0.2 8,0.2 8.1,0.5 8,0.8 8.1,1.1 8.1,1.1 8,1 8.1,1 8,1.2 8.1,1.1 8,0.9 8.1,0.7 8.1,0.6 8,0.4 8.1,0.4 8,0.2 8.1,0.1 8,0 8.1,-0.4 8,-0.8 8.1,-1.2 8.1,-1.4 8,-1.8 8.1,-2.3 8,-2.3 8.1,-2.3 8,-2.4 8.1,-2.8 8.1,-3.5 8,-4.2 8.1,-5.8 8,-6.3" stroke="#1878a8"/>
<path d="M81.3,742.4l2.9,0.4 2.9,0.1 2.3,0.2 0.6,-2 2.9,-0.8 2.9,-1.1 1.6,1.7 1.3,-1.6 2.9,-1.1 2.9,0.3 1,0 1.9,-0.2 2.9,-0.7 2.9,-0.9 0.3,-0.1 2.6,-0.6 5.5,-1.6 8.1,-2.4 8,-2 8.1,-1.9 8,-1.8 8.1,-1.7 8,-1.3 8.1,-1.1 8,-0.8 8.1,-0.8 8,-0.4 8.1,0 8.1,0.2 8,0.3 8.1,0.5 8,0.9 8.1,1.1 8,1.1 8.1,1 8,1 8.1,1.2 8,1.1 8.1,0.9 8.1,0.7 8,0.5 8.1,0.4 8,0.4 8.1,0.2 8,0.1 8.1,0 8,-0.3 8.1,-0.8 8.1,-1.1 8,-1.3 8.1,-1.8 8,-2.1 8.1,-2.1 8,-2.2 8.1,-2.4 8,-2.8 8.1,-3.3 8,-4.1 8.1,-5.6 8.1,-6.6" stroke="#105888"/>
<path d="M80.5,743.7l2.9,-2.3 2.9,3.3 2.3,-0.2 0.6,-1.4 2.9,-0.4 2.9,-2.7 1.6,3.1 1.3,-2.2 2.9,-0.1 2.9,-1.6 1,0.2 1.9,-0.8 2.9,-0.3 2.9,-0.7 0.3,0 2.6,-0.7 5.5,-1.7 8,-2.3 8.1,-2.1 8,-1.8 8.1,-1.8 8.1,-1.6 8,-1.3 8.1,-1.1 8,-0.9 8.1,-0.8 8,-0.3 8.1,0 8,0.3 8.1,0.3 8,0.6 8.1,0.9 8,1.1 8.1,1.2 8.1,1 8,1 8.1,1.2 8,1.1 8.1,0.9 8,0.7 8.1,0.4 8,0.5 8.1,0.3 8,0.2 8.1,0.2 8,0 8.1,-0.4 8.1,-0.7 8,-1.1 8.1,-1.2 8,-1.6 8.1,-2 8,-2 8.1,-2.1 8,-2.4 8.1,-2.7 8,-3.1 8.1,-4 8,-5.5 8.1,-6.8" stroke="#101010"/>
<path d="M79.7,745.3l2.9,-2.5 2.9,-0.2 2.3,-0.6 0.6,1.3 2.9,-0.3 2.9,0.1 1.6,-1.4 1.3,-1.4 2.9,1 2.9,-0.3 1,-0.6 1.9,-0.5 2.9,-0.5 2.9,-0.8 0.3,-0.1 2.6,-0.7 5.5,-1.7 8,-2.3 8.1,-2.1 8,-1.9 8.1,-1.7 8,-1.6 8.1,-1.3 8,-1.1 8.1,-0.9 8.1,-0.7 8,-0.3 8.1,0.1 8,0.3 8.1,0.4 8,0.6 8.1,0.9 8,1.2 8.1,1.1 8,1.1 8.1,1 8,1.2 8.1,1 8,1 8.1,0.6 8,0.5 8.1,0.4 8.1,0.3 8,0.2 8.1,0.2 8,0 8.1,-0.3 8,-0.7 8.1,-1 8,-1.2 8.1,-1.5 8,-1.9 8.1,-1.9 8,-2 8.1,-2.3 8,-2.6 8.1,-3.1 8.1,-3.9 8,-5.3 8.1,-7" stroke="#f01818"/>
<path d="M78.9,744.4l2.9,0.2 2.9,1.8 2.3,-2.2 0.6,-0.9 2.9,-0.8 2.9,0.7 1.6,-0.5 1.3,0.4 2.9,-2 2.9,0.9 1,-0.9 1.9,0 2.9,-1.1 2.9,-0.6 0.3,0 2.6,-0.7 5.5,-1.7 8,-2.4 8.1,-2 8,-1.9 8.1,-1.7 8,-1.5 8.1,-1.3 8,-1.2 8.1,-0.8 8,-0.7 8.1,-0.3 8,0.1 8.1,0.4 8.1,0.4 8,0.7 8.1,0.9 8,1.2 8.1,1.2 8,1.1 8.1,1 8,1.2 8.1,1 8,0.9 8.1,0.7 8,0.4 8.1,0.4 8,0.3 8.1,0.3 8,0.1 8.1,0.1 8,-0.3 8.1,-0.8 8,-0.9 8.1,-1.1 8.1,-1.5 8,-1.7 8.1,-1.9 8,-1.9 8.1,-2.3 8,-2.5 8.1,-3 8,-3.7 8.1,-5.3 8,-7.1" stroke="#ff10f0"/>
<path d="M78.1,746l2.9,-0.4 2.9,1.1 2.3,-0.8 0.6,-2.4 2.9,2.1 2.9,-1.6 1.6,0.4 1.3,-2.5 2.9,0.1 2.9,0.7 1,-1.3 1.9,0.5 2.9,-0.7 2.9,-0.8 0.3,-0.1 2.6,-0.7 5.5,-1.7 8,-2.4 8.1,-2.1 8,-1.9 8.1,-1.6 8,-1.5 8.1,-1.3 8,-1.2 8.1,-0.8 8,-0.6 8.1,-0.2 8,0.1 8.1,0.4 8,0.5 8.1,0.7 8,1 8.1,1.2 8,1.2 8.1,1.1 8.1,1 8,1.2 8.1,1 8,0.9 8.1,0.7 8,0.4 8.1,0.3 8,0.3 8.1,0.3 8,0.1 8.1,0.1 8,-0.3 8.1,-0.7 8,-0.9 8.1,-1 8,-1.5 8.1,-1.6 8,-1.8 8.1,-1.9 8,-2.2 8.1,-2.5 8,-2.9 8.1,-3.7 8.1,-5.1 8,-7.1" stroke="#b020e0"/>
<path d="M77.3,746.6l2.9,-1.1 2.9,1.6 2.2,-2.1 0.7,2.7 2.9,-2 2.9,-1.4 1.6,-0.4 1.3,0.7 2.9,-2 2.9,-0.4 1,0.5 1.9,0.2 2.9,-0.8 2.9,-0.8 0.3,-0.1 2.6,-0.7 5.5,-1.7 8,-2.4 8.1,-2.1 8,-1.9 8.1,-1.7 8,-1.4 8.1,-1.3 8,-1.1 8.1,-0.8 8,-0.6 8.1,-0.2 8,0.3 8.1,0.4 8,0.5 8.1,0.7 8,1 8.1,1.2 8,1.3 8.1,1.1 8,1 8.1,1.1 8.1,1.1 8,0.9 8.1,0.6 8,0.4 8.1,0.4 8,0.3 8.1,0.2 8,0.2 8.1,0 8,-0.3 8.1,-0.7 8,-0.9 8.1,-0.9 8,-1.4 8.1,-1.6 8,-1.7 8.1,-1.9 8,-2.2 8.1,-2.4 8,-2.9 8.1,-3.6 8,-5 8.1,-6.9" stroke="#8a20d0"/>
<path d="M76.5,748l2.9,-2.4 2.9,2.1 2.2,-1.8 0.7,0.6 2.9,-0.7 2.9,0.4 1.6,-1.8 1.3,0.1 2.9,-1.1 2.9,1.9 0.9,-1.7 2,-0.3 2.9,-0.6 2.9,-0.5 0.3,-0.1 2.6,-0.7 5.5,-1.7 8,-2.4 8.1,-2.1 8,-1.9 8.1,-1.7 8,-1.4 8.1,-1.3 8,-1.1 8.1,-0.7 8,-0.5 8.1,-0.2 8,0.3 8.1,0.4 8,0.6 8.1,0.7 8,1.1 8.1,1.2 8,1.2 8.1,1.1 8,1.1 8.1,1.1 8,1.1 8.1,0.9 8.1,0.6 8,0.4 8.1,0.3 8,0.3 8.1,0.2 8,0.2 8.1,0 8,-0.3 8.1,-0.7 8,-0.8 8.1,-1 8,-1.3 8.1,-1.6 8,-1.6 8.1,-1.9 8,-2.1 8.1,-2.4 8,-2.8 8.1,-3.5 8,-4.9 8.1,-6.8" stroke="#7028c0"/>
<path d="M75.7,749l2.9,-1.3 2.9,-0.3 2.2,0.7 0.7,0.1 2.9,-0.6 2.9,-1.8 1.6,0.1 1.3,0.4 2.9,-1.8 2.9,1.2 0.9,-0.6 2,-0.6 2.9,-0.8 2.9,-0.5 0.3,-0.1 2.6,-0.7 5.4,-1.8 8.1,-2.4 8.1,-2.1 8,-1.9 8.1,-1.6 8,-1.5 8.1,-1.2 8,-1.1 8.1,-0.7 8,-0.5 8.1,0 8,0.2 8.1,0.5 8,0.6 8.1,0.7 8,1.1 8.1,1.2 8,1.3 8.1,1.1 8,1.1 8.1,1.1 8,1 8.1,0.9 8,0.6 8.1,0.4 8.1,0.3 8,0.3 8.1,0.2 8,0.2 8.1,0 8,-0.3 8.1,-0.7 8,-0.8 8.1,-0.9 8,-1.3 8.1,-1.5 8,-1.6 8.1,-1.8 8,-2.1 8.1,-2.4 8,-2.7 8.1,-3.4 8,-4.9 8.1,-6.6" stroke="#3838b0"/>
<path d="M74.9,750l2.9,0.4 2.9,-3.6 2.2,2.6 0.7,-2.2 2.9,3 2.9,-2.2 1.6,-0.4 1.3,-0.5 2.9,-0.5 2.9,-0.5 0.9,-0.5 2,0.1 2.9,-0.8 2.9,-0.8 0.3,-0.1 2.6,-0.7 5.4,-1.7 8.1,-2.4 8,-2.1 8.1,-1.9 8.1,-1.6 8,-1.5 8.1,-1.2 8,-1 8.1,-0.7 8,-0.5 8.1,0 8,0.3 8.1,0.5 8,0.6 8.1,0.8 8,1 8.1,1.2 8,1.3 8.1,1.1 8,1.1 8.1,1.1 8,1.1 8.1,0.8 8,0.6 8.1,0.4 8,0.3 8.1,0.3 8.1,0.2 8,0.1 8.1,0 8,-0.2 8.1,-0.7 8,-0.8 8.1,-0.9 8,-1.2 8.1,-1.5 8,-1.6 8.1,-1.7 8,-2.1 8.1,-2.3 8,-2.7 8.1,-3.3 8,-4.7 8.1,-6.5" stroke="#8a8a20"/>
<path d="M74.1,750.9l2.9,-0.3 2.9,-1 2.2,-1.5 0.7,1.9 2.9,-2.5 2.9,2.5 1.6,-2.4 1.3,0.9 2.9,-1.4 2.9,0.1 0.9,-0.5 2,-0.1 2.9,-1 2.9,-0.6 0.3,0 2.6,-0.7 5.4,-1.7 8.1,-2.5 8,-2 8.1,-1.9 8,-1.6 8.1,-1.4 8.1,-1.2 8,-1 8.1,-0.7 8,-0.5 8.1,0 8,0.4 8.1,0.5 8,0.6 8.1,0.8 8,1 8.1,1.3 8,1.2 8.1,1.2 8,1.1 8.1,1.1 8,1 8.1,0.8 8,0.6 8.1,0.4 8,0.3 8.1,0.3 8,0.2 8.1,0.1 8.1,0 8,-0.3 8.1,-0.6 8,-0.8 8.1,-0.9 8,-1.2 8.1,-1.4 8,-1.5 8.1,-1.7 8,-2 8.1,-2.3 8,-2.6 8.1,-3.3 8,-4.6 8.1,-6.2" stroke="#3a9090"/>
<path d="M73.3,751.7l2.9,-0.9 2.9,0.8 2.2,-0.7 0.7,-1.4 2.9,0.7 2.9,-1.2 1.6,-0.2 1.3,0.2 2.9,0.2 2.9,-1.1 0.9,0.2 2,-0.4 2.9,-1.2 2.9,-0.7 0.3,-0.1 2.6,-0.7 5.4,-1.6 8.1,-2.4 8,-2.1 8.1,-1.8 8,-1.6 8.1,-1.4 8,-1.2 8.1,-1 8.1,-0.7 8,-0.4 8.1,0 8,0.3 8.1,0.6 8,0.6 8.1,0.8 8,1.1 8.1,1.2 8,1.3 8.1,1.1 8,1.1 8.1,1.1 8,1 8.1,0.8 8,0.6 8.1,0.4 8,0.3 8.1,0.3 8,0.1 8.1,0.1 8,0 8.1,-0.3 8.1,-0.6 8,-0.8 8.1,-0.8 8,-1.1 8.1,-1.4 8,-1.5 8.1,-1.7 8,-1.9 8.1,-2.2 8,-2.6 8.1,-3.2 8,-4.4 8.1,-6.1" stroke="#a08060"/>
<path d="M72.5,751.8l2.9,-0.1 2.9,-1.2 2.2,1.9 0.7,1.5 2.9,-3.2 2.9,0.1 1.6,-1.9 1.3,1.3 2.9,-1.2 2.9,-0.6 0.9,-0.5 2,1 2.9,-1.6 2.9,-0.4 0.3,0 2.6,-0.7 5.4,-1.6 8.1,-2.4 8,-2.1 8.1,-1.8 8,-1.6 8.1,-1.3 8,-1.2 8.1,-1 8,-0.7 8.1,-0.4 8.1,0 8,0.4 8.1,0.6 8,0.6 8.1,0.8 8,1.1 8.1,1.2 8,1.3 8.1,1.1 8,1.2 8.1,1 8,1 8.1,0.8 8,0.6 8.1,0.4 8,0.3 8.1,0.2 8,0.2 8.1,0.1 8,-0.1 8.1,-0.3 8,-0.6 8.1,-0.7 8.1,-0.8 8,-1.1 8.1,-1.3 8,-1.5 8.1,-1.6 8,-1.9 8.1,-2.2 8,-2.5 8.1,-3.1 8,-4.3 8.1,-5.9" stroke="#40a040"/>
<path d="M71.7,754l2.9,1.7 2.9,-4.7 2.2,1.9 0.7,0 2.9,-0.3 2.9,-2.4 1.6,-0.6 1.3,-0.3 2.9,0.9 2.9,0.9 0.9,-1.3 2,-0.9 2.9,-0.2 2.9,-0.8 0.3,0 2.6,-0.7 5.4,-1.6 8.1,-2.4 8,-2 8.1,-1.8 8,-1.5 8.1,-1.4 8,-1.2 8.1,-1 8,-0.7 8.1,-0.3 8,0 8.1,0.4 8.1,0.6 8,0.6 8.1,0.8 8,1.1 8.1,1.2 8,1.3 8.1,1.2 8,1.1 8.1,1 8,1 8.1,0.8 8,0.6 8.1,0.3 8,0.4 8.1,0.2 8,0.1 8.1,0.1 8,-0.1 8.1,-0.3 8,-0.6 8.1,-0.7 8,-0.8 8.1,-1 8.1,-1.3 8,-1.4 8.1,-1.6 8,-1.8 8.1,-2.1 8,-2.5 8.1,-3 8,-4.2 8.1,-5.7" stroke="#2a8888"/>
<path d="M70.9,754.7l2.9,-0.3 2.9,0.9 2.2,-1.1 0.7,-2.9 2.9,2.9 2.9,-0.9 1.6,-0.4 1.3,-0.5 2.9,-1.4 2.9,0.1 0.9,-0.6 2,0.8 2.9,-1.7 2.9,-0.7 0.3,-0.1 2.5,-0.6 5.5,-1.6 8.1,-2.3 8,-2 8.1,-1.8 8,-1.5 8.1,-1.4 8,-1.1 8.1,-1 8,-0.7 8.1,-0.4 8,0.1 8.1,0.4 8,0.6 8.1,0.6 8.1,0.8 8,1.1 8.1,1.2 8,1.3 8.1,1.2 8,1.1 8.1,1.1 8,0.9 8.1,0.7 8,0.6 8.1,0.4 8,0.3 8.1,0.2 8,0.2 8.1,0 8,-0.1 8.1,-0.3 8,-0.6 8.1,-0.7 8,-0.7 8.1,-1 8,-1.2 8.1,-1.4 8.1,-1.6 8,-1.8 8.1,-2 8,-2.4 8.1,-2.9 8,-4.1 8.1,-5.5" stroke="#e02868"/>
<path d="M70.1,756.3l2.9,-0.1 2.9,-1.5 2.2,-2 0.7,-0.4 2.9,1.2 2.9,-0.2 1.6,-1.6 1.3,0.2 2.9,0.5 2.8,-1.7 1,0.1 1.9,0.4 2.9,-0.5 2.9,-0.8 0.4,-0.1 2.5,-0.6 5.5,-1.6 8.1,-2.2 8,-2 8.1,-1.7 8,-1.6 8.1,-1.3 8,-1.2 8.1,-1 8,-0.7 8.1,-0.3 8,0.1 8.1,0.4 8,0.6 8.1,0.6 8,0.9 8.1,1 8.1,1.2 8,1.2 8.1,1.3 8,1.1 8.1,1.1 8,0.8 8.1,0.8 8,0.6 8.1,0.4 8,0.3 8.1,0.2 8,0.1 8.1,0 8,-0.1 8.1,-0.4 8,-0.6 8.1,-0.6 8,-0.7 8.1,-1 8,-1.1 8.1,-1.3 8,-1.6 8.1,-1.7 8.1,-2 8,-2.3 8.1,-2.9 8,-4 8.1,-5.3" stroke="#50a050"/>
<path d="M69.3,756.6l2.9,0.4 2.9,-2.2 2.2,-1 0.7,0.8 2.9,-1.3 2.8,0.4 1.7,0.7 1.2,-1.8 2.9,0 2.9,0.6 1,-0.9 1.9,-0.1 2.9,-0.9 2.9,-0.5 0.4,0 2.5,-0.6 5.5,-1.5 8.1,-2.2 8,-2 8.1,-1.7 8,-1.5 8.1,-1.3 8,-1.2 8.1,-1 8,-0.7 8.1,-0.4 8,0.2 8.1,0.4 8,0.5 8.1,0.7 8,0.9 8.1,1 8,1.2 8.1,1.2 8.1,1.3 8,1.1 8.1,1.1 8,0.8 8.1,0.8 8,0.5 8.1,0.4 8,0.3 8.1,0.2 8,0.1 8.1,0 8,-0.2 8.1,-0.3 8,-0.6 8.1,-0.6 8,-0.7 8.1,-0.9 8,-1.1 8.1,-1.3 8,-1.5 8.1,-1.7 8,-1.9 8.1,-2.3 8.1,-2.8 8,-3.8 8.1,-5.1" stroke="#989090"/>
<path d="M68.5,758.1l2.9,-1.3 2.8,-1.1 2.3,3.4 0.6,-1.6 2.9,-2.6 2.9,-1.1 1.7,1 1.2,1 2.9,-1.8 2.9,-0.4 1,-0.3 1.9,0.1 2.9,-0.6 2.9,-1 0.4,0 2.5,-0.6 5.5,-1.5 8.1,-2.1 8,-2 8.1,-1.7 8,-1.4 8.1,-1.4 8,-1.1 8.1,-1 8,-0.7 8.1,-0.4 8,0.1 8.1,0.5 8,0.5 8.1,0.7 8,0.9 8.1,1 8,1.1 8.1,1.3 8,1.3 8.1,1.1 8.1,1 8,0.9 8.1,0.7 8,0.6 8.1,0.4 8,0.3 8.1,0.1 8,0.1 8.1,-0.1 8,-0.1 8.1,-0.4 8,-0.6 8.1,-0.6 8,-0.6 8.1,-0.8 8,-1.1 8.1,-1.2 8,-1.5 8.1,-1.7 8,-1.9 8.1,-2.2 8,-2.7 8.1,-3.7 8.1,-4.9" stroke="#b09498"/>
<path d="M67.6,758.7l2.9,-0.9 2.9,-1.6 2.3,0.1 0.6,1.2 2.9,0.2 2.9,-0.9 1.7,-0.8 1.2,0.3 2.9,-1.3 2.9,-0.2 1,0.4 1.9,-0.7 2.9,-0.7 2.9,-1 0.4,0 2.5,-0.6 5.5,-1.4 8.1,-2.1 8,-1.9 8.1,-1.7 8,-1.5 8.1,-1.3 8,-1.1 8.1,-1 8,-0.8 8.1,-0.3 8,0.1 8.1,0.5 8,0.5 8.1,0.7 8,0.9 8.1,1 8,1.1 8.1,1.3 8,1.3 8.1,1.1 8,1 8.1,0.8 8.1,0.8 8,0.5 8.1,0.4 8,0.3 8.1,0.2 8,0 8.1,-0.1 8,-0.2 8.1,-0.4 8,-0.5 8.1,-0.6 8,-0.6 8.1,-0.8 8,-1 8.1,-1.2 8,-1.4 8.1,-1.6 8,-1.9 8.1,-2.1 8,-2.7 8.1,-3.5 8,-4.7" stroke="#8a9a28"/>
<path d="M66.8,760.6l2.9,-1.2 2.9,0.3 2.3,-0.9 0.6,0.1 2.9,-1.7 2.9,-0.6 1.6,0.9 1.3,-1.2 2.9,0.5 2.9,-0.7 1,-0.8 1.9,-0.1 2.9,-0.7 2.9,-0.7 0.4,0 2.5,-0.6 5.5,-1.4 8.1,-2 8,-1.9 8.1,-1.6 8,-1.5 8.1,-1.3 8,-1.1 8.1,-1 8,-0.8 8.1,-0.3 8,0.1 8.1,0.5 8,0.5 8.1,0.7 8,0.9 8.1,1 8,1.1 8.1,1.3 8,1.2 8.1,1.2 8,1 8.1,0.8 8,0.7 8.1,0.5 8.1,0.4 8,0.3 8.1,0.2 8,0 8.1,-0.1 8,-0.2 8.1,-0.4 8,-0.6 8.1,-0.5 8,-0.6 8.1,-0.8 8,-0.9 8.1,-1.2 8,-1.4 8.1,-1.5 8,-1.8 8.1,-2.1 8,-2.6 8.1,-3.4 8,-4.5" stroke="#2a9098"/>
<path d="M66,759.9l2.9,0.6 2.9,-1.2 2.3,-0.7 0.6,1.4 2.9,-2.6 2.9,0.2 1.6,1 1.3,-0.9 2.9,-0.1 2.9,-1.4 1,0.6 1.9,-1 2.9,-0.1 2.9,-0.8 0.3,-0.1 2.6,-0.6 5.5,-1.3 8.1,-2 8,-1.9 8.1,-1.6 8,-1.4 8.1,-1.3 8,-1.1 8.1,-1 8,-0.8 8.1,-0.4 8,0.2 8.1,0.5 8,0.5 8.1,0.7 8,0.9 8.1,1 8,1.1 8.1,1.3 8,1.2 8.1,1.2 8,1 8.1,0.8 8,0.6 8.1,0.6 8,0.4 8.1,0.3 8.1,0.1 8,0 8.1,-0.1 8,-0.3 8.1,-0.4 8,-0.5 8.1,-0.6 8,-0.5 8.1,-0.7 8,-0.9 8.1,-1.1 8,-1.4 8.1,-1.5 8,-1.8 8.1,-2 8,-2.5 8.1,-3.3 8,-4.3" stroke="#608858"/>
<path d="M65.2,761.2l2.9,0.1 2.9,-2.4 2.3,4.3 0.6,-1.6 2.9,-1 2.9,-1.6 1.6,0.4 1.3,0 2.9,-0.9 2.9,-1.2 1,0.2 1.9,-0.4 2.9,-0.6 2.9,-0.7 0.3,0 2.6,-0.6 5.5,-1.3 8,-1.9 8.1,-1.8 8.1,-1.6 8,-1.4 8.1,-1.3 8,-1.1 8.1,-1.1 8,-0.8 8.1,-0.3 8,0.2 8.1,0.4 8,0.6 8.1,0.7 8,0.9 8.1,1 8,1.1 8.1,1.2 8,1.3 8.1,1.2 8,1 8.1,0.7 8,0.7 8.1,0.5 8,0.4 8.1,0.3 8,0.1 8.1,0 8.1,-0.2 8,-0.2 8.1,-0.5 8,-0.5 8.1,-0.5 8,-0.5 8.1,-0.7 8,-0.8 8.1,-1.1 8,-1.3 8.1,-1.5 8,-1.8 8.1,-2 8,-2.3 8.1,-3.3 8,-4" stroke="#909888"/>
<path d="M64.4,761.5l2.9,-0.1 2.9,0.2 2.3,-0.7 0.6,-1.9 2.9,2.3 2.9,-0.6 1.6,-0.9 1.3,-1.1 2.9,-0.2 2.9,1 1,-0.4 1.9,-1 2.9,-0.9 2.9,-0.3 0.3,-0.2 2.6,-0.5 5.5,-1.2 8,-1.9 8.1,-1.8 8,-1.6 8.1,-1.4 8.1,-1.3 8,-1.1 8.1,-1 8,-0.8 8.1,-0.3 8,0.2 8.1,0.4 8,0.6 8.1,0.7 8,0.9 8.1,1 8,1.1 8.1,1.2 8,1.3 8.1,1.2 8,1 8.1,0.7 8,0.6 8.1,0.6 8,0.4 8.1,0.2 8,0.2 8.1,-0.1 8,-0.2 8.1,-0.3 8.1,-0.4 8,-0.5 8.1,-0.5 8,-0.5 8.1,-0.7 8,-0.8 8.1,-1 8,-1.3 8.1,-1.5 8,-1.6 8.1,-2 8,-2.3 8.1,-3.1 8,-3.9" stroke="#2080b0"/>
<path d="M63.6,763.9l2.9,0.5 2.9,-2.9 2.3,-0.8 0.6,-0.6 2.9,1.8 2.9,-0.4 1.6,-0.1 1.3,-0.7 2.9,-1.5 2.9,-0.7 1,1.3 1.9,-1.2 2.9,0.1 2.9,-1 0.3,0 2.6,-0.5 5.5,-1.2 8,-1.9 8.1,-1.7 8,-1.6 8.1,-1.3 8,-1.3 8.1,-1.1 8.1,-1 8,-0.9 8.1,-0.3 8,0.2 8.1,0.5 8,0.5 8.1,0.8 8,0.9 8.1,1 8,1.1 8.1,1.2 8,1.3 8.1,1.2 8,1 8.1,0.7 8,0.6 8.1,0.5 8,0.4 8.1,0.3 8,0.1 8.1,-0.1 8,-0.2 8.1,-0.4 8,-0.4 8.1,-0.5 8.1,-0.5 8,-0.4 8.1,-0.6 8,-0.8 8.1,-1 8,-1.3 8.1,-1.4 8,-1.6 8.1,-1.9 8,-2.3 8.1,-2.9 8,-3.7" stroke="#1878a8"/>
<path d="M62.8,764.6l2.9,-1.8 2.9,-1.2 2.3,0.1 0.6,1.7 2.9,-3.5 2.9,2.5 1.6,-0.2 1.3,0.2 2.9,-1.8 2.9,-0.6 1,0.3 1.9,-0.4 2.9,-0.3 2.9,-0.8 0.3,-0.1 2.6,-0.5 5.5,-1.2 8,-1.8 8.1,-1.7 8,-1.5 8.1,-1.4 8,-1.3 8.1,-1 8,-1.1 8.1,-0.8 8.1,-0.4 8,0.3 8.1,0.4 8,0.6 8.1,0.8 8,0.9 8.1,1 8,1 8.1,1.3 8,1.3 8.1,1.2 8,1 8.1,0.6 8,0.6 8.1,0.6 8,0.3 8.1,0.3 8,0.1 8.1,-0.1 8,-0.2 8.1,-0.4 8,-0.4 8.1,-0.5 8,-0.5 8.1,-0.4 8.1,-0.6 8,-0.7 8.1,-1 8,-1.2 8.1,-1.4 8,-1.6 8.1,-1.8 8,-2.2 8.1,-2.9 8,-3.5" stroke="#105888"/>
<path d="M62,764.6l2.9,1.2 2.9,-2.4 2.3,0.2 0.6,1.4 2.9,-1.9 2.9,-2 1.6,2.1 1.3,-0.8 2.9,-0.8 2.9,0.4 1,-1.1 1.9,0.2 2.9,-0.8 2.9,-0.4 0.3,-0.3 2.6,-0.4 5.5,-1.1 8,-1.8 8.1,-1.7 8,-1.5 8.1,-1.4 8,-1.2 8.1,-1.1 8,-1.1 8.1,-0.8 8,-0.3 8.1,0.2 8.1,0.5 8,0.6 8.1,0.7 8,1 8.1,1 8,1 8.1,1.3 8,1.3 8.1,1.2 8,1 8.1,0.6 8,0.6 8.1,0.5 8,0.4 8.1,0.3 8,0 8.1,-0.1 8,-0.3 8.1,-0.3 8,-0.5 8.1,-0.5 8,-0.4 8.1,-0.4 8,-0.6 8.1,-0.6 8.1,-1 8,-1.2 8.1,-1.3 8,-1.6 8.1,-1.8 8,-2.1 8.1,-2.8 8,-3.3" stroke="#101010"/>
<path d="M61.2,765.3l2.9,-1.2 2.9,2.3 2.3,-3.2 0.6,4.2 2.9,-4.3 2.9,0.9 1.6,-2.7 1.3,1.9 2.9,-0.7 2.9,0 1,-0.3 1.9,-0.5 2.9,0 2.9,-1 0.3,-0.1 2.6,-0.4 5.5,-1.1 8,-1.8 8.1,-1.7 8,-1.5 8.1,-1.3 8,-1.2 8.1,-1.1 8,-1 8.1,-0.9 8,-0.3 8.1,0.2 8,0.5 8.1,0.6 8.1,0.8 8,0.9 8.1,1.1 8,1 8.1,1.3 8,1.3 8.1,1.3 8,0.9 8.1,0.6 8,0.6 8.1,0.5 8,0.4 8.1,0.2 8,0.1 8.1,-0.2 8,-0.3 8.1,-0.4 8,-0.4 8.1,-0.5 8,-0.4 8.1,-0.4 8,-0.5 8.1,-0.7 8,-0.9 8.1,-1.1 8.1,-1.3 8,-1.5 8.1,-1.8 8,-2.1 8.1,-2.7 8,-3.2" stroke="#f01818"/>
<path d="M60.4,767l2.9,-1.2 2.9,-0.4 2.3,-0.6 0.6,1.6 2.9,-2.1 2.9,-0.8 1.6,0.4 1.3,0.3 2.9,-1.8 2.9,1.2 1,-0.9 1.9,0.3 2.9,-0.5 2.9,-0.8 0.3,-0.1 2.6,-0.5 5.5,-1 8,-1.7 8.1,-1.7 8,-1.5 8.1,-1.3 8,-1.3 8.1,-1 8,-1.1 8.1,-0.8 8,-0.3 8.1,0.2 8,0.5 8.1,0.6 8,0.8 8.1,1 8.1,1.1 8,1 8.1,1.3 8,1.3 8.1,1.3 8,0.9 8.1,0.6 8,0.6 8.1,0.4 8,0.4 8.1,0.2 8,0.1 8.1,-0.2 8,-0.3 8.1,-0.4 8,-0.4 8.1,-0.5 8,-0.4 8.1,-0.4 8,-0.5 8.1,-0.6 8,-0.8 8.1,-1.2 8,-1.3 8.1,-1.4 8.1,-1.8 8,-2 8.1,-2.6 8,-3.1" stroke="#ff10f0"/>
<path d="M59.6,767.8l2.9,-2.8 2.9,1.3 2.3,0.1 0.6,-1.3 2.9,1.1 2.9,0.7 1.6,-1.9 1.3,-0.6 2.9,-0.3 2.9,0.2 1,0.5 1.9,-1.1 2.9,-0.5 2.9,-0.6 0.3,0 2.6,-0.5 5.5,-1.1 8,-1.6 8.1,-1.7 8,-1.5 8.1,-1.3 8,-1.2 8.1,-1.1 8,-1 8.1,-0.9 8,-0.2 8.1,0.2 8,0.5 8.1,0.7 8,0.8 8.1,1 8,1.1 8.1,1 8.1,1.3 8,1.4 8.1,1.2 8,0.9 8.1,0.6 8,0.6 8.1,0.4 8,0.4 8.1,0.2 8,0 8.1,-0.1 8,-0.4 8.1,-0.4 8,-0.5 8.1,-0.4 8,-0.4 8.1,-0.4 8,-0.4 8.1,-0.6 8,-0.8 8.1,-1.1 8,-1.3 8.1,-1.4 8,-1.7 8.1,-2 8.1,-2.5 8,-3" stroke="#b020e0"/>
<path d="M58.8,768.8l2.9,-0.4 2.9,-0.9 2.3,0.3 0.6,-1.4 2.9,0.1 2.9,0.9 1.6,-1.3 1.3,0.4 2.9,-0.9 2.9,-0.6 1,-0.5 1.9,0.4 2.9,-1 2.9,-0.3 0.3,-0.1 2.6,-0.5 5.5,-1 8,-1.6 8.1,-1.7 8,-1.5 8.1,-1.3 8,-1.3 8.1,-1 8,-1 8.1,-0.8 8,-0.3 8.1,0.3 8,0.5 8.1,0.7 8,0.8 8.1,1.1 8,1.1 8.1,1 8,1.3 8.1,1.4 8,1.2 8.1,0.9 8.1,0.6 8,0.6 8.1,0.4 8,0.4 8.1,0.2 8,0 8.1,-0.2 8,-0.3 8.1,-0.5 8,-0.4 8.1,-0.5 8,-0.4 8.1,-0.3 8,-0.4 8.1,-0.6 8,-0.8 8.1,-1.1 8,-1.2 8.1,-1.4 8,-1.7 8.1,-1.9 8,-2.5 8.1,-2.8" stroke="#8a20d0"/>
<path d="M58,769.2l2.9,-1 2.9,1.6 2.2,-2.5 0.7,1.6 2.9,-2.4 2.9,2 1.6,0 1.3,-2.3 2.9,-1.1 2.9,0.1 1,1.1 1.9,-0.9 2.9,-0.2 2.9,-0.8 0.3,0 2.6,-0.4 5.5,-1 8,-1.7 8.1,-1.7 8,-1.5 8.1,-1.3 8,-1.2 8.1,-1 8,-1 8.1,-0.8 8,-0.3 8.1,0.4 8,0.5 8.1,0.7 8,0.9 8.1,1 8,1.1 8.1,1.2 8,1.3 8.1,1.3 8,1.3 8.1,0.9 8,0.6 8.1,0.5 8.1,0.4 8,0.4 8.1,0.1 8,0 8.1,-0.2 8,-0.3 8.1,-0.5 8,-0.4 8.1,-0.5 8,-0.3 8.1,-0.4 8,-0.4 8.1,-0.5 8,-0.7 8.1,-1.1 8,-1.2 8.1,-1.4 8,-1.7 8.1,-1.9 8,-2.3 8.1,-2.8" stroke="#7028c0"/>
<path d="M57.2,770.6l2.9,-1.3 2.9,1.6 2.2,-0.4 0.7,-1.3 2.9,0.1 2.9,-1.4 1.6,-0.2 1.3,0 2.9,-1.1 2.9,0.6 0.9,-0.4 2,-0.5 2.9,-0.3 2.9,-0.5 0.3,-0.1 2.6,-0.5 5.5,-1 8,-1.6 8.1,-1.7 8,-1.5 8.1,-1.4 8,-1.2 8.1,-1 8,-0.9 8.1,-0.8 8,-0.3 8.1,0.4 8,0.5 8.1,0.7 8,1 8.1,1.1 8,1.1 8.1,1.2 8,1.3 8.1,1.4 8,1.2 8.1,0.9 8,0.6 8.1,0.5 8,0.4 8.1,0.3 8.1,0.2 8,0 8.1,-0.2 8,-0.4 8.1,-0.4 8,-0.5 8.1,-0.4 8,-0.4 8.1,-0.3 8,-0.4 8.1,-0.5 8,-0.7 8.1,-1 8,-1.2 8.1,-1.4 8,-1.6 8.1,-1.9 8,-2.3 8.1,-2.7" stroke="#3838b0"/>
<path d="M56.4,772.2l2.9,-1.5 2.9,-0.4 2.2,0.7 0.7,-0.7 2.9,-3.2 2.9,1 1.6,1.5 1.3,-1.9 2.9,1.4 2.9,-1.3 0.9,0 2,-0.4 2.9,-0.9 2.9,-0.2 0.3,0 2.6,-0.5 5.4,-1 8.1,-1.6 8.1,-1.7 8,-1.5 8.1,-1.4 8,-1.2 8.1,-0.9 8,-1 8.1,-0.8 8,-0.2 8.1,0.4 8,0.6 8.1,0.7 8,1 8.1,1.1 8,1.2 8.1,1.2 8,1.4 8.1,1.3 8,1.3 8.1,0.9 8,0.5 8.1,0.6 8,0.4 8.1,0.2 8,0.2 8.1,-0.1 8.1,-0.2 8,-0.4 8.1,-0.4 8,-0.5 8.1,-0.4 8,-0.3 8.1,-0.3 8,-0.4 8.1,-0.5 8,-0.7 8.1,-1 8,-1.1 8.1,-1.4 8,-1.6 8.1,-1.9 8,-2.2 8.1,-2.6" stroke="#8a8a20"/>
<path d="M55.6,773.1l2.9,2.2 2.9,-1.1 2.2,-2.7 0.7,-1.1 2.9,2.7 2.9,-3.8 1.6,-0.8 1.3,-0.2 2.9,1.8 2.9,-2 0.9,0.5 2,-0.3 2.9,-0.2 2.9,-0.9 0.3,0 2.6,-0.4 5.4,-1 8.1,-1.7 8,-1.7 8.1,-1.5 8.1,-1.4 8,-1.2 8.1,-0.9 8,-1 8.1,-0.7 8,-0.2 8.1,0.3 8,0.6 8.1,0.8 8,1 8.1,1.2 8,1.3 8.1,1.2 8,1.4 8.1,1.4 8,1.2 8.1,0.9 8,0.6 8.1,0.5 8,0.4 8.1,0.2 8,0.1 8.1,0 8,-0.3 8.1,-0.4 8.1,-0.4 8,-0.5 8.1,-0.4 8,-0.3 8.1,-0.3 8,-0.3 8.1,-0.5 8,-0.7 8.1,-0.9 8,-1.2 8.1,-1.3 8,-1.7 8.1,-1.8 8,-2.1 8.1,-2.5" stroke="#3a9090"/>
<path d="M54.8,773.3l2.9,-1.7 2.9,1.5 2.2,0.5 0.7,-1 2.9,-0.4 2.9,-1.1 1.6,0.1 1.3,-2 2.9,1.1 2.9,-0.1 0.9,-0.8 2,0.1 2.9,-1.1 2.9,-0.2 0.3,-0.1 2.6,-0.4 5.4,-1 8.1,-1.7 8,-1.7 8.1,-1.5 8,-1.4 8.1,-1.2 8.1,-1 8,-0.9 8.1,-0.7 8,-0.2 8.1,0.4 8,0.6 8.1,0.8 8,1.1 8.1,1.2 8,1.3 8.1,1.3 8,1.5 8.1,1.3 8,1.3 8.1,0.9 8,0.6 8.1,0.4 8,0.4 8.1,0.2 8,0.1 8.1,-0.1 8,-0.3 8.1,-0.4 8,-0.4 8.1,-0.4 8.1,-0.4 8,-0.3 8.1,-0.3 8,-0.4 8.1,-0.4 8,-0.7 8.1,-0.9 8,-1.1 8.1,-1.4 8,-1.6 8.1,-1.8 8,-2.1 8.1,-2.4" stroke="#a08060"/>
<path d="M54,774.5l2.9,0.2 2.9,-1.6 2.2,-1.3 0.7,3.5 2.9,-2.1 2.9,-2 1.6,0.2 1.3,-1 2.9,-0.3 2.9,-0.4 0.9,0.5 2,0.1 2.9,-0.5 2.9,-0.7 0.3,0 2.6,-0.5 5.4,-1 8.1,-1.7 8,-1.7 8.1,-1.6 8,-1.4 8.1,-1.2 8,-0.9 8.1,-0.9 8.1,-0.7 8,-0.2 8.1,0.4 8,0.7 8.1,0.8 8,1.1 8.1,1.3 8,1.4 8.1,1.3 8,1.5 8.1,1.4 8,1.2 8.1,0.9 8,0.6 8.1,0.5 8,0.3 8.1,0.2 8,0.1 8.1,-0.2 8,-0.3 8.1,-0.3 8,-0.5 8.1,-0.4 8,-0.4 8.1,-0.3 8.1,-0.3 8,-0.3 8.1,-0.4 8,-0.6 8.1,-0.9 8,-1.1 8.1,-1.4 8,-1.6 8.1,-1.8 8,-2.1 8.1,-2.3" stroke="#40a040"/>
<path d="M53.2,775.3l2.9,-0.3 2.9,-1.7 2.2,0.6 0.7,0.9 2.9,0.4 2.9,-2.3 1.6,1.8 1.3,-1.2 2.9,-0.7 2.9,-0.8 0.9,-0.5 2,-0.6 2.9,-0.3 2.9,-0.6 0.3,0 2.6,-0.5 5.4,-1 8.1,-1.7 8,-1.7 8.1,-1.6 8,-1.4 8.1,-1.2 8,-0.9 8.1,-0.9 8,-0.7 8.1,-0.1 8,0.4 8.1,0.6 8.1,0.9 8,1.2 8.1,1.3 8,1.4 8.1,1.5 8,1.5 8.1,1.4 8,1.2 8.1,0.9 8,0.6 8.1,0.5 8,0.3 8.1,0.1 8,0 8.1,-0.1 8,-0.3 8.1,-0.4 8,-0.4 8.1,-0.5 8,-0.3 8.1,-0.3 8,-0.3 8.1,-0.3 8.1,-0.4 8,-0.6 8.1,-0.9 8,-1.1 8.1,-1.4 8,-1.5 8.1,-1.8 8,-2 8.1,-2.3" stroke="#2a8888"/>
<path d="M52.4,776.1l2.9,-1.6 2.9,1.6 2.2,0.5 0.7,-0.8 2.9,-1.4 2.9,0.5 1.6,-1.9 1.3,1 2.9,-0.5 2.9,-0.9 0.9,-0.3 2,-0.2 2.9,-0.7 2.9,-0.5 0.3,0 2.5,-0.5 5.5,-1 8.1,-1.7 8,-1.7 8.1,-1.7 8,-1.4 8.1,-1.2 8,-0.9 8.1,-0.8 8,-0.7 8.1,-0.1 8,0.4 8.1,0.7 8,0.9 8.1,1.2 8.1,1.4 8,1.5 8.1,1.5 8,1.5 8.1,1.4 8,1.2 8.1,1 8,0.6 8.1,0.4 8,0.3 8.1,0.1 8,0 8.1,-0.2 8,-0.3 8.1,-0.4 8,-0.4 8.1,-0.4 8,-0.4 8.1,-0.3 8,-0.2 8.1,-0.3 8,-0.4 8.1,-0.6 8.1,-0.9 8,-1 8.1,-1.4 8,-1.6 8.1,-1.7 8,-2 8.1,-2.2" stroke="#e02868"/>
<path d="M51.6,777.8l2.9,0 2.9,-0.6 2.2,-0.8 0.7,-0.9 2.9,-0.4 2.9,-0.6 1.6,0.5 1.3,0.6 2.9,-2.1 2.8,-0.3 1,-0.3 1.9,0 2.9,-0.3 2.9,-0.8 0.4,0 2.5,-0.5 5.5,-1 8.1,-1.7 8,-1.8 8.1,-1.6 8,-1.5 8.1,-1.2 8,-0.9 8.1,-0.8 8,-0.6 8.1,-0.1 8,0.4 8.1,0.7 8,0.9 8.1,1.4 8,1.4 8.1,1.5 8.1,1.6 8,1.6 8.1,1.4 8,1.2 8.1,0.9 8,0.7 8.1,0.4 8,0.3 8.1,0 8,0 8.1,-0.3 8,-0.3 8.1,-0.4 8,-0.4 8.1,-0.4 8,-0.3 8.1,-0.3 8,-0.3 8.1,-0.3 8,-0.3 8.1,-0.6 8,-0.8 8.1,-1.1 8.1,-1.4 8,-1.5 8.1,-1.8 8,-1.9 8.1,-2.2" stroke="#50a050"/>
<path d="M50.8,777.9l2.9,1.5 2.9,-0.7 2.2,-3.1 0.7,1.4 2.8,0.5 2.9,-1.1 1.7,-1.5 1.2,0.5 2.9,0 2.9,-0.7 1,-0.9 1.9,0.9 2.9,-1.3 2.9,-0.7 0.4,0 2.5,-0.5 5.5,-1 8.1,-1.7 8,-1.8 8.1,-1.7 8,-1.5 8.1,-1.2 8,-0.8 8.1,-0.8 8,-0.7 8.1,0 8,0.4 8.1,0.8 8,0.9 8.1,1.4 8,1.5 8.1,1.6 8,1.6 8.1,1.7 8.1,1.4 8,1.2 8.1,0.9 8,0.6 8.1,0.5 8,0.2 8.1,0 8,-0.1 8.1,-0.2 8,-0.4 8.1,-0.4 8,-0.4 8.1,-0.3 8,-0.4 8.1,-0.2 8,-0.3 8.1,-0.3 8,-0.4 8.1,-0.5 8,-0.8 8.1,-1.1 8,-1.4 8.1,-1.5 8.1,-1.7 8,-1.9 8.1,-2.1" stroke="#989090"/>
<path d="M50,779.6l2.8,0.6 2.9,-3.6 2.3,1.1 0.6,1.7 2.9,-1.6 2.9,0 1.7,-1.2 1.2,-0.6 2.9,-0.4 2.9,-0.4 1,0.1 1.9,-1.4 2.9,0 2.9,-0.2 0.4,-0.1 2.5,-0.5 5.5,-1.1 8.1,-1.6 8,-1.9 8.1,-1.7 8,-1.5 8.1,-1.1 8,-0.9 8.1,-0.8 8,-0.6 8.1,0 8,0.5 8.1,0.7 8,1 8.1,1.4 8,1.6 8.1,1.6 8,1.7 8.1,1.7 8,1.4 8.1,1.2 8.1,1 8,0.6 8.1,0.4 8,0.2 8.1,0 8,-0.1 8.1,-0.3 8,-0.4 8.1,-0.3 8,-0.4 8.1,-0.4 8,-0.3 8.1,-0.3 8,-0.2 8.1,-0.3 8,-0.4 8.1,-0.5 8,-0.8 8.1,-1 8,-1.4 8.1,-1.6 8,-1.7 8.1,-1.9 8.1,-2" stroke="#b09498"/>
<path d="M49.1,779.7l2.9,-1.3 2.9,0.6 2.3,0 0.6,-1.2 2.9,0.6 2.9,-0.7 1.6,0.8 1.3,-0.6 2.9,-0.7 2.9,-0.4 1,-1 1.9,0.4 2.9,-1 2.9,-0.6 0.4,-0.1 2.5,-0.5 5.5,-1.1 8.1,-1.7 8,-1.8 8.1,-1.7 8,-1.6 8.1,-1.1 8,-0.9 8.1,-0.7 8,-0.6 8.1,0 8,0.5 8.1,0.7 8,1.1 8.1,1.5 8,1.6 8.1,1.7 8,1.8 8.1,1.7 8,1.4 8.1,1.2 8,0.9 8.1,0.7 8.1,0.4 8,0.2 8.1,0 8,-0.2 8.1,-0.3 8,-0.4 8.1,-0.4 8,-0.4 8.1,-0.3 8,-0.3 8.1,-0.3 8,-0.3 8.1,-0.3 8,-0.3 8.1,-0.5 8,-0.8 8.1,-1 8,-1.4 8.1,-1.6 8,-1.6 8.1,-1.9 8,-2" stroke="#8a9a28"/>
<path d="M48.3,781.8l2.9,-5.3 2.9,6.2 2.3,-3.8 0.6,1.5 2.9,-1.9 2.9,0.2 1.6,0.6 1.3,-1.1 2.9,0.7 2.9,-1.7 1,0.1 1.9,-0.9 2.9,-0.4 2.9,-0.5 0.3,-0.1 2.6,-0.5 5.5,-1.1 8.1,-1.7 8,-1.8 8.1,-1.8 8,-1.5 8.1,-1.2 8,-0.8 8.1,-0.7 8,-0.6 8.1,0 8,0.5 8.1,0.8 8,1.1 8.1,1.5 8,1.7 8.1,1.7 8,1.9 8.1,1.8 8,1.4 8.1,1.1 8,1 8.1,0.7 8,0.4 8.1,0.1 8.1,0 8,-0.3 8.1,-0.3 8,-0.4 8.1,-0.4 8,-0.3 8.1,-0.4 8,-0.3 8.1,-0.2 8,-0.3 8.1,-0.3 8,-0.3 8.1,-0.5 8,-0.7 8.1,-1.1 8,-1.4 8.1,-1.5 8,-1.7 8.1,-1.8 8,-2" stroke="#2a9098"/>
<path d="M47.5,781.7l2.9,-0.7 2.9,1.8 2.3,-2.6 0.6,2.1 2.9,-1.5 2.9,-1.6 1.6,-0.3 1.3,0.5 2.9,-0.8 2.9,-0.4 1,-0.5 1.9,0.1 2.9,-1 2.9,-0.4 0.3,-0.1 2.6,-0.5 5.5,-1.1 8,-1.7 8.1,-1.9 8.1,-1.8 8,-1.5 8.1,-1.2 8,-0.8 8.1,-0.7 8,-0.5 8.1,0 8,0.6 8.1,0.8 8,1.1 8.1,1.6 8,1.7 8.1,1.8 8,1.9 8.1,1.8 8,1.4 8.1,1.2 8,1 8.1,0.6 8,0.5 8.1,0.1 8,-0.1 8.1,-0.3 8.1,-0.4 8,-0.4 8.1,-0.3 8,-0.4 8.1,-0.3 8,-0.3 8.1,-0.3 8,-0.2 8.1,-0.3 8,-0.4 8.1,-0.4 8,-0.7 8.1,-1 8,-1.5 8.1,-1.5 8,-1.7 8.1,-1.8 8,-1.9" stroke="#608858"/>
<path d="M46.7,784.8l2.9,-1.5 2.9,0.7 2.3,-2.7 0.6,2.4 2.9,-2.3 2.9,-0.5 1.6,-0.8 1.3,-0.5 2.9,-0.3 2.9,-0.7 1,-0.3 1.9,0.8 2.9,-1.1 2.9,-0.6 0.3,-0.1 2.6,-0.6 5.5,-1.1 8,-1.7 8.1,-1.9 8,-1.8 8.1,-1.6 8.1,-1.1 8,-0.8 8.1,-0.7 8,-0.4 8.1,0 8,0.5 8.1,0.8 8,1.2 8.1,1.7 8,1.8 8.1,1.8 8,1.9 8.1,1.9 8,1.4 8.1,1.1 8,1 8.1,0.7 8,0.4 8.1,0.1 8,-0.1 8.1,-0.3 8,-0.4 8.1,-0.4 8.1,-0.4 8,-0.3 8.1,-0.4 8,-0.2 8.1,-0.3 8,-0.3 8.1,-0.2 8,-0.4 8.1,-0.5 8,-0.6 8.1,-1 8,-1.4 8.1,-1.6 8,-1.6 8.1,-1.8 8,-1.9" stroke="#909888"/>
<path d="M45.9,783.7l2.9,0.3 2.9,0.7 2.3,-1.8 0.6,-0.2 2.9,-1.5 2.9,-1.1 1.6,1.4 1.3,-0.5 2.9,-0.2 2.9,-0.3 1,-0.3 1.9,-1.1 2.9,-0.2 2.9,-0.7 0.3,0 2.6,-0.6 5.5,-1.1 8,-1.7 8.1,-1.9 8,-1.8 8.1,-1.6 8,-1.1 8.1,-0.8 8.1,-0.7 8,-0.4 8.1,0 8,0.6 8.1,0.8 8,1.2 8.1,1.7 8,1.9 8.1,1.8 8,2.1 8.1,1.9 8,1.3 8.1,1.2 8,1 8.1,0.7 8,0.4 8.1,0 8,-0.1 8.1,-0.3 8,-0.5 8.1,-0.4 8,-0.4 8.1,-0.3 8.1,-0.3 8,-0.3 8.1,-0.2 8,-0.3 8.1,-0.3 8,-0.3 8.1,-0.5 8,-0.6 8.1,-1 8,-1.4 8.1,-1.6 8,-1.6 8.1,-1.7 8,-1.9" stroke="#2080b0"/>
<path d="M45.1,784.7l2.9,-2.2 2.9,2.7 2.3,-3.5 0.6,1.7 2.9,0.1 2.9,-0.6 1.6,-0.2 1.3,-0.7 2.9,-2.1 2.9,1.2 1,-0.4 1.9,-0.4 2.9,-0.5 2.9,-0.6 0.3,-0.1 2.6,-0.6 5.5,-1.1 8,-1.7 8.1,-1.9 8,-1.9 8.1,-1.6 8,-1.1 8.1,-0.7 8,-0.6 8.1,-0.4 8.1,0 8,0.6 8.1,0.9 8,1.2 8.1,1.7 8,1.9 8.1,1.9 8,2.1 8.1,1.9 8,1.4 8.1,1.1 8,1 8.1,0.7 8,0.4 8.1,0.1 8,-0.2 8.1,-0.4 8,-0.4 8.1,-0.4 8,-0.4 8.1,-0.3 8,-0.3 8.1,-0.3 8,-0.2 8.1,-0.3 8.1,-0.3 8,-0.3 8.1,-0.5 8,-0.6 8.1,-1 8,-1.4 8.1,-1.5 8,-1.7 8.1,-1.7 8,-1.8" stroke="#1878a8"/>
<path d="M44.3,784.9l2.9,-0.3 2.9,-0.5 2.3,-1.1 0.6,0 2.9,1.4 2.9,-1.3 1.6,-1.2 1.3,2.7 2.9,-3.3 2.9,0.7 1,-0.8 1.9,0.3 2.9,-0.8 2.9,-0.6 0.3,-0.1 2.6,-0.5 5.5,-1.2 8,-1.7 8.1,-1.9 8,-1.9 8.1,-1.6 8,-1.1 8.1,-0.7 8,-0.6 8.1,-0.3 8,0 8.1,0.7 8.1,0.8 8,1.3 8.1,1.8 8,1.9 8.1,1.9 8,2.2 8.1,1.9 8,1.4 8.1,1.1 8,0.9 8.1,0.8 8,0.4 8.1,0 8,-0.2 8.1,-0.4 8,-0.4 8.1,-0.5 8,-0.4 8.1,-0.3 8,-0.2 8.1,-0.3 8,-0.2 8.1,-0.3 8,-0.3 8.1,-0.3 8.1,-0.5 8,-0.6 8.1,-1 8,-1.4 8.1,-1.5 8,-1.6 8.1,-1.7 8,-1.8" stroke="#105888"/>
<path d="M43.5,785.7l2.9,-0.2 2.9,1.9 2.3,-3 0.6,0.3 2.9,0.2 2.9,0.8 1.6,-1 1.3,-1.3 2.9,-0.9 2.9,-0.5 1,0.7 1.9,-1.3 2.9,0.1 2.9,-0.5 0.3,-0.1 2.6,-0.5 5.5,-1.1 8,-1.8 8.1,-1.9 8,-1.9 8.1,-1.5 8,-1.1 8.1,-0.7 8,-0.6 8.1,-0.3 8,0.1 8.1,0.6 8,0.9 8.1,1.3 8.1,1.8 8,2 8.1,1.9 8,2.2 8.1,1.9 8,1.4 8.1,1.1 8,1 8.1,0.7 8,0.4 8.1,0 8,-0.2 8.1,-0.4 8,-0.5 8.1,-0.4 8,-0.4 8.1,-0.3 8,-0.3 8.1,-0.2 8,-0.3 8.1,-0.2 8,-0.3 8.1,-0.4 8,-0.4 8.1,-0.6 8.1,-0.9 8,-1.5 8.1,-1.5 8,-1.6 8.1,-1.6 8,-1.8" stroke="#101010"/>
<path d="M42.7,787.6l2.9,1.7 2.9,0.1 2.3,-1.9 0.6,-1.8 2.9,0.7 2.9,-2.4 1.6,1 1.3,-1.1 2.9,0.4 2.9,0.1 1,0.1 1.9,-1.3 2.9,-0.6 2.9,-0.7 0.3,-0.1 2.6,-0.5 5.5,-1.1 8,-1.7 8.1,-1.9 8,-1.9 8.1,-1.6 8,-1.1 8.1,-0.6 8,-0.6 8.1,-0.3 8,0.2 8.1,0.6 8,0.9 8.1,1.3 8,1.9 8.1,1.9 8.1,2 8,2.2 8.1,2 8,1.3 8.1,1.1 8,1 8.1,0.7 8,0.4 8.1,0 8,-0.2 8.1,-0.4 8,-0.5 8.1,-0.5 8,-0.3 8.1,-0.3 8,-0.3 8.1,-0.2 8,-0.3 8.1,-0.2 8,-0.3 8.1,-0.4 8,-0.4 8.1,-0.6 8,-0.9 8.1,-1.4 8.1,-1.5 8,-1.6 8.1,-1.7 8,-1.7" stroke="#f01818"/>
<path d="M41.9,788.7l2.9,2.6 2.9,-1.9 2.3,-1.6 0.6,0.4 2.9,-0.7 2.9,-2.2 1.6,1.7 1.3,-1.7 2.9,0.5 2.9,-1.1 1,0.2 1.9,-0.3 2.9,-1 2.9,-0.7 0.3,-0.1 2.6,-0.5 5.5,-1.2 8,-1.7 8.1,-1.9 8,-1.9 8.1,-1.5 8,-1.1 8.1,-0.6 8,-0.5 8.1,-0.3 8,0.2 8.1,0.6 8,0.9 8.1,1.4 8,1.9 8.1,2 8,2 8.1,2.2 8.1,1.9 8,1.4 8.1,1.1 8,0.9 8.1,0.8 8,0.4 8.1,0 8,-0.3 8.1,-0.4 8,-0.5 8.1,-0.5 8,-0.4 8.1,-0.2 8,-0.3 8.1,-0.2 8,-0.3 8.1,-0.2 8,-0.4 8.1,-0.3 8,-0.4 8.1,-0.6 8,-0.9 8.1,-1.4 8,-1.5 8.1,-1.6 8.1,-1.6 8,-1.6" stroke="#ff10f0"/>
<path d="M41.1,789l2.9,1.7 2.9,-1.2 2.3,0.4 0.6,-0.1 2.9,-1.2 2.9,-0.5 1.6,-0.8 1.3,0.6 2.9,-2.6 2.9,0.3 1,0.3 1.9,-0.5 2.9,-0.9 2.9,-0.7 0.3,0 2.6,-0.6 5.5,-1.1 8,-1.7 8.1,-1.9 8,-1.9 8.1,-1.5 8,-1.1 8.1,-0.6 8,-0.5 8.1,-0.2 8,0.2 8.1,0.7 8,0.9 8.1,1.4 8,1.9 8.1,2 8,2 8.1,2.2 8,2 8.1,1.3 8.1,1.1 8,0.9 8.1,0.8 8,0.4 8.1,0 8,-0.3 8.1,-0.4 8,-0.5 8.1,-0.5 8,-0.4 8.1,-0.2 8,-0.3 8.1,-0.2 8,-0.3 8.1,-0.2 8,-0.4 8.1,-0.3 8,-0.4 8.1,-0.5 8,-1 8.1,-1.4 8,-1.5 8.1,-1.5 8,-1.6 8.1,-1.6" stroke="#b020e0"/>
<path d="M40.3,790.4l2.9,0.6 2.9,-1.7 2.2,-3.3 0.7,0.1 2.9,2 2.9,-1 1.6,1.7 1.3,-1.9 2.9,0.6 2.9,-1 1,0.6 1.9,-1 2.9,-0.6 2.9,-0.7 0.3,-0.1 2.6,-0.5 5.5,-1.1 8,-1.7 8.1,-1.9 8,-1.8 8.1,-1.6 8,-1 8.1,-0.6 8,-0.4 8.1,-0.2 8,0.2 8.1,0.7 8,0.9 8.1,1.4 8,1.9 8.1,2 8,2.1 8.1,2.2 8,1.9 8.1,1.3 8,1.1 8.1,0.9 8,0.8 8.1,0.3 8.1,0 8,-0.2 8.1,-0.5 8,-0.5 8.1,-0.4 8,-0.4 8.1,-0.3 8,-0.2 8.1,-0.2 8,-0.3 8.1,-0.3 8,-0.3 8.1,-0.3 8,-0.4 8.1,-0.5 8,-1 8.1,-1.4 8,-1.4 8.1,-1.5 8,-1.6 8.1,-1.6" stroke="#8a20d0"/>
<path d="M39.5,791.1l2.9,-0.2 2.9,-3.7 2.2,4.8 0.7,-3.3 2.9,2.1 2.9,-0.3 1.6,-2.7 1.3,0.2 2.9,0.6 2.9,-0.3 0.9,-1.1 2,-0.6 2.9,-0.1 2.9,-0.7 0.3,-0.1 2.6,-0.5 5.5,-1.2 8,-1.6 8.1,-1.9 8,-1.8 8.1,-1.5 8,-1 8.1,-0.6 8,-0.4 8.1,-0.2 8,0.3 8.1,0.7 8,0.9 8.1,1.4 8,2 8.1,2 8,2 8.1,2.2 8,1.9 8.1,1.3 8,1.1 8.1,0.9 8,0.7 8.1,0.4 8.1,0 8,-0.2 8.1,-0.5 8,-0.5 8.1,-0.4 8,-0.4 8.1,-0.3 8,-0.2 8.1,-0.2 8,-0.3 8.1,-0.3 8,-0.3 8.1,-0.3 8,-0.4 8.1,-0.6 8,-0.9 8.1,-1.3 8,-1.5 8.1,-1.5 8,-1.5 8.1,-1.5" stroke="#7028c0"/>
<path d="M38.7,792.8l2.9,-0.7 2.9,-0.8 2.2,-4 0.7,2.8 2.9,0.8 2.9,-1.3 1.6,0.6 1.3,0 2.9,-1.1 2.9,-1 0.9,0.5 2,-0.5 2.9,-0.8 2.9,-0.6 0.3,0 2.6,-0.5 5.4,-1.2 8.1,-1.6 8.1,-1.8 8,-1.8 8.1,-1.6 8,-0.9 8.1,-0.5 8,-0.4 8.1,-0.1 8,0.2 8.1,0.8 8,0.9 8.1,1.4 8,1.9 8.1,2 8,2.1 8.1,2.1 8,1.9 8.1,1.3 8,1.1 8.1,0.9 8,0.7 8.1,0.4 8,0 8.1,-0.3 8.1,-0.4 8,-0.5 8.1,-0.4 8,-0.4 8.1,-0.3 8,-0.2 8.1,-0.2 8,-0.3 8.1,-0.3 8,-0.3 8.1,-0.4 8,-0.4 8.1,-0.5 8,-0.9 8.1,-1.4 8,-1.4 8.1,-1.5 8,-1.4 8.1,-1.5" stroke="#3838b0"/>
<path d="M37.9,793.8l2.9,-0.6 2.9,0.1 2.2,-1.5 0.7,0.1 2.9,-0.9 2.9,1.2 1.6,-0.7 1.3,0.2 2.9,-1.9 2.9,-0.4 0.9,1.1 2,-1.2 2.9,-1.2 2.9,-0.3 0.3,-0.1 2.6,-0.5 5.4,-1.1 8.1,-1.7 8,-1.8 8.1,-1.7 8.1,-1.5 8,-1 8.1,-0.4 8,-0.4 8.1,-0.1 8,0.3 8.1,0.7 8,1 8.1,1.4 8,1.9 8.1,2 8,2 8.1,2.1 8,1.9 8.1,1.3 8,1 8.1,0.9 8,0.7 8.1,0.4 8,0 8.1,-0.2 8,-0.4 8.1,-0.5 8.1,-0.5 8,-0.3 8.1,-0.3 8,-0.2 8.1,-0.2 8,-0.3 8.1,-0.3 8,-0.4 8.1,-0.3 8,-0.4 8.1,-0.5 8,-0.9 8.1,-1.4 8,-1.4 8.1,-1.4 8,-1.5 8.1,-1.4" stroke="#8a8a20"/>
<path d="M37.1,794.4l2.9,3 2.9,-5.3 2.2,2.5 0.7,-2 2.9,-0.3 2.9,1.5 1.6,-2.1 1.3,0.6 2.9,-1.1 2.9,-1.1 0.9,0.2 2,-0.5 2.9,-0.5 2.9,-0.4 0.3,-0.2 2.6,-0.5 5.4,-1.1 8.1,-1.6 8,-1.8 8.1,-1.7 8,-1.5 8.1,-0.9 8.1,-0.4 8,-0.4 8.1,0 8,0.3 8.1,0.7 8,1 8.1,1.4 8,1.9 8.1,2 8,2 8.1,2.1 8,1.8 8.1,1.2 8,1.1 8.1,0.9 8,0.7 8.1,0.4 8,0 8.1,-0.2 8,-0.4 8.1,-0.5 8,-0.5 8.1,-0.3 8.1,-0.3 8,-0.2 8.1,-0.2 8,-0.3 8.1,-0.3 8,-0.4 8.1,-0.4 8,-0.4 8.1,-0.5 8,-0.9 8.1,-1.3 8,-1.4 8.1,-1.4 8,-1.4 8.1,-1.3" stroke="#3a9090"/>
<path d="M36.3,796l2.9,-1.4 2.9,-1.4 2.2,1.6 0.7,1.2 2.9,-3.3 2.9,1.7 1.6,-1.7 1.3,-2.2 2.9,1.6 2.9,0.4 0.9,-0.8 2,-0.3 2.9,-0.9 2.9,-0.8 0.3,0 2.6,-0.5 5.4,-1.1 8.1,-1.6 8,-1.7 8.1,-1.7 8,-1.4 8.1,-0.9 8.1,-0.4 8,-0.3 8.1,0 8,0.3 8.1,0.8 8,0.9 8.1,1.4 8,1.9 8.1,2 8,1.9 8.1,2.1 8,1.8 8.1,1.2 8,1 8.1,0.9 8,0.7 8.1,0.4 8,0 8.1,-0.2 8,-0.3 8.1,-0.5 8,-0.5 8.1,-0.3 8,-0.3 8.1,-0.2 8.1,-0.2 8,-0.3 8.1,-0.4 8,-0.3 8.1,-0.4 8,-0.4 8.1,-0.6 8,-0.8 8.1,-1.3 8,-1.4 8.1,-1.4 8,-1.3 8.1,-1.3" stroke="#a08060"/>
<path d="M35.5,796.4l2.9,1.6 2.9,-3.1 2.2,-0.2 0.7,0.5 2.9,-1.2 2.9,-0.5 1.6,-0.3 1.3,-0.1 2.9,-0.7 2.9,-0.2 0.9,-0.2 2,-0.3 2.9,-0.5 2.9,-0.3 0.3,-0.1 2.6,-0.6 5.4,-1.1 8.1,-1.5 8,-1.7 8.1,-1.6 8,-1.4 8.1,-0.9 8,-0.4 8.1,-0.2 8.1,0 8,0.4 8.1,0.7 8,1 8.1,1.4 8,1.9 8.1,1.9 8,1.9 8.1,2 8,1.7 8.1,1.3 8,0.9 8.1,0.9 8,0.7 8.1,0.4 8,0.1 8.1,-0.2 8,-0.4 8.1,-0.4 8,-0.5 8.1,-0.3 8,-0.3 8.1,-0.2 8.1,-0.2 8,-0.3 8.1,-0.4 8,-0.4 8.1,-0.4 8,-0.4 8.1,-0.5 8,-0.9 8.1,-1.2 8,-1.4 8.1,-1.3 8,-1.3 8.1,-1.3" stroke="#40a040"/>
<path d="M34.7,796.7l2.9,0.7 2.9,1.3 2.2,-0.3 0.7,-2.6 2.9,0.3 2.9,-1.1 1.6,-0.1 1.3,0 2.9,-0.2 2.9,-1.7 0.9,1.2 2,-1.2 2.9,-0.7 2.9,-0.3 0.3,-0.2 2.6,-0.5 5.4,-1.1 8.1,-1.5 8,-1.7 8.1,-1.6 8,-1.3 8.1,-0.8 8,-0.4 8.1,-0.2 8,0 8.1,0.5 8.1,0.7 8,1 8.1,1.4 8,1.8 8.1,1.9 8,1.8 8.1,2 8,1.7 8.1,1.2 8,1 8.1,0.8 8,0.7 8.1,0.4 8,0.1 8.1,-0.1 8,-0.4 8.1,-0.4 8,-0.4 8.1,-0.4 8,-0.3 8.1,-0.2 8,-0.2 8.1,-0.3 8.1,-0.4 8,-0.4 8.1,-0.4 8,-0.5 8.1,-0.5 8,-0.9 8.1,-1.2 8,-1.3 8.1,-1.3 8,-1.3 8.1,-1.1" stroke="#2a8888"/>
<path d="M33.9,797.4l2.9,1.7 2.9,-2.6 2.2,0.6 0.7,0.7 2.9,-3.3 2.9,-0.2 1.6,2 1.3,-1.2 2.9,-0.2 2.9,0.2 0.9,-0.8 2,-0.3 2.9,-0.5 2.9,-0.7 0.3,0.1 2.6,-0.6 5.4,-1.1 8.1,-1.5 8,-1.5 8.1,-1.6 8,-1.3 8.1,-0.8 8,-0.3 8.1,-0.1 8,0 8.1,0.5 8.1,0.8 8,0.9 8.1,1.4 8,1.8 8.1,1.8 8,1.8 8.1,1.9 8,1.7 8.1,1.1 8,1 8.1,0.8 8,0.7 8.1,0.4 8,0.1 8.1,-0.1 8,-0.3 8.1,-0.4 8,-0.4 8.1,-0.4 8,-0.2 8.1,-0.3 8,-0.2 8.1,-0.3 8,-0.4 8.1,-0.4 8.1,-0.5 8,-0.4 8.1,-0.6 8,-0.8 8.1,-1.2 8,-1.3 8.1,-1.3 8,-1.2 8.1,-1.1" stroke="#e02868"/>
<path d="M33.1,799.4l2.9,0.1 2.9,-1.2 2.2,0.4 0.7,1.8 2.9,-3 2.9,-1.1 1.6,1.4 1.3,-0.1 2.9,-1.5 2.9,-0.1 0.9,-1.6 2,0.7 2.9,-0.7 2.9,-0.4 0.3,-0.2 2.6,-0.5 5.4,-1.1 8.1,-1.5 8,-1.5 8.1,-1.5 8,-1.3 8.1,-0.7 8,-0.3 8.1,-0.1 8,0.1 8.1,0.5 8,0.8 8.1,1 8.1,1.3 8,1.8 8.1,1.7 8,1.8 8.1,1.8 8,1.6 8.1,1.2 8,0.9 8.1,0.9 8,0.6 8.1,0.4 8,0.2 8.1,-0.1 8,-0.3 8.1,-0.4 8,-0.4 8.1,-0.3 8,-0.3 8.1,-0.3 8,-0.2 8.1,-0.3 8,-0.4 8.1,-0.5 8,-0.4 8.1,-0.5 8.1,-0.6 8,-0.8 8.1,-1.1 8,-1.3 8.1,-1.3 8,-1.2 8.1,-1" stroke="#50a050"/>
<path d="M32.3,800.2l2.9,0.8 2.9,-1.4 2.2,-0.4 0.7,1.5 2.9,-1.6 2.9,-0.8 1.6,-2.1 1.3,0.7 2.9,-0.3 2.9,0 0.9,0 2,-0.5 2.8,-0.6 2.9,-0.5 0.4,-0.1 2.5,-0.5 5.5,-1.1 8.1,-1.4 8,-1.5 8.1,-1.4 8,-1.2 8.1,-0.7 8,-0.2 8.1,-0.1 8,0.1 8.1,0.5 8,0.9 8.1,0.9 8,1.4 8.1,1.7 8.1,1.7 8,1.7 8.1,1.8 8,1.5 8.1,1.1 8,1 8.1,0.8 8,0.6 8.1,0.4 8,0.2 8.1,-0.1 8,-0.2 8.1,-0.4 8,-0.4 8.1,-0.3 8,-0.3 8.1,-0.2 8,-0.3 8.1,-0.3 8,-0.4 8.1,-0.5 8,-0.5 8.1,-0.5 8,-0.5 8.1,-0.8 8.1,-1.2 8,-1.2 8.1,-1.3 8,-1.1 8.1,-1" stroke="#989090"/>
<path d="M31.5,801.3l2.9,-5.5 2.9,3.8 2.2,-0.3 0.7,2.1 2.9,-3.2 2.9,1.1 1.6,-0.8 1.3,-1.1 2.9,0.3 2.8,0.1 1,-0.5 1.9,-0.3 2.9,-0.5 2.9,-0.5 0.4,0 2.5,-0.6 5.5,-1 8.1,-1.4 8,-1.4 8.1,-1.4 8,-1.1 8.1,-0.7 8,-0.2 8.1,0 8,0.2 8.1,0.5 8,0.8 8.1,1 8,1.3 8.1,1.7 8,1.6 8.1,1.7 8.1,1.7 8,1.5 8.1,1.1 8,0.9 8.1,0.8 8,0.6 8.1,0.5 8,0.1 8.1,0 8,-0.2 8.1,-0.4 8,-0.4 8.1,-0.3 8,-0.3 8.1,-0.2 8,-0.3 8.1,-0.3 8,-0.4 8.1,-0.5 8,-0.5 8.1,-0.5 8,-0.6 8.1,-0.8 8.1,-1.1 8,-1.2 8.1,-1.2 8,-1.1 8.1,-1" stroke="#b09498"/>
<path d="M30.7,801.5l2.9,1.3 2.9,-4 2.2,3.3 0.7,-1.6 2.9,0.1 2.8,-0.8 1.7,-1.1 1.2,0.9 2.9,-0.6 2.9,-0.1 1,-0.2 1.9,-0.2 2.9,-0.8 2.9,-0.7 0.4,0 2.5,-0.5 5.5,-1.1 8.1,-1.4 8,-1.3 8.1,-1.3 8,-1.1 8.1,-0.6 8,-0.1 8.1,0 8,0.2 8.1,0.6 8,0.8 8.1,1 8,1.3 8.1,1.6 8,1.6 8.1,1.6 8,1.6 8.1,1.5 8.1,1 8,1 8.1,0.7 8,0.6 8.1,0.5 8,0.2 8.1,0 8,-0.2 8.1,-0.4 8,-0.3 8.1,-0.3 8,-0.3 8.1,-0.3 8,-0.2 8.1,-0.4 8,-0.4 8.1,-0.5 8,-0.6 8.1,-0.5 8,-0.5 8.1,-0.8 8,-1.1 8.1,-1.1 8.1,-1.3 8,-1 8.1,-1" stroke="#8a9a28"/>
<path d="M29.9,803.2l2.9,-1.1 2.8,-0.9 2.3,2.5 0.6,-2.1 2.9,-0.4 2.9,-0.8 1.7,0 1.2,-0.2 2.9,-0.3 2.9,-1.1 1,-0.1 1.9,0.2 2.9,-0.4 2.9,-0.5 0.4,0 2.5,-0.5 5.5,-1 8.1,-1.4 8,-1.2 8.1,-1.3 8,-1 8.1,-0.5 8,-0.1 8.1,0.1 8,0.2 8.1,0.6 8,0.9 8.1,0.9 8,1.3 8.1,1.6 8,1.5 8.1,1.6 8,1.5 8.1,1.4 8,1 8.1,0.9 8.1,0.7 8,0.6 8.1,0.5 8,0.2 8.1,0 8,-0.1 8.1,-0.3 8,-0.4 8.1,-0.3 8,-0.3 8.1,-0.2 8,-0.3 8.1,-0.4 8,-0.4 8.1,-0.5 8,-0.6 8.1,-0.5 8,-0.6 8.1,-0.8 8,-1 8.1,-1.1 8,-1.2 8.1,-1.1 8.1,-0.8" stroke="#2a9098"/>
<path d="M29,804.3l2.9,-1 2.9,-0.4 2.3,0.6 0.6,1.1 2.9,-2.3 2.9,-2.1 1.7,2 1.2,-0.6 2.9,-1.1 2.9,-0.4 1,-1.1 1.9,0.8 2.9,-0.2 2.9,-0.5 0.4,-0.1 2.5,-0.5 5.5,-1 8.1,-1.3 8,-1.2 8.1,-1.1 8,-1 8.1,-0.5 8,0 8.1,0.1 8,0.3 8.1,0.7 8,0.8 8.1,1 8,1.3 8.1,1.4 8,1.5 8.1,1.5 8,1.5 8.1,1.3 8,1 8.1,0.9 8,0.7 8.1,0.6 8.1,0.4 8,0.3 8.1,0 8,-0.1 8.1,-0.3 8,-0.3 8.1,-0.3 8,-0.3 8.1,-0.2 8,-0.3 8.1,-0.4 8,-0.5 8.1,-0.5 8,-0.6 8.1,-0.5 8,-0.6 8.1,-0.8 8,-1 8.1,-1.1 8,-1.2 8.1,-1 8,-0.8" stroke="#608858"/>
<path d="M28.2,804.8l2.9,1.6 2.9,-1.2 2.3,-0.3 0.6,-1.9 2.9,1 2.9,-0.5 1.6,-0.2 1.3,-0.9 2.9,-0.7 2.9,0.4 1,0 1.9,-1.1 2.9,-0.3 2.9,-0.6 0.4,0 2.5,-0.6 5.5,-0.9 8.1,-1.3 8,-1.2 8.1,-1 8,-0.9 8.1,-0.4 8,0 8.1,0.2 8,0.3 8.1,0.7 8,0.9 8.1,1 8,1.2 8.1,1.4 8,1.5 8.1,1.4 8,1.4 8.1,1.2 8,1 8.1,0.9 8,0.6 8.1,0.6 8,0.5 8.1,0.2 8.1,0.1 8,-0.1 8.1,-0.2 8,-0.3 8.1,-0.3 8,-0.3 8.1,-0.3 8,-0.3 8.1,-0.4 8,-0.5 8.1,-0.5 8,-0.6 8.1,-0.5 8,-0.6 8.1,-0.8 8,-0.9 8.1,-1.1 8,-1.2 8.1,-1 8,-0.8" stroke="#909888"/>
<path d="M27.4,806.2l2.9,-1.4 2.9,1.6 2.3,-1.5 0.6,0 2.9,0.4 2.9,-3.1 1.6,-0.1 1.3,0.3 2.9,1.1 2.9,-1 1,-0.4 1.9,-0.4 2.9,-0.4 2.9,-0.2 0.3,-0.1 2.6,-0.5 5.5,-0.9 8.1,-1.3 8,-1 8.1,-1 8,-0.8 8.1,-0.4 8,0.1 8.1,0.3 8,0.4 8.1,0.7 8,0.9 8.1,1 8,1.2 8.1,1.4 8,1.3 8.1,1.4 8,1.3 8.1,1.1 8,1 8.1,0.8 8,0.7 8.1,0.6 8,0.4 8.1,0.3 8,0.1 8.1,-0.1 8.1,-0.2 8,-0.3 8.1,-0.3 8,-0.2 8.1,-0.3 8,-0.3 8.1,-0.4 8,-0.5 8.1,-0.6 8,-0.5 8.1,-0.6 8,-0.6 8.1,-0.8 8,-0.9 8.1,-1 8,-1.2 8.1,-1 8,-0.8" stroke="#2080b0"/>
<path d="M16.9,817.9l2.9,-0.9 2.9,0.2 2.3,0 0.6,0.6 2.9,-3.7 2.9,1.7 1.6,-1.4 1.3,0.6 2.9,-0.3 2.9,-0.2 1,-1.2 1.9,0.3 2.9,-1.3 2.9,0.1 0.3,-0.1 2.6,-0.2 5.5,-0.6 8,-0.4 8.1,-0.1 8,0.2 8.1,0.9 8,1.4 8.1,1.5 8,1.4 8.1,1.4 8,1.4 8.1,1.5 8,1.3 8.1,0.8 8.1,0.7 8,0.5 8.1,0.5 8,0.4 8.1,0.4 8,0.3 8.1,0.3 8,0.3 8.1,0.2 8,0.3 8.1,0.2 8,0.2 8.1,0.2 8,0.1 8.1,0.1 8,0 8.1,-0.2 8,-0.3 8.1,-0.4 8,-0.5 8.1,-0.4 8,-0.5 8.1,-0.5 8,-0.6 8.1,-0.5 8.1,-0.6 8,-0.6 8.1,-0.9 8,-1.3 8.1,-1.9 8,-2.5" stroke="#40a040"/>
<path d="M16.1,819.1l2.9,-1.3 2.9,-0.1 2.3,-4 0.6,1.7 2.9,-0.7 2.9,1.1 1.6,-0.3 1.3,0.2 2.9,-0.1 2.9,0.5 1,-2.1 1.9,0.2 2.9,-0.4 2.9,-0.6 0.3,0 2.6,-0.3 5.5,-0.6 8,-0.3 8.1,0 8,0.3 8.1,1.1 8,1.6 8.1,1.6 8,1.6 8.1,1.5 8,1.5 8.1,1.5 8,1.3 8.1,0.8 8,0.6 8.1,0.5 8,0.4 8.1,0.3 8,0.3 8.1,0.3 8.1,0.3 8,0.2 8.1,0.2 8,0.2 8.1,0.2 8,0.2 8.1,0.2 8,0.2 8.1,0.1 8,0 8.1,-0.1 8,-0.4 8.1,-0.4 8,-0.5 8.1,-0.4 8,-0.5 8.1,-0.4 8,-0.6 8.1,-0.5 8,-0.6 8.1,-0.6 8,-0.8 8.1,-1.4 8,-2.1 8.1,-2.7" stroke="#30b040"/>
</g>
<g fill="none" stroke-width="1.8" stroke-linejoin="round">
<path d="M26.6,806.6l2.9,-0.7 2.9,-0.4 2.3,-0.3 0.6,-2.7 2.9,2.5 2.9,-0.1 1.6,0.6 1.3,-0.7 2.9,-1.3 2.9,-0.2 1,-0.4 1.9,0 2.9,-0.5 2.9,-0.3 0.3,-0.1 2.6,-0.5 5.5,-0.9 8,-1.2 8.1,-1 8,-0.9 8.1,-0.7 8.1,-0.3 8,0.1 8.1,0.4 8,0.4 8.1,0.8 8,0.9 8.1,1 8,1.2 8.1,1.3 8,1.3 8.1,1.3 8,1.2 8.1,1.1 8,0.9 8.1,0.9 8,0.6 8.1,0.5 8,0.5 8.1,0.3 8,0.1 8.1,0 8,-0.2 8.1,-0.3 8.1,-0.3 8,-0.2 8.1,-0.3 8,-0.3 8.1,-0.4 8,-0.5 8.1,-0.6 8,-0.6 8.1,-0.6 8,-0.6 8.1,-0.7 8,-0.9 8.1,-1.1 8,-1.1 8.1,-1 8,-0.9" stroke="#1878a8"/>
<path d="M25.8,807.1l2.9,-4 2.9,2.5 2.3,2.6 0.6,-0.3 2.9,-2.2 2.9,-1.1 1.6,2 1.3,-0.9 2.9,-0.1 2.9,-0.3 1,-0.9 1.9,-0.4 2.9,-0.6 2.9,-0.4 0.3,-0.1 2.6,-0.4 5.5,-0.9 8,-1.2 8.1,-0.9 8,-0.8 8.1,-0.6 8,-0.2 8.1,0.2 8.1,0.4 8,0.5 8.1,0.8 8,0.9 8.1,1 8,1.2 8.1,1.2 8,1.3 8.1,1.2 8,1.2 8.1,1 8,0.9 8.1,0.8 8,0.6 8.1,0.5 8,0.5 8.1,0.3 8,0.2 8.1,-0.1 8,-0.1 8.1,-0.3 8,-0.3 8.1,-0.2 8,-0.3 8.1,-0.3 8.1,-0.4 8,-0.6 8.1,-0.5 8,-0.6 8.1,-0.6 8,-0.7 8.1,-0.7 8,-0.8 8.1,-1 8,-1.2 8.1,-1 8,-0.9" stroke="#105888"/>
<path d="M25,809.6l2.9,-3 2.9,2.8 2.3,-1.9 0.6,-0.9 2.9,-1.9 2.9,0.7 1.6,2.2 1.3,-1.4 2.9,0 2.9,-0.6 1,-0.5 1.9,0.1 2.9,-0.7 2.9,-0.5 0.3,-0.1 2.6,-0.4 5.5,-0.9 8,-1.1 8.1,-0.9 8,-0.7 8.1,-0.6 8,-0.1 8.1,0.3 8,0.5 8.1,0.5 8,0.9 8.1,0.9 8.1,1 8,1.2 8.1,1.2 8,1.2 8.1,1.1 8,1.1 8.1,1 8,0.9 8.1,0.7 8,0.6 8.1,0.5 8,0.5 8.1,0.3 8,0.2 8.1,0 8,-0.2 8.1,-0.2 8,-0.2 8.1,-0.3 8,-0.3 8.1,-0.3 8,-0.4 8.1,-0.6 8.1,-0.6 8,-0.6 8.1,-0.6 8,-0.6 8.1,-0.7 8,-0.8 8.1,-1 8,-1.1 8.1,-1 8,-1" stroke="#101010"/>
<path d="M24.2,808.9l2.9,1.7 2.9,-2.9 2.3,2 0.6,-2.4 2.9,1.2 2.9,-1.9 1.6,0.9 1.3,0 2.9,-0.3 2.9,-1.4 1,-0.3 1.9,0.5 2.9,-0.6 2.9,-0.5 0.3,-0.1 2.6,-0.4 5.5,-0.9 8,-1 8.1,-0.8 8,-0.7 8.1,-0.4 8,0 8.1,0.4 8,0.5 8.1,0.6 8,0.9 8.1,1 8,1 8.1,1.1 8,1.2 8.1,1.1 8.1,1.1 8,1 8.1,0.9 8,0.9 8.1,0.7 8,0.6 8.1,0.5 8,0.4 8.1,0.4 8,0.1 8.1,0.1 8,-0.2 8.1,-0.2 8,-0.2 8.1,-0.3 8,-0.2 8.1,-0.4 8,-0.4 8.1,-0.5 8,-0.6 8.1,-0.7 8,-0.6 8.1,-0.6 8.1,-0.7 8,-0.8 8.1,-0.9 8,-1.2 8.1,-1 8,-1" stroke="#f01818"/>
<path d="M23.4,810.9l2.9,-0.9 2.9,0.8 2.3,-2.8 0.6,0.8 2.9,-1.3 2.9,1.7 1.6,-0.8 1.3,0.1 2.9,-1.2 2.9,-1.5 1,0.8 1.9,0.1 2.9,-0.4 2.9,-0.5 0.3,0 2.6,-0.5 5.5,-0.8 8,-1 8.1,-0.7 8,-0.6 8.1,-0.3 8,0.1 8.1,0.4 8,0.6 8.1,0.7 8,0.9 8.1,1.1 8,1 8.1,1.1 8,1.1 8.1,1.1 8,1 8.1,1 8.1,0.8 8,0.8 8.1,0.7 8,0.6 8.1,0.4 8,0.5 8.1,0.3 8,0.2 8.1,0 8,0 8.1,-0.2 8,-0.2 8.1,-0.3 8,-0.3 8.1,-0.3 8,-0.5 8.1,-0.5 8,-0.6 8.1,-0.6 8,-0.6 8.1,-0.7 8,-0.6 8.1,-0.8 8,-1 8.1,-1.1 8.1,-1.1 8,-1" stroke="#ff10f0"/>
<path d="M22.6,811.9l2.9,1.7 2.9,-3.4 2.2,0.2 0.7,1.2 2.9,-1.3 2.9,-1.7 1.6,0.1 1.3,0 2.9,-0.3 2.9,0.2 1,-1.2 1.9,0.3 2.9,-0.6 2.9,-0.5 0.3,0.1 2.6,-0.5 5.5,-0.8 8,-0.9 8.1,-0.7 8,-0.5 8.1,-0.2 8,0.3 8.1,0.5 8,0.7 8.1,0.7 8,1 8.1,1.1 8,1 8.1,1.1 8,1.1 8.1,1 8,0.9 8.1,0.9 8,0.8 8.1,0.8 8,0.7 8.1,0.5 8,0.4 8.1,0.4 8.1,0.4 8,0.2 8.1,0 8,0 8.1,-0.2 8,-0.2 8.1,-0.2 8,-0.3 8.1,-0.3 8,-0.5 8.1,-0.6 8,-0.5 8.1,-0.7 8,-0.6 8.1,-0.6 8,-0.7 8.1,-0.7 8,-0.9 8.1,-1.2 8,-1.1 8.1,-1.2" stroke="#b020e0"/>
<path d="M21.8,813l2.9,0.1 2.9,-2.6 2.2,1.6 0.7,-1.3 2.9,-1.7 2.9,0.7 1.6,0.6 1.3,-0.7 2.9,-0.9 2.9,0.4 0.9,-0.1 2,-0.2 2.9,-0.8 2.9,-0.5 0.3,-0.1 2.6,-0.4 5.4,-0.8 8.1,-0.9 8.1,-0.5 8,-0.4 8.1,-0.1 8,0.3 8.1,0.7 8,0.8 8.1,0.8 8,1 8.1,1.1 8,1.1 8.1,1.1 8,1 8.1,0.9 8,0.9 8.1,0.9 8,0.7 8.1,0.7 8,0.6 8.1,0.5 8,0.4 8.1,0.4 8,0.4 8.1,0.2 8,0.1 8.1,-0.1 8.1,-0.1 8,-0.2 8.1,-0.2 8,-0.3 8.1,-0.4 8,-0.4 8.1,-0.6 8,-0.5 8.1,-0.7 8,-0.6 8.1,-0.6 8,-0.6 8.1,-0.8 8,-0.9 8.1,-1.1 8,-1.2 8.1,-1.3" stroke="#8a20d0"/>
<path d="M21,814.5l2.9,-0.8 2.9,1.6 2.2,-2.4 0.7,0.2 2.9,-2.2 2.9,-0.1 1.6,0.4 1.3,0.3 2.9,-2.1 2.9,-0.4 0.9,0.5 2,-0.3 2.9,-0.3 2.9,-0.4 0.3,-0.2 2.6,-0.3 5.4,-0.8 8.1,-0.8 8,-0.5 8.1,-0.3 8,0.1 8.1,0.5 8,0.7 8.1,0.9 8.1,0.9 8,1.1 8.1,1.2 8,1 8.1,1.1 8,0.9 8.1,0.9 8,0.9 8.1,0.7 8,0.7 8.1,0.7 8,0.5 8.1,0.5 8,0.4 8.1,0.4 8,0.3 8.1,0.2 8,0.1 8.1,0 8,-0.1 8.1,-0.2 8,-0.2 8.1,-0.3 8.1,-0.3 8,-0.5 8.1,-0.5 8,-0.6 8.1,-0.6 8,-0.6 8.1,-0.6 8,-0.7 8.1,-0.7 8,-0.9 8.1,-1.1 8,-1.3 8.1,-1.5" stroke="#7028c0"/>
<path d="M20.2,813.9l2.9,0.2 2.9,-1.1 2.2,-1.2 0.7,0.5 2.9,0.4 2.9,-0.6 1.6,0 1.3,-1.3 2.9,0 2.9,-0.4 0.9,-0.4 2,0.1 2.9,-0.9 2.9,0 0.3,0 2.5,-0.4 5.5,-0.7 8.1,-0.7 8,-0.5 8.1,-0.2 8,0.2 8.1,0.7 8,0.9 8.1,1 8,1 8.1,1.1 8,1.2 8.1,1.2 8,0.9 8.1,0.9 8.1,0.9 8,0.7 8.1,0.7 8,0.6 8.1,0.7 8,0.5 8.1,0.4 8,0.4 8.1,0.3 8,0.3 8.1,0.3 8,0.1 8.1,0 8,-0.1 8.1,-0.1 8,-0.2 8.1,-0.3 8,-0.4 8.1,-0.5 8,-0.5 8.1,-0.5 8,-0.6 8.1,-0.6 8.1,-0.6 8,-0.6 8.1,-0.7 8,-0.9 8.1,-1.2 8,-1.4 8.1,-1.6" stroke="#3838b0"/>
<path d="M19.4,814.4l2.9,1.9 2.8,-2.6 2.3,-0.3 0.6,-2.3 2.9,1.8 2.9,0.3 1.7,-0.2 1.2,-0.4 2.9,-1 2.9,-0.5 1,0.1 1.9,-0.1 2.9,-0.7 2.9,-0.4 0.4,0 2.5,-0.3 5.5,-0.8 8.1,-0.6 8,-0.3 8.1,-0.2 8,0.4 8.1,0.9 8,1 8.1,1.1 8,1.1 8.1,1.2 8,1.2 8.1,1.2 8,1 8.1,0.8 8,0.7 8.1,0.8 8,0.6 8.1,0.5 8.1,0.6 8,0.5 8.1,0.3 8,0.4 8.1,0.3 8,0.3 8.1,0.2 8,0.2 8.1,0 8,0 8.1,-0.1 8,-0.2 8.1,-0.3 8,-0.4 8.1,-0.5 8,-0.5 8.1,-0.5 8,-0.6 8.1,-0.6 8,-0.6 8.1,-0.6 8,-0.7 8.1,-0.8 8,-1.3 8.1,-1.5 8.1,-1.8" stroke="#8a8a20"/>
<path d="M18.5,816l2.9,-0.7 2.9,0.1 2.3,-1.2 0.6,-0.6 2.9,0.4 2.9,0.8 1.6,-1.2 1.3,-0.2 2.9,-1.5 2.9,-0.1 1,-0.5 1.9,0.7 2.9,-0.6 2.9,-0.5 0.3,-0.1 2.6,-0.3 5.5,-0.7 8.1,-0.6 8,-0.2 8.1,0 8,0.5 8.1,1 8,1.2 8.1,1.2 8,1.2 8.1,1.3 8,1.3 8.1,1.2 8,0.9 8.1,0.8 8,0.7 8.1,0.6 8,0.6 8.1,0.5 8,0.4 8.1,0.5 8,0.3 8.1,0.3 8,0.3 8.1,0.3 8.1,0.2 8,0.2 8.1,0 8,0 8.1,0 8,-0.2 8.1,-0.3 8,-0.4 8.1,-0.5 8,-0.5 8.1,-0.5 8,-0.6 8.1,-0.5 8,-0.6 8.1,-0.6 8,-0.7 8.1,-0.8 8,-1.3 8.1,-1.6 8,-2.1" stroke="#3a9090"/>
<path d="M17.7,816.9l2.9,1 2.9,-1.9 2.3,-0.6 0.6,-1.6 2.9,1 2.9,-0.2 1.6,-0.2 1.3,-0.8 2.9,1 2.9,-2.3 1,0.8 1.9,-1.1 2.9,-0.2 2.9,-0.1 0.3,-0.1 2.6,-0.3 5.5,-0.7 8,-0.4 8.1,-0.2 8,0.1 8.1,0.7 8,1.2 8.1,1.3 8.1,1.4 8,1.3 8.1,1.3 8,1.4 8.1,1.2 8,0.9 8.1,0.7 8,0.6 8.1,0.6 8,0.5 8.1,0.4 8,0.4 8.1,0.4 8,0.3 8.1,0.3 8,0.2 8.1,0.3 8,0.2 8.1,0.2 8,0.1 8.1,0 8,0 8.1,-0.2 8,-0.3 8.1,-0.4 8.1,-0.5 8,-0.5 8.1,-0.5 8,-0.5 8.1,-0.6 8,-0.5 8.1,-0.6 8,-0.7 8.1,-0.8 8,-1.3 8.1,-1.8 8,-2.2" stroke="#a08060"/>
</g>
<path d="M476,590.6L487,589.5L500.5,587.8L499.5,592L497,596.3L490,595.2L482,592.5Z" fill="#c828e8" stroke="none"/>
<path d="M301.3,518.5V645.5" stroke="#ff0000" stroke-width="2.4" stroke-dasharray="1.5 1.87" fill="none"/>
<path d="M296.9,644.8H305.7L303.9,647.7L304.4,648.7L303.1,651.8L303.5,652.8L302.5,656.3L301.9,662.5H300.7L300.1,656.3L299.1,652.8L299.5,651.8L298.2,648.7L298.7,647.7Z" fill="#ff0000" stroke="none"/>
<text x="123.3" y="24.8" font-size="15">A</text>
<text x="119.6" y="486.2" font-size="15">B</text>
<text x="6.2" y="405.5" font-size="17.8" text-anchor="start">10<tspan font-size="12.2" dy="-7.3">6</tspan></text>
<text x="135.2" y="405.5" font-size="17.8" text-anchor="start">10<tspan font-size="12.2" dy="-7.3">7</tspan></text>
<text x="264" y="405.5" font-size="17.8" text-anchor="start">10<tspan font-size="12.2" dy="-7.3">8</tspan></text>
<text x="392.6" y="405.5" font-size="17.8" text-anchor="start">10<tspan font-size="12.2" dy="-7.3">9</tspan></text>
<text x="2" y="867.2" font-size="17.8" text-anchor="start">10<tspan font-size="12.2" dy="-7.3">6</tspan></text>
<text x="130.5" y="867.2" font-size="17.8" text-anchor="start">10<tspan font-size="12.2" dy="-7.3">7</tspan></text>
<text x="259" y="867.2" font-size="17.8" text-anchor="start">10<tspan font-size="12.2" dy="-7.3">8</tspan></text>
<text x="387.7" y="867.2" font-size="17.8" text-anchor="start">10<tspan font-size="12.2" dy="-7.3">9</tspan></text>
<g transform="translate(0,0)" fill="none" stroke="#1a1a1a" stroke-linecap="round"><path d="M165.7,426.5C166.3,428.7 168.7,428.5 170.3,424.4C172.1,419.8 173,414 174.6,409.6C175.9,406 178,404.5 179.8,406.7" stroke-width="1.55"/><path d="M170.4,412.4H176.4" stroke-width="1.1"/><circle cx="165.7" cy="426.3" r="0.9" fill="#1a1a1a" stroke="none"/><circle cx="180" cy="407" r="0.9" fill="#1a1a1a" stroke="none"/></g>
<text x="210.3" y="422" font-size="25.3">(Hz)</text>
<g transform="translate(6.3,476.2)" fill="none" stroke="#1a1a1a" stroke-linecap="round"><path d="M165.7,426.5C166.3,428.7 168.7,428.5 170.3,424.4C172.1,419.8 173,414 174.6,409.6C175.9,406 178,404.5 179.8,406.7" stroke-width="1.55"/><path d="M170.4,412.4H176.4" stroke-width="1.1"/><circle cx="165.7" cy="426.3" r="0.9" fill="#1a1a1a" stroke="none"/><circle cx="180" cy="407" r="0.9" fill="#1a1a1a" stroke="none"/></g>
<text x="217" y="898" font-size="25.3">(Hz)</text>
<text x="535.5" y="46.2" font-size="14.5">9.5</text>
<text x="535.5" y="83.5" font-size="14.5">7.6</text>
<text x="535.5" y="120.8" font-size="14.5">5.7</text>
<text x="535.5" y="158.1" font-size="14.5">3.8</text>
<text x="535.5" y="195.4" font-size="14.5">1.9</text>
<text x="530.5" y="502.0" font-size="14.5">3.10</text>
<text x="530.5" y="538.7" font-size="14.5">2.48</text>
<text x="530.5" y="575.4" font-size="14.5">1.86</text>
<text x="530.5" y="612.1" font-size="14.5">1.24</text>
<text x="530.5" y="648.8" font-size="14.5">0.62</text>
<text transform="translate(580.5,260.5) rotate(-90)" font-size="25">dielectric permittivity</text>
<text transform="translate(580.5,31.3) rotate(-90) scale(1.35,1)" font-size="36" class="se">ε</text>
<path d="M561.4,12.6L567.2,15" stroke="#1a1a1a" stroke-width="1.7" stroke-linecap="round" fill="none"/>
<text transform="translate(581.5,666) rotate(-90)" font-size="25">dieletric loss</text>
<text transform="translate(583,522.7) rotate(-90) scale(1.35,1)" font-size="34" class="se">ε</text>
<path d="M564,499L570,501.3M564,503.6L570,505.9" stroke="#1a1a1a" stroke-width="1.7" stroke-linecap="round" fill="none"/>
<text transform="translate(443.5,363) rotate(-53.2)" font-size="24.5">temperature, <tspan font-style="italic" dx="4">T</tspan></text>
<text transform="translate(443.2,829.2) rotate(-51.5) skewX(13)" font-size="23.2" letter-spacing="0.55">temperature, <tspan font-style="italic" dx="5">T</tspan></text>
<path d="M520.5,212L403.5,368.5" stroke="#1a1a1a" stroke-width="1" fill="none"/>
<path d="M401.6,371l2.2,-9.2l4.4,3.3z" fill="#1a1a1a"/>
<path d="M517,673L405,822.8" stroke="#1a1a1a" stroke-width="1" fill="none"/>
<path d="M402.8,825.8l2,-8.4l4,3z" fill="#1a1a1a"/>
</svg>
</body></html>
